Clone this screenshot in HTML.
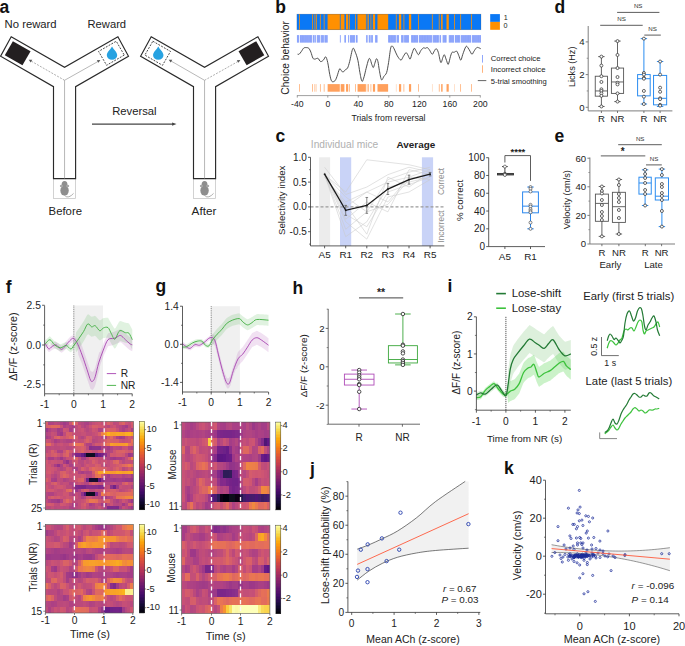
<!DOCTYPE html>
<html><head><meta charset="utf-8"><style>
html,body{margin:0;padding:0;background:#fff;width:685px;height:646px;overflow:hidden}
svg{display:block;font-family:"Liberation Sans", sans-serif}
</style></head><body>
<svg width="685" height="646" viewBox="0 0 685 646">
<defs><filter id="hblur" x="-5%" y="-5%" width="110%" height="110%"><feGaussianBlur stdDeviation="0.5"/></filter></defs>
<rect width="685" height="646" fill="#fff"/>
<text x="-0.5" y="12.8" font-size="17.5" text-anchor="start" fill="#111" font-weight="bold">a</text>
<text x="4.6" y="27.7" font-size="11.2" text-anchor="start" fill="#222" textLength="52" lengthAdjust="spacingAndGlyphs">No reward</text>
<text x="87.5" y="27.7" font-size="11.2" text-anchor="start" fill="#222" textLength="38.6" lengthAdjust="spacingAndGlyphs">Reward</text>
<rect x="53.5" y="178.6" width="22.1" height="19.8" fill="white" stroke="#c4c4c4" stroke-width="0.75" />
<path d="M11.2,36.7 L64.55,67.3 L117.9,36.7 L128.5,56.2 L75.6,86.7 L75.6,178.6 L53.5,178.6 L53.5,86.7 L0.6,56.2Z" stroke="#2a2a2a" stroke-width="1.15" fill="white" stroke-linejoin="miter"/>
<line x1="64.55" y1="80.5" x2="64.55" y2="178.6" stroke="#999" stroke-width="0.7" />
<rect x="7.48" y="45.15" width="20.4" height="16.2" fill="#231f20" transform="rotate(30 17.68 53.25)"/>
<rect x="101.22" y="45.25" width="20.4" height="16.0" fill="none" stroke="#333" stroke-width="0.8" stroke-dasharray="1.9 1.3" transform="rotate(150 111.42 53.25)"/>
<path d="M112.02,46.55 C113.52,49.55 117.22,52.05 117.22,55.25 A5.2,4.6 0 0 1 106.82,55.25 C106.82,52.05 110.52,49.55 112.02,46.55 Z" fill="#27a2e1"/>
<line x1="64.55" y1="80.3" x2="31" y2="61" stroke="#777" stroke-width="0.6" stroke-dasharray="2 1.3" />
<path d="M28.7,59.7 l3.6,0.1 l-1.6,2.6 Z" fill="#555"/>
<line x1="64.55" y1="80.3" x2="98.3" y2="61.3" stroke="#888" stroke-width="0.6" />
<path d="M100.4,60.1 l-3.6,0.1 l1.6,2.6 Z" fill="#555"/>
<ellipse cx="64.55" cy="190.6" rx="4.2" ry="5.0" fill="#8e8e8e"/>
<ellipse cx="64.55" cy="184.6" rx="2.9" ry="3.6" fill="#8e8e8e"/>
<ellipse cx="61.45" cy="186.0" rx="1.6" ry="1.2" fill="#a8a8a8"/>
<ellipse cx="67.65" cy="186.0" rx="1.6" ry="1.2" fill="#a8a8a8"/>
<path d="M64.55,195.2 q1.2,2.6 4.4,1.6 q2.6,-1.0 4.6,-3.4" stroke="#8e8e8e" stroke-width="0.7" fill="none"/>
<rect x="193.5" y="178.6" width="22.1" height="19.8" fill="white" stroke="#c4c4c4" stroke-width="0.75" />
<path d="M151.2,36.7 L204.55,67.3 L257.9,36.7 L268.5,56.2 L215.6,86.7 L215.6,178.6 L193.5,178.6 L193.5,86.7 L140.6,56.2Z" stroke="#2a2a2a" stroke-width="1.15" fill="white" stroke-linejoin="miter"/>
<line x1="204.55" y1="80.5" x2="204.55" y2="178.6" stroke="#999" stroke-width="0.7" />
<rect x="147.48" y="45.25" width="20.4" height="16.0" fill="none" stroke="#333" stroke-width="0.8" stroke-dasharray="1.9 1.3" transform="rotate(30 157.68 53.25)"/>
<path d="M158.28,46.55 C159.78,49.55 163.48,52.05 163.48,55.25 A5.2,4.6 0 0 1 153.08,55.25 C153.08,52.05 156.78,49.55 158.28,46.55 Z" fill="#27a2e1"/>
<rect x="241.22" y="45.15" width="20.4" height="16.2" fill="#231f20" transform="rotate(150 251.42 53.25)"/>
<line x1="204.55" y1="80.3" x2="171" y2="61" stroke="#888" stroke-width="0.6" />
<path d="M168.7,59.7 l3.6,0.1 l-1.6,2.6 Z" fill="#555"/>
<line x1="204.55" y1="80.3" x2="238.3" y2="61.3" stroke="#777" stroke-width="0.6" stroke-dasharray="2 1.3" />
<path d="M240.4,60.1 l-3.6,0.1 l1.6,2.6 Z" fill="#555"/>
<ellipse cx="204.55" cy="190.6" rx="4.2" ry="5.0" fill="#8e8e8e"/>
<ellipse cx="204.55" cy="184.6" rx="2.9" ry="3.6" fill="#8e8e8e"/>
<ellipse cx="201.45" cy="186.0" rx="1.6" ry="1.2" fill="#a8a8a8"/>
<ellipse cx="207.65" cy="186.0" rx="1.6" ry="1.2" fill="#a8a8a8"/>
<path d="M204.55,195.2 q1.2,2.6 4.4,1.6 q2.6,-1.0 4.6,-3.4" stroke="#8e8e8e" stroke-width="0.7" fill="none"/>
<text x="112.2" y="115.4" font-size="11.2" text-anchor="start" fill="#222" textLength="44.4" lengthAdjust="spacingAndGlyphs">Reversal</text>
<line x1="92" y1="124.1" x2="173" y2="124.1" stroke="#444" stroke-width="1.1" />
<path d="M176.5,124.1 l-4.4,-1.7 l0,3.4 Z" fill="#444"/>
<text x="48.6" y="214.6" font-size="11.2" text-anchor="start" fill="#222" textLength="33.4" lengthAdjust="spacingAndGlyphs">Before</text>
<text x="191.6" y="214.6" font-size="11.2" text-anchor="start" fill="#222" textLength="24.8" lengthAdjust="spacingAndGlyphs">After</text>
<text x="275.2" y="12.8" font-size="17.5" text-anchor="start" fill="#111" font-weight="bold">b</text>
<rect x="296.9" y="14.1" width="184.1" height="15.7" fill="#0a78f5" stroke="none" stroke-width="1" />
<g><rect x="299.2" y="14.1" width="0.77" height="15.7" fill="#ff9000"/><rect x="312.24" y="14.1" width="0.77" height="15.7" fill="#ff9000"/><rect x="314.54" y="14.1" width="0.77" height="15.7" fill="#ff9000"/><rect x="316.08" y="14.1" width="0.77" height="15.7" fill="#ff9000"/><rect x="319.91" y="14.1" width="0.77" height="15.7" fill="#ff9000"/><rect x="323.75" y="14.1" width="0.77" height="15.7" fill="#ff9000"/><rect x="327.58" y="14.1" width="12.27" height="15.7" fill="#ff9000"/><rect x="340.62" y="14.1" width="3.84" height="15.7" fill="#ff9000"/><rect x="345.99" y="14.1" width="2.3" height="15.7" fill="#ff9000"/><rect x="349.06" y="14.1" width="0.77" height="15.7" fill="#ff9000"/><rect x="355.2" y="14.1" width="0.77" height="15.7" fill="#ff9000"/><rect x="357.5" y="14.1" width="8.44" height="15.7" fill="#ff9000"/><rect x="366.7" y="14.1" width="0.77" height="15.7" fill="#ff9000"/><rect x="368.24" y="14.1" width="0.77" height="15.7" fill="#ff9000"/><rect x="370.54" y="14.1" width="0.77" height="15.7" fill="#ff9000"/><rect x="372.84" y="14.1" width="2.3" height="15.7" fill="#ff9000"/><rect x="377.44" y="14.1" width="10.74" height="15.7" fill="#ff9000"/><rect x="395.85" y="14.1" width="0.77" height="15.7" fill="#ff9000"/><rect x="398.92" y="14.1" width="2.3" height="15.7" fill="#ff9000"/><rect x="403.52" y="14.1" width="0.77" height="15.7" fill="#ff9000"/><rect x="408.89" y="14.1" width="2.3" height="15.7" fill="#ff9000"/><rect x="418.1" y="14.1" width="0.77" height="15.7" fill="#ff9000"/><rect x="431.91" y="14.1" width="0.77" height="15.7" fill="#ff9000"/><rect x="438.81" y="14.1" width="0.77" height="15.7" fill="#ff9000"/><rect x="441.11" y="14.1" width="1.53" height="15.7" fill="#ff9000"/><rect x="446.48" y="14.1" width="2.3" height="15.7" fill="#ff9000"/><rect x="454.15" y="14.1" width="0.77" height="15.7" fill="#ff9000"/><rect x="460.29" y="14.1" width="0.77" height="15.7" fill="#ff9000"/><rect x="471.03" y="14.1" width="0.77" height="15.7" fill="#ff9000"/></g>
<rect x="296.9" y="14.1" width="184.1" height="15.7" fill="none" stroke="rgba(60,60,60,0.35)" stroke-width="0.5" />
<g><rect x="299.25" y="84.1" width="0.67" height="7.6" fill="#ffa05c" fill-opacity="1.0"/><rect x="312.29" y="84.1" width="0.67" height="7.6" fill="#ffa05c" fill-opacity="1.0"/><rect x="314.59" y="84.1" width="0.67" height="7.6" fill="#ffa05c" fill-opacity="1.0"/><rect x="316.13" y="84.1" width="0.67" height="7.6" fill="#ffa05c" fill-opacity="0.45"/><rect x="319.96" y="84.1" width="0.67" height="7.6" fill="#ffa05c" fill-opacity="1.0"/><rect x="323.8" y="84.1" width="0.67" height="7.6" fill="#ffa05c" fill-opacity="1.0"/><rect x="327.63" y="84.1" width="12.17" height="7.6" fill="#ffa05c" fill-opacity="1.0"/><rect x="340.67" y="84.1" width="3.74" height="7.6" fill="#ffa05c" fill-opacity="1.0"/><rect x="346.04" y="84.1" width="2.2" height="7.6" fill="#ffa05c" fill-opacity="1.0"/><rect x="349.11" y="84.1" width="0.67" height="7.6" fill="#ffa05c" fill-opacity="1.0"/><rect x="355.25" y="84.1" width="0.67" height="7.6" fill="#ffa05c" fill-opacity="1.0"/><rect x="357.55" y="84.1" width="8.34" height="7.6" fill="#ffa05c" fill-opacity="1.0"/><rect x="366.75" y="84.1" width="0.67" height="7.6" fill="#ffa05c" fill-opacity="1.0"/><rect x="368.29" y="84.1" width="0.67" height="7.6" fill="#ffa05c" fill-opacity="1.0"/><rect x="370.59" y="84.1" width="0.67" height="7.6" fill="#ffa05c" fill-opacity="1.0"/><rect x="372.89" y="84.1" width="2.2" height="7.6" fill="#ffa05c" fill-opacity="1.0"/><rect x="377.49" y="84.1" width="10.64" height="7.6" fill="#ffa05c" fill-opacity="1.0"/><rect x="395.9" y="84.1" width="0.67" height="7.6" fill="#ffa05c" fill-opacity="0.45"/><rect x="398.97" y="84.1" width="2.2" height="7.6" fill="#ffa05c" fill-opacity="1.0"/><rect x="403.57" y="84.1" width="0.67" height="7.6" fill="#ffa05c" fill-opacity="1.0"/><rect x="408.94" y="84.1" width="2.2" height="7.6" fill="#ffa05c" fill-opacity="1.0"/><rect x="418.15" y="84.1" width="0.67" height="7.6" fill="#ffa05c" fill-opacity="1.0"/><rect x="431.96" y="84.1" width="0.67" height="7.6" fill="#ffa05c" fill-opacity="0.45"/><rect x="438.86" y="84.1" width="0.67" height="7.6" fill="#ffa05c" fill-opacity="1.0"/><rect x="441.16" y="84.1" width="1.43" height="7.6" fill="#ffa05c" fill-opacity="1.0"/><rect x="446.53" y="84.1" width="2.2" height="7.6" fill="#ffa05c" fill-opacity="1.0"/><rect x="454.2" y="84.1" width="0.67" height="7.6" fill="#ffa05c" fill-opacity="0.45"/><rect x="460.34" y="84.1" width="0.67" height="7.6" fill="#ffa05c" fill-opacity="1.0"/><rect x="471.08" y="84.1" width="0.67" height="7.6" fill="#ffa05c" fill-opacity="1.0"/><rect x="296.95" y="35.1" width="0.67" height="7.5" fill="#6283fa"/><rect x="297.72" y="35.1" width="0.67" height="7.5" fill="#6283fa"/><rect x="298.48" y="35.1" width="0.67" height="7.5" fill="#6283fa"/><rect x="300.02" y="35.1" width="0.67" height="7.5" fill="#6283fa"/><rect x="300.79" y="35.1" width="0.67" height="7.5" fill="#6283fa"/><rect x="301.55" y="35.1" width="0.67" height="7.5" fill="#6283fa"/><rect x="302.32" y="35.1" width="0.67" height="7.5" fill="#6283fa"/><rect x="303.09" y="35.1" width="0.67" height="7.5" fill="#6283fa"/><rect x="303.85" y="35.1" width="0.67" height="7.5" fill="#6283fa"/><rect x="304.62" y="35.1" width="0.67" height="7.5" fill="#6283fa"/><rect x="305.39" y="35.1" width="0.67" height="7.5" fill="#6283fa"/><rect x="306.15" y="35.1" width="0.67" height="7.5" fill="#6283fa"/><rect x="306.92" y="35.1" width="0.67" height="7.5" fill="#6283fa"/><rect x="307.69" y="35.1" width="0.67" height="7.5" fill="#6283fa"/><rect x="308.46" y="35.1" width="0.67" height="7.5" fill="#6283fa"/><rect x="309.22" y="35.1" width="0.67" height="7.5" fill="#6283fa"/><rect x="309.99" y="35.1" width="0.67" height="7.5" fill="#6283fa"/><rect x="310.76" y="35.1" width="0.67" height="7.5" fill="#6283fa"/><rect x="311.52" y="35.1" width="0.67" height="7.5" fill="#6283fa"/><rect x="313.06" y="35.1" width="0.67" height="7.5" fill="#6283fa"/><rect x="313.83" y="35.1" width="0.67" height="7.5" fill="#6283fa"/><rect x="315.36" y="35.1" width="0.67" height="7.5" fill="#6283fa"/><rect x="316.89" y="35.1" width="0.67" height="7.5" fill="#6283fa"/><rect x="317.66" y="35.1" width="0.67" height="7.5" fill="#6283fa"/><rect x="318.43" y="35.1" width="0.67" height="7.5" fill="#6283fa"/><rect x="319.2" y="35.1" width="0.67" height="7.5" fill="#6283fa"/><rect x="320.73" y="35.1" width="0.67" height="7.5" fill="#6283fa"/><rect x="321.5" y="35.1" width="0.67" height="7.5" fill="#6283fa"/><rect x="322.26" y="35.1" width="0.67" height="7.5" fill="#6283fa"/><rect x="323.03" y="35.1" width="0.67" height="7.5" fill="#6283fa"/><rect x="324.56" y="35.1" width="0.67" height="7.5" fill="#6283fa"/><rect x="325.33" y="35.1" width="0.67" height="7.5" fill="#6283fa"/><rect x="326.1" y="35.1" width="0.67" height="7.5" fill="#6283fa"/><rect x="326.87" y="35.1" width="0.67" height="7.5" fill="#6283fa"/><rect x="339.91" y="35.1" width="0.67" height="7.5" fill="#6283fa"/><rect x="344.51" y="35.1" width="0.67" height="7.5" fill="#6283fa"/><rect x="345.28" y="35.1" width="0.67" height="7.5" fill="#6283fa"/><rect x="348.34" y="35.1" width="0.67" height="7.5" fill="#6283fa"/><rect x="349.88" y="35.1" width="0.67" height="7.5" fill="#6283fa"/><rect x="350.65" y="35.1" width="0.67" height="7.5" fill="#6283fa"/><rect x="351.41" y="35.1" width="0.67" height="7.5" fill="#6283fa"/><rect x="352.18" y="35.1" width="0.67" height="7.5" fill="#6283fa"/><rect x="352.95" y="35.1" width="0.67" height="7.5" fill="#6283fa"/><rect x="353.71" y="35.1" width="0.67" height="7.5" fill="#6283fa"/><rect x="354.48" y="35.1" width="0.67" height="7.5" fill="#6283fa"/><rect x="356.02" y="35.1" width="0.67" height="7.5" fill="#6283fa"/><rect x="356.78" y="35.1" width="0.67" height="7.5" fill="#6283fa"/><rect x="365.99" y="35.1" width="0.67" height="7.5" fill="#6283fa"/><rect x="367.52" y="35.1" width="0.67" height="7.5" fill="#6283fa"/><rect x="369.06" y="35.1" width="0.67" height="7.5" fill="#6283fa"/><rect x="369.82" y="35.1" width="0.67" height="7.5" fill="#6283fa"/><rect x="371.36" y="35.1" width="0.67" height="7.5" fill="#6283fa"/><rect x="372.12" y="35.1" width="0.67" height="7.5" fill="#6283fa"/><rect x="375.19" y="35.1" width="0.67" height="7.5" fill="#6283fa"/><rect x="375.96" y="35.1" width="0.67" height="7.5" fill="#6283fa"/><rect x="376.73" y="35.1" width="0.67" height="7.5" fill="#6283fa"/><rect x="388.23" y="35.1" width="0.67" height="7.5" fill="#6283fa"/><rect x="389" y="35.1" width="0.67" height="7.5" fill="#6283fa"/><rect x="389.77" y="35.1" width="0.67" height="7.5" fill="#6283fa"/><rect x="390.53" y="35.1" width="0.67" height="7.5" fill="#6283fa"/><rect x="391.3" y="35.1" width="0.67" height="7.5" fill="#6283fa"/><rect x="392.07" y="35.1" width="0.67" height="7.5" fill="#6283fa"/><rect x="392.84" y="35.1" width="0.67" height="7.5" fill="#6283fa"/><rect x="393.6" y="35.1" width="0.67" height="7.5" fill="#6283fa"/><rect x="394.37" y="35.1" width="0.67" height="7.5" fill="#6283fa"/><rect x="395.14" y="35.1" width="0.67" height="7.5" fill="#6283fa"/><rect x="396.67" y="35.1" width="0.67" height="7.5" fill="#6283fa"/><rect x="397.44" y="35.1" width="0.67" height="7.5" fill="#6283fa"/><rect x="398.2" y="35.1" width="0.67" height="7.5" fill="#6283fa"/><rect x="401.27" y="35.1" width="0.67" height="7.5" fill="#6283fa"/><rect x="402.04" y="35.1" width="0.67" height="7.5" fill="#6283fa"/><rect x="402.81" y="35.1" width="0.67" height="7.5" fill="#6283fa"/><rect x="404.34" y="35.1" width="0.67" height="7.5" fill="#6283fa"/><rect x="405.11" y="35.1" width="0.67" height="7.5" fill="#6283fa"/><rect x="405.88" y="35.1" width="0.67" height="7.5" fill="#6283fa"/><rect x="406.64" y="35.1" width="0.67" height="7.5" fill="#6283fa"/><rect x="407.41" y="35.1" width="0.67" height="7.5" fill="#6283fa"/><rect x="408.18" y="35.1" width="0.67" height="7.5" fill="#6283fa"/><rect x="411.25" y="35.1" width="0.67" height="7.5" fill="#6283fa"/><rect x="412.01" y="35.1" width="0.67" height="7.5" fill="#6283fa"/><rect x="412.78" y="35.1" width="0.67" height="7.5" fill="#6283fa"/><rect x="413.55" y="35.1" width="0.67" height="7.5" fill="#6283fa"/><rect x="414.31" y="35.1" width="0.67" height="7.5" fill="#6283fa"/><rect x="415.08" y="35.1" width="0.67" height="7.5" fill="#6283fa"/><rect x="415.85" y="35.1" width="0.67" height="7.5" fill="#6283fa"/><rect x="416.62" y="35.1" width="0.67" height="7.5" fill="#6283fa"/><rect x="417.38" y="35.1" width="0.67" height="7.5" fill="#6283fa"/><rect x="418.92" y="35.1" width="0.67" height="7.5" fill="#6283fa"/><rect x="419.68" y="35.1" width="0.67" height="7.5" fill="#6283fa"/><rect x="420.45" y="35.1" width="0.67" height="7.5" fill="#6283fa"/><rect x="421.22" y="35.1" width="0.67" height="7.5" fill="#6283fa"/><rect x="421.98" y="35.1" width="0.67" height="7.5" fill="#6283fa"/><rect x="422.75" y="35.1" width="0.67" height="7.5" fill="#6283fa"/><rect x="423.52" y="35.1" width="0.67" height="7.5" fill="#6283fa"/><rect x="424.29" y="35.1" width="0.67" height="7.5" fill="#6283fa"/><rect x="425.05" y="35.1" width="0.67" height="7.5" fill="#6283fa"/><rect x="425.82" y="35.1" width="0.67" height="7.5" fill="#6283fa"/><rect x="426.59" y="35.1" width="0.67" height="7.5" fill="#6283fa"/><rect x="427.35" y="35.1" width="0.67" height="7.5" fill="#6283fa"/><rect x="428.12" y="35.1" width="0.67" height="7.5" fill="#6283fa"/><rect x="428.89" y="35.1" width="0.67" height="7.5" fill="#6283fa"/><rect x="429.66" y="35.1" width="0.67" height="7.5" fill="#6283fa"/><rect x="430.42" y="35.1" width="0.67" height="7.5" fill="#6283fa"/><rect x="431.19" y="35.1" width="0.67" height="7.5" fill="#6283fa"/><rect x="432.72" y="35.1" width="0.67" height="7.5" fill="#6283fa"/><rect x="433.49" y="35.1" width="0.67" height="7.5" fill="#6283fa"/><rect x="434.26" y="35.1" width="0.67" height="7.5" fill="#6283fa"/><rect x="435.03" y="35.1" width="0.67" height="7.5" fill="#6283fa"/><rect x="435.79" y="35.1" width="0.67" height="7.5" fill="#6283fa"/><rect x="436.56" y="35.1" width="0.67" height="7.5" fill="#6283fa"/><rect x="437.33" y="35.1" width="0.67" height="7.5" fill="#6283fa"/><rect x="438.09" y="35.1" width="0.67" height="7.5" fill="#6283fa"/><rect x="439.63" y="35.1" width="0.67" height="7.5" fill="#6283fa"/><rect x="440.39" y="35.1" width="0.67" height="7.5" fill="#6283fa"/><rect x="442.7" y="35.1" width="0.67" height="7.5" fill="#6283fa"/><rect x="443.46" y="35.1" width="0.67" height="7.5" fill="#6283fa"/><rect x="444.23" y="35.1" width="0.67" height="7.5" fill="#6283fa"/><rect x="445" y="35.1" width="0.67" height="7.5" fill="#6283fa"/><rect x="445.76" y="35.1" width="0.67" height="7.5" fill="#6283fa"/><rect x="448.83" y="35.1" width="0.67" height="7.5" fill="#6283fa"/><rect x="449.6" y="35.1" width="0.67" height="7.5" fill="#6283fa"/><rect x="450.37" y="35.1" width="0.67" height="7.5" fill="#6283fa"/><rect x="451.13" y="35.1" width="0.67" height="7.5" fill="#6283fa"/><rect x="451.9" y="35.1" width="0.67" height="7.5" fill="#6283fa"/><rect x="452.67" y="35.1" width="0.67" height="7.5" fill="#6283fa"/><rect x="453.44" y="35.1" width="0.67" height="7.5" fill="#6283fa"/><rect x="454.97" y="35.1" width="0.67" height="7.5" fill="#6283fa"/><rect x="455.74" y="35.1" width="0.67" height="7.5" fill="#6283fa"/><rect x="456.5" y="35.1" width="0.67" height="7.5" fill="#6283fa"/><rect x="457.27" y="35.1" width="0.67" height="7.5" fill="#6283fa"/><rect x="458.04" y="35.1" width="0.67" height="7.5" fill="#6283fa"/><rect x="458.8" y="35.1" width="0.67" height="7.5" fill="#6283fa"/><rect x="459.57" y="35.1" width="0.67" height="7.5" fill="#6283fa"/><rect x="461.11" y="35.1" width="0.67" height="7.5" fill="#6283fa"/><rect x="461.87" y="35.1" width="0.67" height="7.5" fill="#6283fa"/><rect x="462.64" y="35.1" width="0.67" height="7.5" fill="#6283fa"/><rect x="463.41" y="35.1" width="0.67" height="7.5" fill="#6283fa"/><rect x="464.17" y="35.1" width="0.67" height="7.5" fill="#6283fa"/><rect x="464.94" y="35.1" width="0.67" height="7.5" fill="#6283fa"/><rect x="465.71" y="35.1" width="0.67" height="7.5" fill="#6283fa"/><rect x="466.48" y="35.1" width="0.67" height="7.5" fill="#6283fa"/><rect x="467.24" y="35.1" width="0.67" height="7.5" fill="#6283fa"/><rect x="468.01" y="35.1" width="0.67" height="7.5" fill="#6283fa"/><rect x="468.78" y="35.1" width="0.67" height="7.5" fill="#6283fa"/><rect x="469.54" y="35.1" width="0.67" height="7.5" fill="#6283fa"/><rect x="470.31" y="35.1" width="0.67" height="7.5" fill="#6283fa"/><rect x="471.85" y="35.1" width="0.67" height="7.5" fill="#6283fa"/><rect x="472.61" y="35.1" width="0.67" height="7.5" fill="#6283fa"/><rect x="473.38" y="35.1" width="0.67" height="7.5" fill="#6283fa"/><rect x="474.15" y="35.1" width="0.67" height="7.5" fill="#6283fa"/><rect x="474.91" y="35.1" width="0.67" height="7.5" fill="#6283fa"/><rect x="475.68" y="35.1" width="0.67" height="7.5" fill="#6283fa"/><rect x="476.45" y="35.1" width="0.67" height="7.5" fill="#6283fa"/><rect x="477.21" y="35.1" width="0.67" height="7.5" fill="#6283fa"/><rect x="477.98" y="35.1" width="0.67" height="7.5" fill="#6283fa"/><rect x="478.75" y="35.1" width="0.67" height="7.5" fill="#6283fa"/><rect x="479.52" y="35.1" width="0.67" height="7.5" fill="#6283fa"/><rect x="480.28" y="35.1" width="0.67" height="7.5" fill="#6283fa"/></g>
<path d="M297.6,54.2 C297.85,54.2 298.5,54.62 299.1,54.2 C299.7,53.78 300.43,52.72 301.2,51.7 C301.97,50.68 302.85,48.78 303.7,48.1 C304.55,47.42 305.45,47.57 306.3,47.6 C307.15,47.63 308.03,47.53 308.8,48.3 C309.57,49.07 310.22,50.57 310.9,52.2 C311.58,53.83 312.23,56.95 312.9,58.1 C313.57,59.25 314.05,59.07 314.9,59.1 C315.75,59.13 317.05,57.88 318,58.3 C318.95,58.72 319.67,61.35 320.6,61.6 C321.53,61.85 322.75,60.6 323.6,59.8 C324.45,59 325.02,56.37 325.7,56.8 C326.38,57.23 327.02,59.42 327.7,62.4 C328.38,65.38 329.12,71.55 329.8,74.7 C330.48,77.85 330.95,80.28 331.8,81.3 C332.65,82.32 334.05,81.57 334.9,80.8 C335.75,80.03 336.13,78.67 336.9,76.7 C337.67,74.73 338.82,70.1 339.5,69 C340.18,67.9 340.42,69.58 341,70.1 C341.58,70.62 342.23,72.2 343,72.1 C343.77,72 344.83,70.18 345.6,69.5 C346.37,68.82 346.92,69.35 347.6,68 C348.28,66.65 348.83,64.63 349.7,61.4 C350.57,58.17 351.87,50.13 352.8,48.6 C353.73,47.07 354.45,50.23 355.3,52.2 C356.15,54.17 357.13,57 357.9,60.4 C358.67,63.8 359.22,69.12 359.9,72.6 C360.58,76.08 361.3,80.62 362,81.3 C362.7,81.98 363.42,78.83 364.1,76.7 C364.78,74.57 365.33,71.4 366.1,68.5 C366.87,65.6 368.02,60.83 368.7,59.3 C369.38,57.77 369.68,58.45 370.2,59.3 C370.72,60.15 371.28,63.03 371.8,64.4 C372.32,65.77 372.8,67.67 373.3,67.5 C373.8,67.33 374.28,64.85 374.8,63.4 C375.32,61.95 375.88,59.13 376.4,58.8 C376.92,58.47 377.4,59.43 377.9,61.4 C378.4,63.37 378.8,67.53 379.4,70.6 C380,73.67 380.73,78.87 381.5,79.8 C382.27,80.73 383.15,77.4 384,76.2 C384.85,75 385.83,74.9 386.6,72.6 C387.37,70.3 387.92,66.48 388.6,62.4 C389.28,58.32 390.05,50.8 390.7,48.1 C391.35,45.4 391.83,45.87 392.5,46.2 C393.17,46.53 393.9,48.5 394.7,50.1 C395.5,51.7 396.27,54.13 397.3,55.8 C398.33,57.47 399.88,60.02 400.9,60.1 C401.92,60.18 402.55,57.53 403.4,56.3 C404.25,55.07 405.23,52.88 406,52.7 C406.77,52.52 407.32,54.13 408,55.2 C408.68,56.27 409.42,59.43 410.1,59.1 C410.78,58.77 411.42,55 412.1,53.2 C412.78,51.4 413.52,48.63 414.2,48.3 C414.88,47.97 415.48,50.13 416.2,51.2 C416.92,52.27 417.73,54.8 418.5,54.7 C419.27,54.6 419.98,51.73 420.8,50.6 C421.62,49.47 422.63,48.28 423.4,47.9 C424.17,47.52 424.73,48.35 425.4,48.3 C426.07,48.25 426.7,47.28 427.4,47.6 C428.1,47.92 428.8,49.08 429.6,50.2 C430.4,51.32 431.43,54.13 432.2,54.3 C432.97,54.47 433.53,52.13 434.2,51.2 C434.87,50.27 435.52,48.52 436.2,48.7 C436.88,48.88 437.53,50 438.3,52.3 C439.07,54.6 440.03,61.65 440.8,62.5 C441.57,63.35 442.3,58.68 442.9,57.4 C443.5,56.12 443.8,54.3 444.4,54.8 C445,55.3 445.85,58.82 446.5,60.4 C447.15,61.98 447.63,64.98 448.3,64.3 C448.97,63.62 449.87,58.3 450.5,56.3 C451.13,54.3 451.5,52.97 452.1,52.3 C452.7,51.63 453.33,52.48 454.1,52.3 C454.87,52.12 455.93,50.7 456.7,51.2 C457.47,51.7 458.02,53.8 458.7,55.3 C459.38,56.8 460.12,60.37 460.8,60.2 C461.48,60.03 461.95,56.57 462.8,54.3 C463.65,52.03 465.05,47.7 465.9,46.6 C466.75,45.5 467.22,46.93 467.9,47.7 C468.58,48.47 469.32,50.1 470,51.2 C470.68,52.3 471.33,54.3 472,54.3 C472.67,54.3 473.23,52.3 474,51.2 C474.77,50.1 475.83,48.28 476.6,47.7 C477.37,47.12 477.92,47.53 478.6,47.7 C479.28,47.87 480.35,48.53 480.7,48.7" stroke="#444" stroke-width="0.95" fill="none" />
<line x1="296.9" y1="95.6" x2="480.6" y2="95.6" stroke="#a0a0a0" stroke-width="1.0" />
<line x1="297.3" y1="95.6" x2="297.3" y2="97.6" stroke="#777" stroke-width="0.7" />
<text x="297.3" y="106.6" font-size="8.7" text-anchor="middle" fill="#222">-40</text>
<line x1="327.8" y1="95.6" x2="327.8" y2="97.6" stroke="#777" stroke-width="0.7" />
<text x="327.8" y="106.6" font-size="8.7" text-anchor="middle" fill="#222">0</text>
<line x1="358.3" y1="95.6" x2="358.3" y2="97.6" stroke="#777" stroke-width="0.7" />
<text x="358.3" y="106.6" font-size="8.7" text-anchor="middle" fill="#222">40</text>
<line x1="388.8" y1="95.6" x2="388.8" y2="97.6" stroke="#777" stroke-width="0.7" />
<text x="388.8" y="106.6" font-size="8.7" text-anchor="middle" fill="#222">80</text>
<line x1="419.3" y1="95.6" x2="419.3" y2="97.6" stroke="#777" stroke-width="0.7" />
<text x="419.3" y="106.6" font-size="8.7" text-anchor="middle" fill="#222">120</text>
<line x1="449.8" y1="95.6" x2="449.8" y2="97.6" stroke="#777" stroke-width="0.7" />
<text x="449.8" y="106.6" font-size="8.7" text-anchor="middle" fill="#222">160</text>
<line x1="480.3" y1="95.6" x2="480.3" y2="97.6" stroke="#777" stroke-width="0.7" />
<text x="480.3" y="106.6" font-size="8.7" text-anchor="middle" fill="#222">200</text>
<text x="388.5" y="121.2" font-size="8.7" text-anchor="middle" fill="#222">Trials from reversal</text>
<text x="288.8" y="57.9" font-size="10.2" text-anchor="middle" fill="#222" transform="rotate(-90 288.8 57.9)">Choice behavior</text>
<rect x="490.2" y="14.1" width="9.7" height="7.8" fill="#0a78f5" stroke="none" stroke-width="1" />
<rect x="490.2" y="21.9" width="9.7" height="7.9" fill="#ff9000" stroke="none" stroke-width="1" />
<text x="503.8" y="20.4" font-size="7.2" text-anchor="start" fill="#222">1</text>
<text x="503.6" y="28.2" font-size="7.2" text-anchor="start" fill="#222">0</text>
<line x1="482.5" y1="55" x2="482.5" y2="62.6" stroke="#7390fb" stroke-width="0.8" />
<line x1="482.5" y1="65.3" x2="482.5" y2="72.8" stroke="#ffa05c" stroke-width="0.8" />
<line x1="477.8" y1="80.6" x2="486.3" y2="80.6" stroke="#555" stroke-width="0.9" />
<text x="490.8" y="61.4" font-size="7.3" text-anchor="start" fill="#222" textLength="49.7" lengthAdjust="spacingAndGlyphs">Correct choice</text>
<text x="490.8" y="72.1" font-size="7.3" text-anchor="start" fill="#222" textLength="54.7" lengthAdjust="spacingAndGlyphs">Incorrect choice</text>
<text x="490.8" y="83.5" font-size="7.3" text-anchor="start" fill="#222" textLength="56" lengthAdjust="spacingAndGlyphs">5-trial smoothing</text>
<text x="275.5" y="142" font-size="17.5" text-anchor="start" fill="#111" font-weight="bold">c</text>
<text x="310.8" y="147.8" font-size="10.1" text-anchor="start" fill="#b0b0b0" textLength="67.5" lengthAdjust="spacingAndGlyphs">Individual mice</text>
<text x="396.6" y="147.8" font-size="9.9" text-anchor="start" fill="#222" font-weight="bold">Average</text>
<rect x="319.1" y="157.3" width="11" height="88.6" fill="#ececec" stroke="none" stroke-width="1" />
<rect x="340" y="157.3" width="11.2" height="88.6" fill="#c9d3f7" stroke="none" stroke-width="1" />
<rect x="421.9" y="157.3" width="11.2" height="88.6" fill="#c9d3f7" stroke="none" stroke-width="1" />
<path d="M324.6,174.66 L345.7,192.02 L366.8,159.78 L387.9,162.26 L409,164.74 L430.1,169.7" stroke="#cacaca" stroke-width="0.55" fill="none" />
<path d="M324.6,167.22 L345.7,194.5 L366.8,187.06 L387.9,174.66 L409,167.22 L430.1,172.18" stroke="#cacaca" stroke-width="0.55" fill="none" />
<path d="M324.6,174.66 L345.7,196.98 L366.8,211.86 L387.9,179.62 L409,172.18 L430.1,167.22" stroke="#cacaca" stroke-width="0.55" fill="none" />
<path d="M324.6,177.14 L345.7,201.94 L366.8,192.02 L387.9,182.1 L409,177.14 L430.1,179.62" stroke="#cacaca" stroke-width="0.55" fill="none" />
<path d="M324.6,174.66 L345.7,206.9 L366.8,192.02 L387.9,201.94 L409,177.14 L430.1,169.7" stroke="#cacaca" stroke-width="0.55" fill="none" />
<path d="M324.6,174.66 L345.7,214.34 L366.8,226.74 L387.9,192.02 L409,184.58 L430.1,177.14" stroke="#cacaca" stroke-width="0.55" fill="none" />
<path d="M324.6,174.66 L345.7,221.78 L366.8,239.14 L387.9,196.98 L409,192.02 L430.1,179.62" stroke="#cacaca" stroke-width="0.55" fill="none" />
<path d="M324.6,174.66 L345.7,229.22 L366.8,211.86 L387.9,204.42 L409,179.62 L430.1,172.18" stroke="#cacaca" stroke-width="0.55" fill="none" />
<path d="M324.6,174.66 L345.7,236.66 L366.8,221.78 L387.9,187.06 L409,182.1 L430.1,177.14" stroke="#cacaca" stroke-width="0.55" fill="none" />
<path d="M324.6,172.18 L345.7,219.3 L366.8,201.94 L387.9,211.86 L409,169.7 L430.1,174.66" stroke="#cacaca" stroke-width="0.55" fill="none" />
<path d="M324.6,177.14 L345.7,204.42 L366.8,234.18 L387.9,177.14 L409,187.06 L430.1,172.18" stroke="#cacaca" stroke-width="0.55" fill="none" />
<line x1="310.5" y1="206.9" x2="444.3" y2="206.9" stroke="#9a9a9a" stroke-width="1.1" stroke-dasharray="3 2" />
<line x1="345.7" y1="205.41" x2="345.7" y2="215.33" stroke="#555" stroke-width="0.7" />
<line x1="344.4" y1="205.41" x2="347" y2="205.41" stroke="#555" stroke-width="0.7" />
<line x1="344.4" y1="215.33" x2="347" y2="215.33" stroke="#555" stroke-width="0.7" />
<line x1="366.8" y1="197.48" x2="366.8" y2="213.35" stroke="#555" stroke-width="0.7" />
<line x1="365.5" y1="197.48" x2="368.1" y2="197.48" stroke="#555" stroke-width="0.7" />
<line x1="365.5" y1="213.35" x2="368.1" y2="213.35" stroke="#555" stroke-width="0.7" />
<line x1="387.9" y1="183.59" x2="387.9" y2="194.5" stroke="#555" stroke-width="0.7" />
<line x1="386.6" y1="183.59" x2="389.2" y2="183.59" stroke="#555" stroke-width="0.7" />
<line x1="386.6" y1="194.5" x2="389.2" y2="194.5" stroke="#555" stroke-width="0.7" />
<line x1="409" y1="175.16" x2="409" y2="184.08" stroke="#555" stroke-width="0.7" />
<line x1="407.7" y1="175.16" x2="410.3" y2="175.16" stroke="#555" stroke-width="0.7" />
<line x1="407.7" y1="184.08" x2="410.3" y2="184.08" stroke="#555" stroke-width="0.7" />
<line x1="430.1" y1="172.43" x2="430.1" y2="175.9" stroke="#555" stroke-width="0.7" />
<line x1="428.8" y1="172.43" x2="431.4" y2="172.43" stroke="#555" stroke-width="0.7" />
<line x1="428.8" y1="175.9" x2="431.4" y2="175.9" stroke="#555" stroke-width="0.7" />
<path d="M324.6,174.16 L345.7,210.37 L366.8,205.41 L387.9,189.04 L409,179.62 L430.1,174.16" stroke="#1a1a1a" stroke-width="1.3" fill="none" />
<circle cx="324.6" cy="174.16" r="0.9" fill="#1a1a1a" stroke="none" stroke-width="0"/>
<circle cx="345.7" cy="210.37" r="0.9" fill="#1a1a1a" stroke="none" stroke-width="0"/>
<circle cx="366.8" cy="205.41" r="0.9" fill="#1a1a1a" stroke="none" stroke-width="0"/>
<circle cx="387.9" cy="189.04" r="0.9" fill="#1a1a1a" stroke="none" stroke-width="0"/>
<circle cx="409" cy="179.62" r="0.9" fill="#1a1a1a" stroke="none" stroke-width="0"/>
<circle cx="430.1" cy="174.16" r="0.9" fill="#1a1a1a" stroke="none" stroke-width="0"/>
<line x1="310.5" y1="157.3" x2="310.5" y2="245.9" stroke="#333" stroke-width="0.8" />
<line x1="308" y1="157.3" x2="310.5" y2="157.3" stroke="#333" stroke-width="0.8" />
<text x="306.8" y="160.8" font-size="10.0" text-anchor="end" fill="#222">1.0</text>
<line x1="308" y1="182.1" x2="310.5" y2="182.1" stroke="#333" stroke-width="0.8" />
<text x="306.8" y="185.6" font-size="10.0" text-anchor="end" fill="#222">0.5</text>
<line x1="308" y1="206.9" x2="310.5" y2="206.9" stroke="#333" stroke-width="0.8" />
<text x="306.8" y="210.4" font-size="10.0" text-anchor="end" fill="#222">0.0</text>
<line x1="308" y1="231.7" x2="310.5" y2="231.7" stroke="#333" stroke-width="0.8" />
<text x="306.8" y="235.2" font-size="10.0" text-anchor="end" fill="#222">-0.5</text>
<line x1="309" y1="169.7" x2="310.5" y2="169.7" stroke="#333" stroke-width="0.6400000000000001" />
<line x1="309" y1="194.5" x2="310.5" y2="194.5" stroke="#333" stroke-width="0.6400000000000001" />
<line x1="309" y1="219.3" x2="310.5" y2="219.3" stroke="#333" stroke-width="0.6400000000000001" />
<line x1="309" y1="244.1" x2="310.5" y2="244.1" stroke="#333" stroke-width="0.6400000000000001" />
<line x1="310.5" y1="245.9" x2="444.3" y2="245.9" stroke="#333" stroke-width="0.8" />
<line x1="324.6" y1="245.9" x2="324.6" y2="248.3" stroke="#333" stroke-width="0.8" />
<text x="324.6" y="258.2" font-size="9.9" text-anchor="middle" fill="#222">A5</text>
<line x1="345.7" y1="245.9" x2="345.7" y2="248.3" stroke="#333" stroke-width="0.8" />
<text x="345.7" y="258.2" font-size="9.9" text-anchor="middle" fill="#222">R1</text>
<line x1="366.8" y1="245.9" x2="366.8" y2="248.3" stroke="#333" stroke-width="0.8" />
<text x="366.8" y="258.2" font-size="9.9" text-anchor="middle" fill="#222">R2</text>
<line x1="387.9" y1="245.9" x2="387.9" y2="248.3" stroke="#333" stroke-width="0.8" />
<text x="387.9" y="258.2" font-size="9.9" text-anchor="middle" fill="#222">R3</text>
<line x1="409" y1="245.9" x2="409" y2="248.3" stroke="#333" stroke-width="0.8" />
<text x="409" y="258.2" font-size="9.9" text-anchor="middle" fill="#222">R4</text>
<line x1="430.1" y1="245.9" x2="430.1" y2="248.3" stroke="#333" stroke-width="0.8" />
<text x="430.1" y="258.2" font-size="9.9" text-anchor="middle" fill="#222">R5</text>
<text x="285.4" y="200.3" font-size="9.7" text-anchor="middle" fill="#222" transform="rotate(-90 285.4 200.3)">Selectivity index</text>
<text x="444.3" y="181.5" font-size="8.3" text-anchor="middle" fill="#8c8c8c" transform="rotate(-90 444.3 181.5)">Correct</text>
<text x="444.3" y="226.5" font-size="8.3" text-anchor="middle" fill="#8c8c8c" transform="rotate(-90 444.3 226.5)">Incorrect</text>
<line x1="488.7" y1="157.7" x2="488.7" y2="246.6" stroke="#333" stroke-width="0.8" />
<line x1="486.2" y1="157.7" x2="488.7" y2="157.7" stroke="#333" stroke-width="0.8" />
<text x="485" y="161.2" font-size="10.0" text-anchor="end" fill="#222">100</text>
<line x1="486.2" y1="175.48" x2="488.7" y2="175.48" stroke="#333" stroke-width="0.8" />
<text x="485" y="178.98" font-size="10.0" text-anchor="end" fill="#222">80</text>
<line x1="486.2" y1="193.26" x2="488.7" y2="193.26" stroke="#333" stroke-width="0.8" />
<text x="485" y="196.76" font-size="10.0" text-anchor="end" fill="#222">60</text>
<line x1="486.2" y1="211.04" x2="488.7" y2="211.04" stroke="#333" stroke-width="0.8" />
<text x="485" y="214.54" font-size="10.0" text-anchor="end" fill="#222">40</text>
<line x1="486.2" y1="228.82" x2="488.7" y2="228.82" stroke="#333" stroke-width="0.8" />
<text x="485" y="232.32" font-size="10.0" text-anchor="end" fill="#222">20</text>
<line x1="486.2" y1="246.6" x2="488.7" y2="246.6" stroke="#333" stroke-width="0.8" />
<text x="485" y="250.1" font-size="10.0" text-anchor="end" fill="#222">0</text>
<line x1="488.7" y1="246.6" x2="545" y2="246.6" stroke="#333" stroke-width="0.8" />
<line x1="504.9" y1="246.6" x2="504.9" y2="249" stroke="#333" stroke-width="0.8" />
<text x="504.9" y="259.8" font-size="9.9" text-anchor="middle" fill="#222">A5</text>
<line x1="530.5" y1="246.6" x2="530.5" y2="249" stroke="#333" stroke-width="0.8" />
<text x="530.5" y="259.8" font-size="9.9" text-anchor="middle" fill="#222">R1</text>
<text x="462.7" y="200.4" font-size="9.75" text-anchor="middle" fill="#222" transform="rotate(-90 462.7 200.4)">% correct</text>
<line x1="504.9" y1="166.59" x2="504.9" y2="173.7" stroke="#333" stroke-width="0.9" />
<line x1="502" y1="166.59" x2="507.8" y2="166.59" stroke="#333" stroke-width="0.9" />
<rect x="497.5" y="173.44" width="16" height="1.51" fill="#555" stroke="#333" stroke-width="0.9" />
<circle cx="504.9" cy="166.59" r="1.5" fill="white" stroke="#333" stroke-width="0.6"/>
<circle cx="504.9" cy="173.7" r="1.5" fill="white" stroke="#333" stroke-width="0.6"/>
<circle cx="504.9" cy="174.15" r="1.5" fill="white" stroke="#333" stroke-width="0.6"/>
<circle cx="504.9" cy="174.59" r="1.5" fill="white" stroke="#333" stroke-width="0.6"/>
<circle cx="504.9" cy="174.95" r="1.5" fill="white" stroke="#333" stroke-width="0.6"/>
<line x1="530.5" y1="187.04" x2="530.5" y2="191.93" stroke="#2a87ee" stroke-width="1.0" />
<line x1="530.5" y1="212.82" x2="530.5" y2="228.82" stroke="#2a87ee" stroke-width="1.0" />
<line x1="527.3" y1="187.04" x2="533.7" y2="187.04" stroke="#2a87ee" stroke-width="1.0" />
<line x1="527.3" y1="228.82" x2="533.7" y2="228.82" stroke="#2a87ee" stroke-width="1.0" />
<rect x="522.6" y="191.93" width="15.8" height="20.89" fill="none" stroke="#2a87ee" stroke-width="1.0" />
<line x1="522.6" y1="206.15" x2="538.4" y2="206.15" stroke="#2a87ee" stroke-width="1.0" />
<circle cx="530.5" cy="187.04" r="1.5" fill="white" stroke="#333" stroke-width="0.6"/>
<circle cx="530.5" cy="188.81" r="1.5" fill="white" stroke="#333" stroke-width="0.6"/>
<circle cx="530.5" cy="191.48" r="1.5" fill="white" stroke="#333" stroke-width="0.6"/>
<circle cx="530.5" cy="204.82" r="1.5" fill="white" stroke="#333" stroke-width="0.6"/>
<circle cx="530.5" cy="206.59" r="1.5" fill="white" stroke="#333" stroke-width="0.6"/>
<circle cx="530.5" cy="209.26" r="1.5" fill="white" stroke="#333" stroke-width="0.6"/>
<circle cx="530.5" cy="211.04" r="1.5" fill="white" stroke="#333" stroke-width="0.6"/>
<circle cx="530.5" cy="212.37" r="1.5" fill="white" stroke="#333" stroke-width="0.6"/>
<circle cx="530.5" cy="222.6" r="1.5" fill="white" stroke="#333" stroke-width="0.6"/>
<circle cx="530.5" cy="228.82" r="1.5" fill="white" stroke="#333" stroke-width="0.6"/>
<line x1="504.9" y1="155.6" x2="530.5" y2="155.6" stroke="#333" stroke-width="0.8" />
<line x1="504.9" y1="155.6" x2="504.9" y2="162.5" stroke="#333" stroke-width="0.8" />
<line x1="530.5" y1="155.6" x2="530.5" y2="180.9" stroke="#333" stroke-width="0.8" />
<text x="517.9" y="154.6" font-size="9.5" text-anchor="middle" fill="#222" font-weight="bold">****</text>
<text x="554.6" y="12.8" font-size="17.5" text-anchor="start" fill="#111" font-weight="bold">d</text>
<line x1="588.2" y1="26" x2="588.2" y2="110.9" stroke="#777" stroke-width="0.95" />
<line x1="585.7" y1="41.9" x2="588.2" y2="41.9" stroke="#777" stroke-width="0.95" />
<text x="584.5" y="45.26" font-size="9.6" text-anchor="end" fill="#222">4</text>
<line x1="585.7" y1="74.6" x2="588.2" y2="74.6" stroke="#777" stroke-width="0.95" />
<text x="584.5" y="77.96" font-size="9.6" text-anchor="end" fill="#222">2</text>
<line x1="585.7" y1="107.3" x2="588.2" y2="107.3" stroke="#777" stroke-width="0.95" />
<text x="584.5" y="110.66" font-size="9.6" text-anchor="end" fill="#222">0</text>
<line x1="586.7" y1="58.25" x2="588.2" y2="58.25" stroke="#777" stroke-width="0.76" />
<line x1="586.7" y1="90.95" x2="588.2" y2="90.95" stroke="#777" stroke-width="0.76" />
<line x1="588.2" y1="110.9" x2="672.4" y2="110.9" stroke="#777" stroke-width="0.95" />
<line x1="601.4" y1="110.9" x2="601.4" y2="113" stroke="#555" stroke-width="0.8" />
<text x="601.4" y="122.4" font-size="9.6" text-anchor="middle" fill="#222">R</text>
<line x1="617.5" y1="110.9" x2="617.5" y2="113" stroke="#555" stroke-width="0.8" />
<text x="617.5" y="122.4" font-size="9.6" text-anchor="middle" fill="#222">NR</text>
<line x1="643.9" y1="110.9" x2="643.9" y2="113" stroke="#555" stroke-width="0.8" />
<text x="643.9" y="122.4" font-size="9.6" text-anchor="middle" fill="#222">R</text>
<line x1="660.1" y1="110.9" x2="660.1" y2="113" stroke="#555" stroke-width="0.8" />
<text x="660.1" y="122.4" font-size="9.6" text-anchor="middle" fill="#222">NR</text>
<text x="575" y="66.8" font-size="9.15" text-anchor="middle" fill="#222" transform="rotate(-90 575 66.8)">Licks (Hz)</text>
<line x1="601.4" y1="56.61" x2="601.4" y2="76.23" stroke="#555" stroke-width="0.9" />
<line x1="601.4" y1="96.18" x2="601.4" y2="106.48" stroke="#555" stroke-width="0.9" />
<line x1="598.2" y1="56.61" x2="604.6" y2="56.61" stroke="#555" stroke-width="0.9" />
<line x1="598.2" y1="106.48" x2="604.6" y2="106.48" stroke="#555" stroke-width="0.9" />
<rect x="595.25" y="76.23" width="12.3" height="19.95" fill="none" stroke="#555" stroke-width="0.9" />
<line x1="595.25" y1="90.95" x2="607.55" y2="90.95" stroke="#555" stroke-width="0.9" />
<circle cx="601.4" cy="56.61" r="1.5" fill="white" stroke="#333" stroke-width="0.75"/>
<circle cx="601.4" cy="65.61" r="1.5" fill="white" stroke="#333" stroke-width="0.75"/>
<circle cx="601.4" cy="76.23" r="1.5" fill="white" stroke="#333" stroke-width="0.75"/>
<circle cx="601.4" cy="81.96" r="1.5" fill="white" stroke="#333" stroke-width="0.75"/>
<circle cx="601.4" cy="89.31" r="1.5" fill="white" stroke="#333" stroke-width="0.75"/>
<circle cx="601.4" cy="90.95" r="1.5" fill="white" stroke="#333" stroke-width="0.75"/>
<circle cx="601.4" cy="93.4" r="1.5" fill="white" stroke="#333" stroke-width="0.75"/>
<circle cx="601.4" cy="95.85" r="1.5" fill="white" stroke="#333" stroke-width="0.75"/>
<circle cx="601.4" cy="106.48" r="1.5" fill="white" stroke="#333" stroke-width="0.75"/>
<line x1="617.5" y1="41.08" x2="617.5" y2="68.06" stroke="#555" stroke-width="0.9" />
<line x1="617.5" y1="93.4" x2="617.5" y2="101.58" stroke="#555" stroke-width="0.9" />
<line x1="614.3" y1="41.08" x2="620.7" y2="41.08" stroke="#555" stroke-width="0.9" />
<line x1="614.3" y1="101.58" x2="620.7" y2="101.58" stroke="#555" stroke-width="0.9" />
<rect x="611.4" y="68.06" width="12.2" height="25.34" fill="none" stroke="#555" stroke-width="0.9" />
<line x1="611.4" y1="81.96" x2="623.6" y2="81.96" stroke="#555" stroke-width="0.9" />
<circle cx="617.5" cy="41.08" r="1.5" fill="white" stroke="#333" stroke-width="0.75"/>
<circle cx="617.5" cy="54.98" r="1.5" fill="white" stroke="#333" stroke-width="0.75"/>
<circle cx="617.5" cy="68.06" r="1.5" fill="white" stroke="#333" stroke-width="0.75"/>
<circle cx="617.5" cy="77.05" r="1.5" fill="white" stroke="#333" stroke-width="0.75"/>
<circle cx="617.5" cy="82.77" r="1.5" fill="white" stroke="#333" stroke-width="0.75"/>
<circle cx="617.5" cy="84.41" r="1.5" fill="white" stroke="#333" stroke-width="0.75"/>
<circle cx="617.5" cy="93.4" r="1.5" fill="white" stroke="#333" stroke-width="0.75"/>
<circle cx="617.5" cy="101.58" r="1.5" fill="white" stroke="#333" stroke-width="0.75"/>
<line x1="643.9" y1="38.63" x2="643.9" y2="74.6" stroke="#2a8cf0" stroke-width="1.0" />
<line x1="643.9" y1="95.85" x2="643.9" y2="104.03" stroke="#2a8cf0" stroke-width="1.0" />
<line x1="640.7" y1="38.63" x2="647.1" y2="38.63" stroke="#2a8cf0" stroke-width="1.0" />
<line x1="640.7" y1="104.03" x2="647.1" y2="104.03" stroke="#2a8cf0" stroke-width="1.0" />
<rect x="637.6" y="74.6" width="12.6" height="21.25" fill="none" stroke="#2a8cf0" stroke-width="1.0" />
<line x1="637.6" y1="78.69" x2="650.2" y2="78.69" stroke="#2a8cf0" stroke-width="1.0" />
<circle cx="643.9" cy="38.63" r="1.5" fill="white" stroke="#333" stroke-width="0.75"/>
<circle cx="643.9" cy="72.96" r="1.5" fill="white" stroke="#333" stroke-width="0.75"/>
<circle cx="643.9" cy="74.6" r="1.5" fill="white" stroke="#333" stroke-width="0.75"/>
<circle cx="643.9" cy="77.87" r="1.5" fill="white" stroke="#333" stroke-width="0.75"/>
<circle cx="643.9" cy="78.69" r="1.5" fill="white" stroke="#333" stroke-width="0.75"/>
<circle cx="643.9" cy="90.95" r="1.5" fill="white" stroke="#333" stroke-width="0.75"/>
<circle cx="643.9" cy="96.67" r="1.5" fill="white" stroke="#333" stroke-width="0.75"/>
<circle cx="643.9" cy="104.03" r="1.5" fill="white" stroke="#333" stroke-width="0.75"/>
<line x1="660.1" y1="61.52" x2="660.1" y2="75.42" stroke="#2a8cf0" stroke-width="1.0" />
<line x1="660.1" y1="104.85" x2="660.1" y2="106.48" stroke="#2a8cf0" stroke-width="1.0" />
<line x1="656.9" y1="61.52" x2="663.3" y2="61.52" stroke="#2a8cf0" stroke-width="1.0" />
<line x1="656.9" y1="106.48" x2="663.3" y2="106.48" stroke="#2a8cf0" stroke-width="1.0" />
<rect x="653.55" y="75.42" width="13.1" height="29.43" fill="none" stroke="#2a8cf0" stroke-width="1.0" />
<line x1="653.55" y1="98.31" x2="666.65" y2="98.31" stroke="#2a8cf0" stroke-width="1.0" />
<circle cx="660.1" cy="61.52" r="1.5" fill="white" stroke="#333" stroke-width="0.75"/>
<circle cx="660.1" cy="74.6" r="1.5" fill="white" stroke="#333" stroke-width="0.75"/>
<circle cx="660.1" cy="87.68" r="1.5" fill="white" stroke="#333" stroke-width="0.75"/>
<circle cx="660.1" cy="91.77" r="1.5" fill="white" stroke="#333" stroke-width="0.75"/>
<circle cx="660.1" cy="98.31" r="1.5" fill="white" stroke="#333" stroke-width="0.75"/>
<circle cx="660.1" cy="99.12" r="1.5" fill="white" stroke="#333" stroke-width="0.75"/>
<circle cx="660.1" cy="104.85" r="1.5" fill="white" stroke="#333" stroke-width="0.75"/>
<circle cx="660.1" cy="105.66" r="1.5" fill="white" stroke="#333" stroke-width="0.75"/>
<line x1="617.1" y1="12.4" x2="659.4" y2="12.4" stroke="#333" stroke-width="0.8" />
<text x="638.2" y="8.4" font-size="6.2" text-anchor="middle" fill="#333">NS</text>
<line x1="600.2" y1="25.3" x2="642.7" y2="25.3" stroke="#333" stroke-width="0.8" />
<text x="621.6" y="21.2" font-size="6.2" text-anchor="middle" fill="#333">NS</text>
<line x1="644.3" y1="35.1" x2="660.8" y2="35.1" stroke="#333" stroke-width="0.8" />
<text x="652.6" y="31" font-size="6.2" text-anchor="middle" fill="#333">NS</text>
<text x="554.6" y="142.4" font-size="17.5" text-anchor="start" fill="#111" font-weight="bold">e</text>
<line x1="589.9" y1="157.5" x2="589.9" y2="244" stroke="#777" stroke-width="0.95" />
<line x1="587.4" y1="158.2" x2="589.9" y2="158.2" stroke="#777" stroke-width="0.95" />
<text x="586.2" y="161.56" font-size="9.6" text-anchor="end" fill="#222">60</text>
<line x1="587.4" y1="186.8" x2="589.9" y2="186.8" stroke="#777" stroke-width="0.95" />
<text x="586.2" y="190.16" font-size="9.6" text-anchor="end" fill="#222">40</text>
<line x1="587.4" y1="215.4" x2="589.9" y2="215.4" stroke="#777" stroke-width="0.95" />
<text x="586.2" y="218.76" font-size="9.6" text-anchor="end" fill="#222">20</text>
<line x1="587.4" y1="244" x2="589.9" y2="244" stroke="#777" stroke-width="0.95" />
<text x="586.2" y="247.36" font-size="9.6" text-anchor="end" fill="#222">0</text>
<line x1="588.4" y1="172.5" x2="589.9" y2="172.5" stroke="#777" stroke-width="0.76" />
<line x1="588.4" y1="201.1" x2="589.9" y2="201.1" stroke="#777" stroke-width="0.76" />
<line x1="588.4" y1="229.7" x2="589.9" y2="229.7" stroke="#777" stroke-width="0.76" />
<line x1="589.9" y1="244" x2="675" y2="244" stroke="#777" stroke-width="0.95" />
<line x1="601.9" y1="244" x2="601.9" y2="246.2" stroke="#555" stroke-width="0.8" />
<text x="601.9" y="256" font-size="9.6" text-anchor="middle" fill="#222">R</text>
<line x1="618.9" y1="244" x2="618.9" y2="246.2" stroke="#555" stroke-width="0.8" />
<text x="618.9" y="256" font-size="9.6" text-anchor="middle" fill="#222">NR</text>
<line x1="645.3" y1="244" x2="645.3" y2="246.2" stroke="#555" stroke-width="0.8" />
<text x="645.3" y="256" font-size="9.6" text-anchor="middle" fill="#222">R</text>
<line x1="661.6" y1="244" x2="661.6" y2="246.2" stroke="#555" stroke-width="0.8" />
<text x="661.6" y="256" font-size="9.6" text-anchor="middle" fill="#222">NR</text>
<text x="610.4" y="267.7" font-size="9.6" text-anchor="middle" fill="#222">Early</text>
<text x="653.5" y="267.7" font-size="9.6" text-anchor="middle" fill="#222">Late</text>
<text x="570.4" y="199.8" font-size="9.1" text-anchor="middle" fill="#222" transform="rotate(-90 570.4 199.8)">Velocity (cm/s)</text>
<line x1="601.9" y1="186.5" x2="601.9" y2="194.1" stroke="#555" stroke-width="0.9" />
<line x1="601.9" y1="221.3" x2="601.9" y2="236.4" stroke="#555" stroke-width="0.9" />
<line x1="598.7" y1="186.5" x2="605.1" y2="186.5" stroke="#555" stroke-width="0.9" />
<line x1="598.7" y1="236.4" x2="605.1" y2="236.4" stroke="#555" stroke-width="0.9" />
<rect x="595.4" y="194.1" width="13" height="27.2" fill="none" stroke="#555" stroke-width="0.9" />
<line x1="595.4" y1="203.4" x2="608.4" y2="203.4" stroke="#555" stroke-width="0.9" />
<circle cx="601.9" cy="186.5" r="1.5" fill="white" stroke="#333" stroke-width="0.75"/>
<circle cx="601.9" cy="191" r="1.5" fill="white" stroke="#333" stroke-width="0.75"/>
<circle cx="601.9" cy="193.5" r="1.5" fill="white" stroke="#333" stroke-width="0.75"/>
<circle cx="601.9" cy="200" r="1.5" fill="white" stroke="#333" stroke-width="0.75"/>
<circle cx="601.9" cy="205" r="1.5" fill="white" stroke="#333" stroke-width="0.75"/>
<circle cx="601.9" cy="212" r="1.5" fill="white" stroke="#333" stroke-width="0.75"/>
<circle cx="601.9" cy="216" r="1.5" fill="white" stroke="#333" stroke-width="0.75"/>
<circle cx="601.9" cy="220" r="1.5" fill="white" stroke="#333" stroke-width="0.75"/>
<circle cx="601.9" cy="236.4" r="1.5" fill="white" stroke="#333" stroke-width="0.75"/>
<line x1="618.9" y1="179.5" x2="618.9" y2="192.3" stroke="#555" stroke-width="0.9" />
<line x1="618.9" y1="222.4" x2="618.9" y2="234" stroke="#555" stroke-width="0.9" />
<line x1="615.7" y1="179.5" x2="622.1" y2="179.5" stroke="#555" stroke-width="0.9" />
<line x1="615.7" y1="234" x2="622.1" y2="234" stroke="#555" stroke-width="0.9" />
<rect x="612.4" y="192.3" width="13" height="30.1" fill="none" stroke="#555" stroke-width="0.9" />
<line x1="612.4" y1="206.7" x2="625.4" y2="206.7" stroke="#555" stroke-width="0.9" />
<circle cx="618.9" cy="179.5" r="1.5" fill="white" stroke="#333" stroke-width="0.75"/>
<circle cx="618.9" cy="185" r="1.5" fill="white" stroke="#333" stroke-width="0.75"/>
<circle cx="618.9" cy="194" r="1.5" fill="white" stroke="#333" stroke-width="0.75"/>
<circle cx="618.9" cy="198" r="1.5" fill="white" stroke="#333" stroke-width="0.75"/>
<circle cx="618.9" cy="202" r="1.5" fill="white" stroke="#333" stroke-width="0.75"/>
<circle cx="618.9" cy="210" r="1.5" fill="white" stroke="#333" stroke-width="0.75"/>
<circle cx="618.9" cy="218" r="1.5" fill="white" stroke="#333" stroke-width="0.75"/>
<circle cx="618.9" cy="234" r="1.5" fill="white" stroke="#333" stroke-width="0.75"/>
<line x1="645.1" y1="169.8" x2="645.1" y2="177.2" stroke="#2a8cf0" stroke-width="1.0" />
<line x1="645.1" y1="194.1" x2="645.1" y2="205.5" stroke="#2a8cf0" stroke-width="1.0" />
<line x1="641.9" y1="169.8" x2="648.3" y2="169.8" stroke="#2a8cf0" stroke-width="1.0" />
<line x1="641.9" y1="205.5" x2="648.3" y2="205.5" stroke="#2a8cf0" stroke-width="1.0" />
<rect x="638.95" y="177.2" width="12.3" height="16.9" fill="none" stroke="#2a8cf0" stroke-width="1.0" />
<line x1="638.95" y1="183" x2="651.25" y2="183" stroke="#2a8cf0" stroke-width="1.0" />
<circle cx="645.1" cy="169.8" r="1.5" fill="white" stroke="#333" stroke-width="0.75"/>
<circle cx="645.1" cy="174" r="1.5" fill="white" stroke="#333" stroke-width="0.75"/>
<circle cx="645.1" cy="178" r="1.5" fill="white" stroke="#333" stroke-width="0.75"/>
<circle cx="645.1" cy="183" r="1.5" fill="white" stroke="#333" stroke-width="0.75"/>
<circle cx="645.1" cy="190" r="1.5" fill="white" stroke="#333" stroke-width="0.75"/>
<circle cx="645.1" cy="194" r="1.5" fill="white" stroke="#333" stroke-width="0.75"/>
<circle cx="645.1" cy="205.5" r="1.5" fill="white" stroke="#333" stroke-width="0.75"/>
<line x1="661.9" y1="169.1" x2="661.9" y2="177.9" stroke="#2a8cf0" stroke-width="1.0" />
<line x1="661.9" y1="200" x2="661.9" y2="226.6" stroke="#2a8cf0" stroke-width="1.0" />
<line x1="658.7" y1="169.1" x2="665.1" y2="169.1" stroke="#2a8cf0" stroke-width="1.0" />
<line x1="658.7" y1="226.6" x2="665.1" y2="226.6" stroke="#2a8cf0" stroke-width="1.0" />
<rect x="655.3" y="177.9" width="13.2" height="22.1" fill="none" stroke="#2a8cf0" stroke-width="1.0" />
<line x1="655.3" y1="196.2" x2="668.5" y2="196.2" stroke="#2a8cf0" stroke-width="1.0" />
<circle cx="661.9" cy="169.1" r="1.5" fill="white" stroke="#333" stroke-width="0.75"/>
<circle cx="661.9" cy="175" r="1.5" fill="white" stroke="#333" stroke-width="0.75"/>
<circle cx="661.9" cy="184" r="1.5" fill="white" stroke="#333" stroke-width="0.75"/>
<circle cx="661.9" cy="187" r="1.5" fill="white" stroke="#333" stroke-width="0.75"/>
<circle cx="661.9" cy="193" r="1.5" fill="white" stroke="#333" stroke-width="0.75"/>
<circle cx="661.9" cy="196" r="1.5" fill="white" stroke="#333" stroke-width="0.75"/>
<circle cx="661.9" cy="200" r="1.5" fill="white" stroke="#333" stroke-width="0.75"/>
<circle cx="661.9" cy="211" r="1.5" fill="white" stroke="#333" stroke-width="0.75"/>
<circle cx="661.9" cy="226.6" r="1.5" fill="white" stroke="#333" stroke-width="0.75"/>
<line x1="618.2" y1="144.7" x2="661.8" y2="144.7" stroke="#333" stroke-width="0.8" />
<line x1="600.8" y1="155.9" x2="645.3" y2="155.9" stroke="#333" stroke-width="0.8" />
<line x1="646" y1="164.9" x2="661.8" y2="164.9" stroke="#333" stroke-width="0.8" />
<text x="640.2" y="140.6" font-size="6.2" text-anchor="middle" fill="#333">NS</text>
<text x="654.1" y="161.3" font-size="6.2" text-anchor="middle" fill="#333">NS</text>
<text x="622.8" y="155" font-size="10" text-anchor="middle" fill="#222" font-weight="bold">*</text>
<text x="5.8" y="292.5" font-size="17.5" text-anchor="start" fill="#111" font-weight="bold">f</text>
<rect x="73.8" y="305.5" width="29.2" height="88.3" fill="#f0f0f0" stroke="none" stroke-width="1" />
<path d="M45.3,340.3 L46.4,341.9 L47.5,343.51 L48.6,345.11 L49.71,344.72 L50.81,343.9 L51.91,343.07 L53.01,342.54 L54.11,342.03 L55.21,341.52 L56.31,341.78 L57.41,342.65 L58.52,343.51 L59.62,344.39 L60.72,345.27 L61.82,345.66 L62.92,344.82 L64.02,343.97 L65.12,342.62 L66.22,341.27 L67.33,340.05 L68.43,338.83 L69.53,337.61 L70.63,336.39 L71.73,335.83 L72.83,335.39 L73.93,335.19 L75.03,336.79 L76.14,338.39 L77.24,339.98 L78.34,336.66 L79.44,339.43 L80.54,342.21 L81.64,344.99 L82.74,347.91 L83.84,351.17 L84.95,354.43 L86.05,357.69 L87.15,360.94 L88.25,364.25 L89.35,367.55 L90.45,370.86 L91.55,371.59 L92.65,371.93 L93.76,370.44 L94.86,368.43 L95.96,364.79 L97.06,360.42 L98.16,356.04 L99.26,352.34 L100.36,351.77 L101.46,348.71 L102.57,345.64 L103.67,342.79 L104.77,340.35 L105.87,337.91 L106.97,335.48 L108.07,333.19 L109.17,332.96 L110.27,332.73 L111.38,332.5 L112.48,332.27 L113.58,332.05 L114.68,331.59 L115.78,331.07 L116.88,330.56 L117.98,330.1 L119.08,329.65 L120.19,329.21 L121.29,329.52 L122.39,330.51 L123.49,331.49 L124.59,332.48 L125.69,333.46 L126.79,334.44 L127.89,335.42 L129,336.41 L130.1,337.34 L131.2,337.82 L132.3,338.3 L132.3,351.3 L131.2,350.82 L130.1,350.34 L129,349.41 L127.89,348.42 L126.79,347.44 L125.69,346.46 L124.59,345.48 L123.49,344.49 L122.39,343.51 L121.29,342.52 L120.19,342.21 L119.08,342.65 L117.98,343.1 L116.88,343.56 L115.78,344.07 L114.68,344.59 L113.58,345.05 L112.48,345.27 L111.38,345.5 L110.27,345.73 L109.17,345.96 L108.07,346.19 L106.97,348.48 L105.87,350.91 L104.77,353.35 L103.67,355.79 L102.57,358.64 L101.46,361.71 L100.36,364.77 L99.26,370.34 L98.16,374.04 L97.06,378.42 L95.96,382.79 L94.86,386.43 L93.76,388.44 L92.65,389.93 L91.55,389.59 L90.45,388.86 L89.35,385.55 L88.25,382.25 L87.15,378.94 L86.05,375.69 L84.95,372.43 L83.84,369.17 L82.74,365.91 L81.64,362.99 L80.54,360.21 L79.44,357.43 L78.34,354.66 L77.24,346.98 L76.14,345.39 L75.03,343.79 L73.93,342.19 L72.83,342.39 L71.73,342.83 L70.63,343.39 L69.53,344.61 L68.43,345.83 L67.33,347.05 L66.22,348.27 L65.12,349.62 L64.02,350.97 L62.92,351.82 L61.82,352.66 L60.72,352.27 L59.62,351.39 L58.52,350.51 L57.41,349.65 L56.31,348.78 L55.21,348.52 L54.11,349.03 L53.01,349.54 L51.91,350.07 L50.81,350.9 L49.71,351.72 L48.6,352.11 L47.5,350.51 L46.4,348.9 L45.3,347.3Z" fill="#a642b0" fill-opacity="0.16" stroke="none"/>
<path d="M45.3,340.3 L46.4,339.32 L47.5,338.34 L48.6,337.36 L49.71,336.37 L50.81,337.18 L51.91,338.38 L53.01,339.57 L54.11,340.77 L55.21,341.62 L56.31,342.19 L57.41,342.76 L58.52,343.33 L59.62,343.89 L60.72,344.17 L61.82,343.74 L62.92,343.3 L64.02,342.86 L65.12,342.43 L66.22,342.02 L67.33,342.86 L68.43,343.69 L69.53,344.53 L70.63,345.37 L71.73,344.41 L72.83,343.13 L73.93,341.82 L75.03,340.31 L76.14,332.29 L77.24,330.78 L78.34,329.27 L79.44,327.7 L80.54,326.06 L81.64,324.42 L82.74,322.78 L83.84,321.06 L84.95,319.07 L86.05,317.07 L87.15,315.08 L88.25,314.25 L89.35,315.09 L90.45,315.94 L91.55,316.79 L92.65,316.57 L93.76,316.2 L94.86,315.82 L95.96,316.54 L97.06,317.76 L98.16,318.98 L99.26,320.2 L100.36,320.35 L101.46,319.47 L102.57,318.59 L103.67,317.97 L104.77,317.88 L105.87,317.78 L106.97,317.69 L108.07,317.73 L109.17,319.74 L110.27,321.75 L111.38,323.76 L112.48,325.46 L113.58,327.16 L114.68,328.86 L115.78,327.63 L116.88,325.66 L117.98,323.69 L119.08,321.72 L120.19,320.99 L121.29,321.35 L122.39,321.71 L123.49,322.07 L124.59,322.44 L125.69,322.74 L126.79,322.9 L127.89,323.06 L129,323.38 L130.1,325.49 L131.2,327.59 L132.3,329.7 L132.3,349.7 L131.2,347.59 L130.1,345.49 L129,343.38 L127.89,343.06 L126.79,342.9 L125.69,342.74 L124.59,342.44 L123.49,342.07 L122.39,341.71 L121.29,341.35 L120.19,340.99 L119.08,341.72 L117.98,343.69 L116.88,345.66 L115.78,347.63 L114.68,348.86 L113.58,347.16 L112.48,345.46 L111.38,343.76 L110.27,341.75 L109.17,339.74 L108.07,337.73 L106.97,337.69 L105.87,337.78 L104.77,337.88 L103.67,337.97 L102.57,338.59 L101.46,339.47 L100.36,340.35 L99.26,340.2 L98.16,338.98 L97.06,337.76 L95.96,336.54 L94.86,335.82 L93.76,336.2 L92.65,336.57 L91.55,336.79 L90.45,335.94 L89.35,335.09 L88.25,334.25 L87.15,335.08 L86.05,337.07 L84.95,339.07 L83.84,341.06 L82.74,342.78 L81.64,344.42 L80.54,346.06 L79.44,347.7 L78.34,349.27 L77.24,350.78 L76.14,352.29 L75.03,347.31 L73.93,348.82 L72.83,350.13 L71.73,351.41 L70.63,352.37 L69.53,351.53 L68.43,350.69 L67.33,349.86 L66.22,349.02 L65.12,349.43 L64.02,349.86 L62.92,350.3 L61.82,350.74 L60.72,351.17 L59.62,350.89 L58.52,350.33 L57.41,349.76 L56.31,349.19 L55.21,348.62 L54.11,347.77 L53.01,346.57 L51.91,345.38 L50.81,344.18 L49.71,343.37 L48.6,344.36 L47.5,345.34 L46.4,346.32 L45.3,347.3Z" fill="#3fae3f" fill-opacity="0.16" stroke="none"/>
<line x1="73.8" y1="305.5" x2="73.8" y2="393.8" stroke="#666" stroke-width="0.8" stroke-dasharray="1 0.8" />
<path d="M45.3,343.8 C45.88,344.65 47.68,348.45 48.8,348.9 C49.92,349.35 50.85,347.18 52,346.5 C53.15,345.82 54.62,344.72 55.7,344.8 C56.78,344.88 57.53,346.23 58.5,347 C59.47,347.77 60.58,349.32 61.5,349.4 C62.42,349.48 63.22,348.27 64,347.5 C64.78,346.73 65.07,346.1 66.2,344.8 C67.33,343.5 69.53,340.75 70.8,339.7 C72.07,338.65 72.63,337.73 73.8,338.5 C74.97,339.27 76.37,341.4 77.8,344.3 C79.23,347.2 80.85,351.65 82.4,355.9 C83.95,360.15 85.73,365.73 87.1,369.8 C88.47,373.87 89.63,378.43 90.6,380.3 C91.57,382.17 92.13,381.58 92.9,381 C93.67,380.42 94.23,379.82 95.2,376.8 C96.17,373.78 97.35,367.35 98.7,362.9 C100.05,358.45 101.75,353.97 103.3,350.1 C104.85,346.23 106.25,341.63 108,339.7 C109.75,337.77 112.3,338.95 113.8,338.5 C115.3,338.05 115.85,337.5 117,337 C118.15,336.5 119.3,335.05 120.7,335.5 C122.1,335.95 123.85,338.32 125.4,339.7 C126.95,341.08 128.85,342.95 130,343.8 C131.15,344.65 131.92,344.63 132.3,344.8" stroke="#a642b0" stroke-width="0.9" fill="none" />
<path d="M45.3,343.8 C46.07,343.12 48.35,339.53 49.9,339.7 C51.45,339.87 52.85,343.45 54.6,344.8 C56.35,346.15 58.47,347.68 60.4,347.8 C62.33,347.92 64.47,345.3 66.2,345.5 C67.93,345.7 69.53,349 70.8,349 C72.07,349 72.45,347.25 73.8,345.5 C75.15,343.75 77.27,340.83 78.9,338.5 C80.53,336.17 82.12,333.93 83.6,331.5 C85.08,329.07 86.45,324.67 87.8,323.9 C89.15,323.13 90.47,326.6 91.7,326.9 C92.93,327.2 93.85,325.05 95.2,325.7 C96.55,326.35 98.45,330.42 99.8,330.8 C101.15,331.18 101.93,328.53 103.3,328 C104.67,327.47 106.65,326.63 108,327.6 C109.35,328.57 110.25,331.87 111.4,333.8 C112.55,335.73 113.53,339.7 114.9,339.2 C116.27,338.7 117.85,331.88 119.6,330.8 C121.35,329.72 123.85,332.3 125.4,332.7 C126.95,333.1 127.75,332.03 128.9,333.2 C130.05,334.37 131.73,338.62 132.3,339.7" stroke="#3fae3f" stroke-width="0.9" fill="none" />
<line x1="44.6" y1="305.5" x2="44.6" y2="393.8" stroke="#333" stroke-width="0.8" />
<line x1="42.1" y1="305.25" x2="44.6" y2="305.25" stroke="#333" stroke-width="0.8" />
<text x="40.9" y="308.86" font-size="10.3" text-anchor="end" fill="#222">2.5</text>
<line x1="42.1" y1="345" x2="44.6" y2="345" stroke="#333" stroke-width="0.8" />
<text x="40.9" y="348.61" font-size="10.3" text-anchor="end" fill="#222">0.0</text>
<line x1="42.1" y1="384.75" x2="44.6" y2="384.75" stroke="#333" stroke-width="0.8" />
<text x="40.9" y="388.36" font-size="10.3" text-anchor="end" fill="#222">-2.5</text>
<line x1="43.1" y1="325.12" x2="44.6" y2="325.12" stroke="#333" stroke-width="0.6400000000000001" />
<line x1="43.1" y1="364.88" x2="44.6" y2="364.88" stroke="#333" stroke-width="0.6400000000000001" />
<line x1="44.6" y1="393.8" x2="132.3" y2="393.8" stroke="#333" stroke-width="0.8" />
<line x1="44.6" y1="393.8" x2="44.6" y2="396.3" stroke="#333" stroke-width="0.8" />
<text x="44.6" y="408" font-size="10.3" text-anchor="middle" fill="#222">-1</text>
<line x1="73.8" y1="393.8" x2="73.8" y2="396.3" stroke="#333" stroke-width="0.8" />
<text x="73.8" y="408" font-size="10.3" text-anchor="middle" fill="#222">0</text>
<line x1="103" y1="393.8" x2="103" y2="396.3" stroke="#333" stroke-width="0.8" />
<text x="103" y="408" font-size="10.3" text-anchor="middle" fill="#222">1</text>
<line x1="132.2" y1="393.8" x2="132.2" y2="396.3" stroke="#333" stroke-width="0.8" />
<text x="132.2" y="408" font-size="10.3" text-anchor="middle" fill="#222">2</text>
<line x1="59.2" y1="393.8" x2="59.2" y2="395.3" stroke="#333" stroke-width="0.6400000000000001" />
<line x1="88.4" y1="393.8" x2="88.4" y2="395.3" stroke="#333" stroke-width="0.6400000000000001" />
<line x1="117.6" y1="393.8" x2="117.6" y2="395.3" stroke="#333" stroke-width="0.6400000000000001" />
<text x="17" y="346.7" font-size="10.7" text-anchor="middle" fill="#222" transform="rotate(-90 17 346.7)">ΔF/F (z-score)</text>
<line x1="106.8" y1="373.6" x2="116.1" y2="373.6" stroke="#a642b0" stroke-width="0.9" />
<line x1="106.8" y1="385.4" x2="116.1" y2="385.4" stroke="#3fae3f" stroke-width="0.9" />
<text x="120.7" y="377.3" font-size="10.2" text-anchor="start" fill="#222">R</text>
<text x="120.7" y="389.1" font-size="10.2" text-anchor="start" fill="#222">NR</text>
<clipPath id="hmc1"><rect x="45.3" y="421.4" width="88.2" height="88.4"/></clipPath>
<g clip-path="url(#hmc1)"><g filter="url(#hblur)" shape-rendering="crispEdges"><rect x="42.3" y="418.4" width="6.19" height="6.79" fill="#d86167"/><rect x="48.24" y="418.4" width="3.19" height="6.79" fill="#ae4284"/><rect x="51.18" y="418.4" width="3.19" height="6.79" fill="#b14382"/><rect x="54.12" y="418.4" width="3.19" height="6.79" fill="#b9497d"/><rect x="57.06" y="418.4" width="3.19" height="6.79" fill="#b54780"/><rect x="60" y="418.4" width="3.19" height="6.79" fill="#ac4185"/><rect x="62.94" y="418.4" width="3.19" height="6.79" fill="#a03b87"/><rect x="65.88" y="418.4" width="3.19" height="6.79" fill="#a84086"/><rect x="68.82" y="418.4" width="3.19" height="6.79" fill="#cc5374"/><rect x="71.76" y="418.4" width="3.19" height="6.79" fill="#e67157"/><rect x="74.7" y="418.4" width="3.19" height="6.79" fill="#d86068"/><rect x="77.64" y="418.4" width="3.19" height="6.79" fill="#bc4a7c"/><rect x="80.58" y="418.4" width="3.19" height="6.79" fill="#b5477f"/><rect x="83.52" y="418.4" width="3.19" height="6.79" fill="#ad4284"/><rect x="86.46" y="418.4" width="3.19" height="6.79" fill="#aa4085"/><rect x="89.4" y="418.4" width="3.19" height="6.79" fill="#b8487e"/><rect x="92.34" y="418.4" width="3.19" height="6.79" fill="#c45078"/><rect x="95.28" y="418.4" width="3.19" height="6.79" fill="#c95275"/><rect x="98.22" y="418.4" width="3.19" height="6.79" fill="#cd5573"/><rect x="101.16" y="418.4" width="3.19" height="6.79" fill="#c65077"/><rect x="104.1" y="418.4" width="3.19" height="6.79" fill="#cc5573"/><rect x="107.04" y="418.4" width="3.19" height="6.79" fill="#d96266"/><rect x="109.98" y="418.4" width="3.19" height="6.79" fill="#d1596f"/><rect x="112.92" y="418.4" width="3.19" height="6.79" fill="#bd4b7b"/><rect x="115.86" y="418.4" width="3.19" height="6.79" fill="#bf4d7a"/><rect x="118.8" y="418.4" width="3.19" height="6.79" fill="#d55d6b"/><rect x="121.74" y="418.4" width="3.19" height="6.79" fill="#dc6563"/><rect x="124.68" y="418.4" width="3.19" height="6.79" fill="#ca5374"/><rect x="127.62" y="418.4" width="3.19" height="6.79" fill="#c34f78"/><rect x="130.56" y="418.4" width="6.19" height="6.79" fill="#d45c6c"/><rect x="42.3" y="424.94" width="6.19" height="3.79" fill="#d55e6a"/><rect x="48.24" y="424.94" width="3.19" height="3.79" fill="#db6365"/><rect x="51.18" y="424.94" width="3.19" height="3.79" fill="#e16b5d"/><rect x="54.12" y="424.94" width="3.19" height="3.79" fill="#e16b5d"/><rect x="57.06" y="424.94" width="3.19" height="3.79" fill="#df695f"/><rect x="60" y="424.94" width="3.19" height="3.79" fill="#c85276"/><rect x="62.94" y="424.94" width="3.19" height="3.79" fill="#ac4185"/><rect x="65.88" y="424.94" width="3.19" height="3.79" fill="#b54780"/><rect x="68.82" y="424.94" width="3.19" height="3.79" fill="#ae4283"/><rect x="71.76" y="424.94" width="3.19" height="3.79" fill="#a33c87"/><rect x="74.7" y="424.94" width="3.19" height="3.79" fill="#be4d7a"/><rect x="77.64" y="424.94" width="3.19" height="3.79" fill="#cb5374"/><rect x="80.58" y="424.94" width="3.19" height="3.79" fill="#b8487e"/><rect x="83.52" y="424.94" width="3.19" height="3.79" fill="#ae4283"/><rect x="86.46" y="424.94" width="3.19" height="3.79" fill="#ba497d"/><rect x="89.4" y="424.94" width="3.19" height="3.79" fill="#cb5374"/><rect x="92.34" y="424.94" width="3.19" height="3.79" fill="#d86167"/><rect x="95.28" y="424.94" width="3.19" height="3.79" fill="#d65e6a"/><rect x="98.22" y="424.94" width="3.19" height="3.79" fill="#d1596f"/><rect x="101.16" y="424.94" width="3.19" height="3.79" fill="#d1596f"/><rect x="104.1" y="424.94" width="3.19" height="3.79" fill="#c04d79"/><rect x="107.04" y="424.94" width="3.19" height="3.79" fill="#b6487f"/><rect x="109.98" y="424.94" width="3.19" height="3.79" fill="#c85176"/><rect x="112.92" y="424.94" width="3.19" height="3.79" fill="#cd5573"/><rect x="115.86" y="424.94" width="3.19" height="3.79" fill="#bd4b7b"/><rect x="118.8" y="424.94" width="3.19" height="3.79" fill="#b6477f"/><rect x="121.74" y="424.94" width="3.19" height="3.79" fill="#ac4185"/><rect x="124.68" y="424.94" width="3.19" height="3.79" fill="#a23c87"/><rect x="127.62" y="424.94" width="3.19" height="3.79" fill="#bd4b7b"/><rect x="130.56" y="424.94" width="6.19" height="3.79" fill="#d1596f"/><rect x="42.3" y="428.47" width="6.19" height="3.79" fill="#9c3888"/><rect x="48.24" y="428.47" width="3.19" height="3.79" fill="#af4383"/><rect x="51.18" y="428.47" width="3.19" height="3.79" fill="#ba497d"/><rect x="54.12" y="428.47" width="3.19" height="3.79" fill="#b6487f"/><rect x="57.06" y="428.47" width="3.19" height="3.79" fill="#a13c87"/><rect x="60" y="428.47" width="3.19" height="3.79" fill="#aa4085"/><rect x="62.94" y="428.47" width="3.19" height="3.79" fill="#ce5672"/><rect x="65.88" y="428.47" width="3.19" height="3.79" fill="#c85276"/><rect x="68.82" y="428.47" width="3.19" height="3.79" fill="#a63e86"/><rect x="71.76" y="428.47" width="3.19" height="3.79" fill="#ac4185"/><rect x="74.7" y="428.47" width="3.19" height="3.79" fill="#be4d7a"/><rect x="77.64" y="428.47" width="3.19" height="3.79" fill="#c75176"/><rect x="80.58" y="428.47" width="3.19" height="3.79" fill="#cc5574"/><rect x="83.52" y="428.47" width="3.19" height="3.79" fill="#be4d7a"/><rect x="86.46" y="428.47" width="3.19" height="3.79" fill="#b6477f"/><rect x="89.4" y="428.47" width="3.19" height="3.79" fill="#bf4d7a"/><rect x="92.34" y="428.47" width="3.19" height="3.79" fill="#ce5672"/><rect x="95.28" y="428.47" width="3.19" height="3.79" fill="#c95275"/><rect x="98.22" y="428.47" width="3.19" height="3.79" fill="#af4383"/><rect x="101.16" y="428.47" width="3.19" height="3.79" fill="#b14482"/><rect x="104.1" y="428.47" width="3.19" height="3.79" fill="#d25a6e"/><rect x="107.04" y="428.47" width="3.19" height="3.79" fill="#db6365"/><rect x="109.98" y="428.47" width="3.19" height="3.79" fill="#d86068"/><rect x="112.92" y="428.47" width="3.19" height="3.79" fill="#d86068"/><rect x="115.86" y="428.47" width="3.19" height="3.79" fill="#ca5374"/><rect x="118.8" y="428.47" width="3.19" height="3.79" fill="#b54780"/><rect x="121.74" y="428.47" width="3.19" height="3.79" fill="#ab4185"/><rect x="124.68" y="428.47" width="3.19" height="3.79" fill="#ba497d"/><rect x="127.62" y="428.47" width="3.19" height="3.79" fill="#c65077"/><rect x="130.56" y="428.47" width="6.19" height="3.79" fill="#ab4185"/><rect x="42.3" y="432.01" width="6.19" height="3.79" fill="#b24481"/><rect x="48.24" y="432.01" width="3.19" height="3.79" fill="#ba497d"/><rect x="51.18" y="432.01" width="3.19" height="3.79" fill="#c75176"/><rect x="54.12" y="432.01" width="3.19" height="3.79" fill="#c24f78"/><rect x="57.06" y="432.01" width="3.19" height="3.79" fill="#a63e86"/><rect x="60" y="432.01" width="3.19" height="3.79" fill="#9d3988"/><rect x="62.94" y="432.01" width="3.19" height="3.79" fill="#be4b7b"/><rect x="65.88" y="432.01" width="3.19" height="3.79" fill="#d75f69"/><rect x="68.82" y="432.01" width="3.19" height="3.79" fill="#d55d6b"/><rect x="71.76" y="432.01" width="3.19" height="3.79" fill="#c85276"/><rect x="74.7" y="432.01" width="3.19" height="3.79" fill="#c14e79"/><rect x="77.64" y="432.01" width="3.19" height="3.79" fill="#c24e78"/><rect x="80.58" y="432.01" width="3.19" height="3.79" fill="#c65177"/><rect x="83.52" y="432.01" width="3.19" height="3.79" fill="#c65177"/><rect x="86.46" y="432.01" width="3.19" height="3.79" fill="#bd4b7b"/><rect x="89.4" y="432.01" width="3.19" height="3.79" fill="#bd4b7b"/><rect x="92.34" y="432.01" width="3.19" height="3.79" fill="#c55077"/><rect x="95.28" y="432.01" width="3.19" height="3.79" fill="#ca5374"/><rect x="98.22" y="432.01" width="3.19" height="3.79" fill="#d86167"/><rect x="101.16" y="432.01" width="3.19" height="3.79" fill="#ee8246"/><rect x="104.1" y="432.01" width="3.19" height="3.79" fill="#f7992d"/><rect x="107.04" y="432.01" width="3.19" height="3.79" fill="#fbb21e"/><rect x="109.98" y="432.01" width="3.19" height="3.79" fill="#f8a02a"/><rect x="112.92" y="432.01" width="3.19" height="3.79" fill="#f89f2a"/><rect x="115.86" y="432.01" width="3.19" height="3.79" fill="#f9a626"/><rect x="118.8" y="432.01" width="3.19" height="3.79" fill="#f9a427"/><rect x="121.74" y="432.01" width="3.19" height="3.79" fill="#f8a029"/><rect x="124.68" y="432.01" width="3.19" height="3.79" fill="#fbae21"/><rect x="127.62" y="432.01" width="3.19" height="3.79" fill="#fbb120"/><rect x="130.56" y="432.01" width="6.19" height="3.79" fill="#f8a029"/><rect x="42.3" y="435.54" width="6.19" height="3.79" fill="#a63d86"/><rect x="48.24" y="435.54" width="3.19" height="3.79" fill="#af4283"/><rect x="51.18" y="435.54" width="3.19" height="3.79" fill="#c14e79"/><rect x="54.12" y="435.54" width="3.19" height="3.79" fill="#d86068"/><rect x="57.06" y="435.54" width="3.19" height="3.79" fill="#de6860"/><rect x="60" y="435.54" width="3.19" height="3.79" fill="#d25a6e"/><rect x="62.94" y="435.54" width="3.19" height="3.79" fill="#cd5573"/><rect x="65.88" y="435.54" width="3.19" height="3.79" fill="#d55d6b"/><rect x="68.82" y="435.54" width="3.19" height="3.79" fill="#de6761"/><rect x="71.76" y="435.54" width="3.19" height="3.79" fill="#de6860"/><rect x="74.7" y="435.54" width="3.19" height="3.79" fill="#d25a6e"/><rect x="77.64" y="435.54" width="3.19" height="3.79" fill="#ba497d"/><rect x="80.58" y="435.54" width="3.19" height="3.79" fill="#b14482"/><rect x="83.52" y="435.54" width="3.19" height="3.79" fill="#bf4d7a"/><rect x="86.46" y="435.54" width="3.19" height="3.79" fill="#d55d6b"/><rect x="89.4" y="435.54" width="3.19" height="3.79" fill="#d35b6d"/><rect x="92.34" y="435.54" width="3.19" height="3.79" fill="#be4d7a"/><rect x="95.28" y="435.54" width="3.19" height="3.79" fill="#bc4a7c"/><rect x="98.22" y="435.54" width="3.19" height="3.79" fill="#c04e79"/><rect x="101.16" y="435.54" width="3.19" height="3.79" fill="#b44680"/><rect x="104.1" y="435.54" width="3.19" height="3.79" fill="#b24481"/><rect x="107.04" y="435.54" width="3.19" height="3.79" fill="#d25b6d"/><rect x="109.98" y="435.54" width="3.19" height="3.79" fill="#e26b5d"/><rect x="112.92" y="435.54" width="3.19" height="3.79" fill="#cc5573"/><rect x="115.86" y="435.54" width="3.19" height="3.79" fill="#af4383"/><rect x="118.8" y="435.54" width="3.19" height="3.79" fill="#a13c87"/><rect x="121.74" y="435.54" width="3.19" height="3.79" fill="#a84086"/><rect x="124.68" y="435.54" width="3.19" height="3.79" fill="#c65077"/><rect x="127.62" y="435.54" width="3.19" height="3.79" fill="#d1596f"/><rect x="130.56" y="435.54" width="6.19" height="3.79" fill="#c85276"/><rect x="42.3" y="439.08" width="6.19" height="3.79" fill="#ca5375"/><rect x="48.24" y="439.08" width="3.19" height="3.79" fill="#c75176"/><rect x="51.18" y="439.08" width="3.19" height="3.79" fill="#ba497d"/><rect x="54.12" y="439.08" width="3.19" height="3.79" fill="#a83e86"/><rect x="57.06" y="439.08" width="3.19" height="3.79" fill="#b14382"/><rect x="60" y="439.08" width="3.19" height="3.79" fill="#ba497d"/><rect x="62.94" y="439.08" width="3.19" height="3.79" fill="#b34681"/><rect x="65.88" y="439.08" width="3.19" height="3.79" fill="#ae4283"/><rect x="68.82" y="439.08" width="3.19" height="3.79" fill="#af4383"/><rect x="71.76" y="439.08" width="3.19" height="3.79" fill="#bd4b7b"/><rect x="74.7" y="439.08" width="3.19" height="3.79" fill="#c95275"/><rect x="77.64" y="439.08" width="3.19" height="3.79" fill="#c14e79"/><rect x="80.58" y="439.08" width="3.19" height="3.79" fill="#c24f78"/><rect x="83.52" y="439.08" width="3.19" height="3.79" fill="#d1596f"/><rect x="86.46" y="439.08" width="3.19" height="3.79" fill="#da6266"/><rect x="89.4" y="439.08" width="3.19" height="3.79" fill="#cf5870"/><rect x="92.34" y="439.08" width="3.19" height="3.79" fill="#b5477f"/><rect x="95.28" y="439.08" width="3.19" height="3.79" fill="#bb4a7c"/><rect x="98.22" y="439.08" width="3.19" height="3.79" fill="#c24e78"/><rect x="101.16" y="439.08" width="3.19" height="3.79" fill="#c65177"/><rect x="104.1" y="439.08" width="3.19" height="3.79" fill="#d55d6b"/><rect x="107.04" y="439.08" width="3.19" height="3.79" fill="#db6563"/><rect x="109.98" y="439.08" width="3.19" height="3.79" fill="#d86068"/><rect x="112.92" y="439.08" width="3.19" height="3.79" fill="#d55e6a"/><rect x="115.86" y="439.08" width="3.19" height="3.79" fill="#d65e6a"/><rect x="118.8" y="439.08" width="3.19" height="3.79" fill="#c85276"/><rect x="121.74" y="439.08" width="3.19" height="3.79" fill="#c34f78"/><rect x="124.68" y="439.08" width="3.19" height="3.79" fill="#c85276"/><rect x="127.62" y="439.08" width="3.19" height="3.79" fill="#cf5771"/><rect x="130.56" y="439.08" width="6.19" height="3.79" fill="#e67058"/><rect x="42.3" y="442.62" width="6.19" height="3.79" fill="#e26c5c"/><rect x="48.24" y="442.62" width="3.19" height="3.79" fill="#e36d5b"/><rect x="51.18" y="442.62" width="3.19" height="3.79" fill="#ce5672"/><rect x="54.12" y="442.62" width="3.19" height="3.79" fill="#bd4b7b"/><rect x="57.06" y="442.62" width="3.19" height="3.79" fill="#c65176"/><rect x="60" y="442.62" width="3.19" height="3.79" fill="#ca5275"/><rect x="62.94" y="442.62" width="3.19" height="3.79" fill="#c24e79"/><rect x="65.88" y="442.62" width="3.19" height="3.79" fill="#c34f78"/><rect x="68.82" y="442.62" width="3.19" height="3.79" fill="#d45c6c"/><rect x="71.76" y="442.62" width="3.19" height="3.79" fill="#de6860"/><rect x="74.7" y="442.62" width="3.19" height="3.79" fill="#e87652"/><rect x="77.64" y="442.62" width="3.19" height="3.79" fill="#e87455"/><rect x="80.58" y="442.62" width="3.19" height="3.79" fill="#e56e5a"/><rect x="83.52" y="442.62" width="3.19" height="3.79" fill="#c45078"/><rect x="86.46" y="442.62" width="3.19" height="3.79" fill="#b04382"/><rect x="89.4" y="442.62" width="3.19" height="3.79" fill="#ac4185"/><rect x="92.34" y="442.62" width="3.19" height="3.79" fill="#c24f78"/><rect x="95.28" y="442.62" width="3.19" height="3.79" fill="#d15a6e"/><rect x="98.22" y="442.62" width="3.19" height="3.79" fill="#d05870"/><rect x="101.16" y="442.62" width="3.19" height="3.79" fill="#d55e6a"/><rect x="104.1" y="442.62" width="3.19" height="3.79" fill="#e46e5a"/><rect x="107.04" y="442.62" width="3.19" height="3.79" fill="#ea784f"/><rect x="109.98" y="442.62" width="3.19" height="3.79" fill="#f8a129"/><rect x="112.92" y="442.62" width="3.19" height="3.79" fill="#f7992d"/><rect x="115.86" y="442.62" width="3.19" height="3.79" fill="#f7972f"/><rect x="118.8" y="442.62" width="3.19" height="3.79" fill="#f7992d"/><rect x="121.74" y="442.62" width="3.19" height="3.79" fill="#f7992d"/><rect x="124.68" y="442.62" width="3.19" height="3.79" fill="#f89f2a"/><rect x="127.62" y="442.62" width="3.19" height="3.79" fill="#e87552"/><rect x="130.56" y="442.62" width="6.19" height="3.79" fill="#e0695f"/><rect x="42.3" y="446.15" width="6.19" height="3.79" fill="#ba497d"/><rect x="48.24" y="446.15" width="3.19" height="3.79" fill="#b8487e"/><rect x="51.18" y="446.15" width="3.19" height="3.79" fill="#bd4b7b"/><rect x="54.12" y="446.15" width="3.19" height="3.79" fill="#ba4a7c"/><rect x="57.06" y="446.15" width="3.19" height="3.79" fill="#bb4a7c"/><rect x="60" y="446.15" width="3.19" height="3.79" fill="#c04d79"/><rect x="62.94" y="446.15" width="3.19" height="3.79" fill="#be4d7a"/><rect x="65.88" y="446.15" width="3.19" height="3.79" fill="#b8487e"/><rect x="68.82" y="446.15" width="3.19" height="3.79" fill="#b9497e"/><rect x="71.76" y="446.15" width="3.19" height="3.79" fill="#be4b7b"/><rect x="74.7" y="446.15" width="3.19" height="3.79" fill="#d15a6e"/><rect x="77.64" y="446.15" width="3.19" height="3.79" fill="#d45c6c"/><rect x="80.58" y="446.15" width="3.19" height="3.79" fill="#d96167"/><rect x="83.52" y="446.15" width="3.19" height="3.79" fill="#d15a6e"/><rect x="86.46" y="446.15" width="3.19" height="3.79" fill="#b9497d"/><rect x="89.4" y="446.15" width="3.19" height="3.79" fill="#892f8b"/><rect x="92.34" y="446.15" width="3.19" height="3.79" fill="#8c308a"/><rect x="95.28" y="446.15" width="3.19" height="3.79" fill="#8e318a"/><rect x="98.22" y="446.15" width="3.19" height="3.79" fill="#8c308a"/><rect x="101.16" y="446.15" width="3.19" height="3.79" fill="#ab4085"/><rect x="104.1" y="446.15" width="3.19" height="3.79" fill="#ac4185"/><rect x="107.04" y="446.15" width="3.19" height="3.79" fill="#a13b87"/><rect x="109.98" y="446.15" width="3.19" height="3.79" fill="#af4383"/><rect x="112.92" y="446.15" width="3.19" height="3.79" fill="#be4b7a"/><rect x="115.86" y="446.15" width="3.19" height="3.79" fill="#b9497d"/><rect x="118.8" y="446.15" width="3.19" height="3.79" fill="#b54780"/><rect x="121.74" y="446.15" width="3.19" height="3.79" fill="#c75176"/><rect x="124.68" y="446.15" width="3.19" height="3.79" fill="#c95275"/><rect x="127.62" y="446.15" width="3.19" height="3.79" fill="#b14482"/><rect x="130.56" y="446.15" width="6.19" height="3.79" fill="#aa4085"/><rect x="42.3" y="449.69" width="6.19" height="3.79" fill="#bc4a7c"/><rect x="48.24" y="449.69" width="3.19" height="3.79" fill="#c65077"/><rect x="51.18" y="449.69" width="3.19" height="3.79" fill="#d65f69"/><rect x="54.12" y="449.69" width="3.19" height="3.79" fill="#ca5375"/><rect x="57.06" y="449.69" width="3.19" height="3.79" fill="#ae4284"/><rect x="60" y="449.69" width="3.19" height="3.79" fill="#ae4284"/><rect x="62.94" y="449.69" width="3.19" height="3.79" fill="#cc5573"/><rect x="65.88" y="449.69" width="3.19" height="3.79" fill="#dd6761"/><rect x="68.82" y="449.69" width="3.19" height="3.79" fill="#d05870"/><rect x="71.76" y="449.69" width="3.19" height="3.79" fill="#c65177"/><rect x="74.7" y="449.69" width="3.19" height="3.79" fill="#ca5375"/><rect x="77.64" y="449.69" width="3.19" height="3.79" fill="#d45c6c"/><rect x="80.58" y="449.69" width="3.19" height="3.79" fill="#db6563"/><rect x="83.52" y="449.69" width="3.19" height="3.79" fill="#cf5870"/><rect x="86.46" y="449.69" width="3.19" height="3.79" fill="#ca5375"/><rect x="89.4" y="449.69" width="3.19" height="3.79" fill="#ce5672"/><rect x="92.34" y="449.69" width="3.19" height="3.79" fill="#c34f78"/><rect x="95.28" y="449.69" width="3.19" height="3.79" fill="#c24e78"/><rect x="98.22" y="449.69" width="3.19" height="3.79" fill="#d1596f"/><rect x="101.16" y="449.69" width="3.19" height="3.79" fill="#cd5573"/><rect x="104.1" y="449.69" width="3.19" height="3.79" fill="#ba497d"/><rect x="107.04" y="449.69" width="3.19" height="3.79" fill="#ae4283"/><rect x="109.98" y="449.69" width="3.19" height="3.79" fill="#b44680"/><rect x="112.92" y="449.69" width="3.19" height="3.79" fill="#cc5573"/><rect x="115.86" y="449.69" width="3.19" height="3.79" fill="#d76068"/><rect x="118.8" y="449.69" width="3.19" height="3.79" fill="#d96266"/><rect x="121.74" y="449.69" width="3.19" height="3.79" fill="#db6365"/><rect x="124.68" y="449.69" width="3.19" height="3.79" fill="#d45c6c"/><rect x="127.62" y="449.69" width="3.19" height="3.79" fill="#ce5672"/><rect x="130.56" y="449.69" width="6.19" height="3.79" fill="#d35b6d"/><rect x="42.3" y="453.22" width="6.19" height="3.79" fill="#ce5672"/><rect x="48.24" y="453.22" width="3.19" height="3.79" fill="#ca5375"/><rect x="51.18" y="453.22" width="3.19" height="3.79" fill="#d35c6c"/><rect x="54.12" y="453.22" width="3.19" height="3.79" fill="#d86167"/><rect x="57.06" y="453.22" width="3.19" height="3.79" fill="#cc5573"/><rect x="60" y="453.22" width="3.19" height="3.79" fill="#c34f78"/><rect x="62.94" y="453.22" width="3.19" height="3.79" fill="#d55e6a"/><rect x="65.88" y="453.22" width="3.19" height="3.79" fill="#dd6662"/><rect x="68.82" y="453.22" width="3.19" height="3.79" fill="#c14e79"/><rect x="71.76" y="453.22" width="3.19" height="3.79" fill="#a03b87"/><rect x="74.7" y="453.22" width="3.19" height="3.79" fill="#7d2789"/><rect x="77.64" y="453.22" width="3.19" height="3.79" fill="#7b2789"/><rect x="80.58" y="453.22" width="3.19" height="3.79" fill="#651b87"/><rect x="83.52" y="453.22" width="3.19" height="3.79" fill="#491971"/><rect x="86.46" y="453.22" width="3.19" height="3.79" fill="#0f0821"/><rect x="89.4" y="453.22" width="3.19" height="3.79" fill="#0d0820"/><rect x="92.34" y="453.22" width="3.19" height="3.79" fill="#0f0a24"/><rect x="95.28" y="453.22" width="3.19" height="3.79" fill="#501977"/><rect x="98.22" y="453.22" width="3.19" height="3.79" fill="#6b1e87"/><rect x="101.16" y="453.22" width="3.19" height="3.79" fill="#752388"/><rect x="104.1" y="453.22" width="3.19" height="3.79" fill="#8f318a"/><rect x="107.04" y="453.22" width="3.19" height="3.79" fill="#b24481"/><rect x="109.98" y="453.22" width="3.19" height="3.79" fill="#d1596f"/><rect x="112.92" y="453.22" width="3.19" height="3.79" fill="#cf5771"/><rect x="115.86" y="453.22" width="3.19" height="3.79" fill="#d45c6c"/><rect x="118.8" y="453.22" width="3.19" height="3.79" fill="#d45c6c"/><rect x="121.74" y="453.22" width="3.19" height="3.79" fill="#cf5870"/><rect x="124.68" y="453.22" width="3.19" height="3.79" fill="#b9497d"/><rect x="127.62" y="453.22" width="3.19" height="3.79" fill="#9b3888"/><rect x="130.56" y="453.22" width="6.19" height="3.79" fill="#a33d87"/><rect x="42.3" y="456.76" width="6.19" height="3.79" fill="#be4b7b"/><rect x="48.24" y="456.76" width="3.19" height="3.79" fill="#a73e86"/><rect x="51.18" y="456.76" width="3.19" height="3.79" fill="#a73e86"/><rect x="54.12" y="456.76" width="3.19" height="3.79" fill="#b8487e"/><rect x="57.06" y="456.76" width="3.19" height="3.79" fill="#ae4284"/><rect x="60" y="456.76" width="3.19" height="3.79" fill="#9d3988"/><rect x="62.94" y="456.76" width="3.19" height="3.79" fill="#b14482"/><rect x="65.88" y="456.76" width="3.19" height="3.79" fill="#c65077"/><rect x="68.82" y="456.76" width="3.19" height="3.79" fill="#c85176"/><rect x="71.76" y="456.76" width="3.19" height="3.79" fill="#d55d6b"/><rect x="74.7" y="456.76" width="3.19" height="3.79" fill="#db6563"/><rect x="77.64" y="456.76" width="3.19" height="3.79" fill="#c55077"/><rect x="80.58" y="456.76" width="3.19" height="3.79" fill="#a63e86"/><rect x="83.52" y="456.76" width="3.19" height="3.79" fill="#a53d86"/><rect x="86.46" y="456.76" width="3.19" height="3.79" fill="#be4b7a"/><rect x="89.4" y="456.76" width="3.19" height="3.79" fill="#d05870"/><rect x="92.34" y="456.76" width="3.19" height="3.79" fill="#cf5870"/><rect x="95.28" y="456.76" width="3.19" height="3.79" fill="#c95275"/><rect x="98.22" y="456.76" width="3.19" height="3.79" fill="#c24e79"/><rect x="101.16" y="456.76" width="3.19" height="3.79" fill="#bf4d7a"/><rect x="104.1" y="456.76" width="3.19" height="3.79" fill="#ba4a7d"/><rect x="107.04" y="456.76" width="3.19" height="3.79" fill="#b04383"/><rect x="109.98" y="456.76" width="3.19" height="3.79" fill="#a03b87"/><rect x="112.92" y="456.76" width="3.19" height="3.79" fill="#9c3888"/><rect x="115.86" y="456.76" width="3.19" height="3.79" fill="#a63e86"/><rect x="118.8" y="456.76" width="3.19" height="3.79" fill="#a63e86"/><rect x="121.74" y="456.76" width="3.19" height="3.79" fill="#b04383"/><rect x="124.68" y="456.76" width="3.19" height="3.79" fill="#c44f78"/><rect x="127.62" y="456.76" width="3.19" height="3.79" fill="#d86068"/><rect x="130.56" y="456.76" width="6.19" height="3.79" fill="#f08741"/><rect x="42.3" y="460.3" width="6.19" height="3.79" fill="#d1596f"/><rect x="48.24" y="460.3" width="3.19" height="3.79" fill="#c55078"/><rect x="51.18" y="460.3" width="3.19" height="3.79" fill="#cb5374"/><rect x="54.12" y="460.3" width="3.19" height="3.79" fill="#c85176"/><rect x="57.06" y="460.3" width="3.19" height="3.79" fill="#c24f78"/><rect x="60" y="460.3" width="3.19" height="3.79" fill="#c75176"/><rect x="62.94" y="460.3" width="3.19" height="3.79" fill="#a73e86"/><rect x="65.88" y="460.3" width="3.19" height="3.79" fill="#923389"/><rect x="68.82" y="460.3" width="3.19" height="3.79" fill="#b24481"/><rect x="71.76" y="460.3" width="3.19" height="3.79" fill="#ca5275"/><rect x="74.7" y="460.3" width="3.19" height="3.79" fill="#ce5672"/><rect x="77.64" y="460.3" width="3.19" height="3.79" fill="#ba497d"/><rect x="80.58" y="460.3" width="3.19" height="3.79" fill="#b7487f"/><rect x="83.52" y="460.3" width="3.19" height="3.79" fill="#c85176"/><rect x="86.46" y="460.3" width="3.19" height="3.79" fill="#be4d7a"/><rect x="89.4" y="460.3" width="3.19" height="3.79" fill="#c75176"/><rect x="92.34" y="460.3" width="3.19" height="3.79" fill="#d75f69"/><rect x="95.28" y="460.3" width="3.19" height="3.79" fill="#ce5672"/><rect x="98.22" y="460.3" width="3.19" height="3.79" fill="#c24e78"/><rect x="101.16" y="460.3" width="3.19" height="3.79" fill="#c95275"/><rect x="104.1" y="460.3" width="3.19" height="3.79" fill="#c95275"/><rect x="107.04" y="460.3" width="3.19" height="3.79" fill="#c14e79"/><rect x="109.98" y="460.3" width="3.19" height="3.79" fill="#c95275"/><rect x="112.92" y="460.3" width="3.19" height="3.79" fill="#db6563"/><rect x="115.86" y="460.3" width="3.19" height="3.79" fill="#e06a5e"/><rect x="118.8" y="460.3" width="3.19" height="3.79" fill="#c75176"/><rect x="121.74" y="460.3" width="3.19" height="3.79" fill="#b7487f"/><rect x="124.68" y="460.3" width="3.19" height="3.79" fill="#c34f78"/><rect x="127.62" y="460.3" width="3.19" height="3.79" fill="#c34f78"/><rect x="130.56" y="460.3" width="6.19" height="3.79" fill="#c55077"/><rect x="42.3" y="463.83" width="6.19" height="3.79" fill="#cd5573"/><rect x="48.24" y="463.83" width="3.19" height="3.79" fill="#ce5771"/><rect x="51.18" y="463.83" width="3.19" height="3.79" fill="#c04d79"/><rect x="54.12" y="463.83" width="3.19" height="3.79" fill="#a83e86"/><rect x="57.06" y="463.83" width="3.19" height="3.79" fill="#923389"/><rect x="60" y="463.83" width="3.19" height="3.79" fill="#ac4284"/><rect x="62.94" y="463.83" width="3.19" height="3.79" fill="#cd5573"/><rect x="65.88" y="463.83" width="3.19" height="3.79" fill="#be4b7b"/><rect x="68.82" y="463.83" width="3.19" height="3.79" fill="#a94086"/><rect x="71.76" y="463.83" width="3.19" height="3.79" fill="#ae4283"/><rect x="74.7" y="463.83" width="3.19" height="3.79" fill="#c24f78"/><rect x="77.64" y="463.83" width="3.19" height="3.79" fill="#c04d7a"/><rect x="80.58" y="463.83" width="3.19" height="3.79" fill="#b6477f"/><rect x="83.52" y="463.83" width="3.19" height="3.79" fill="#c55078"/><rect x="86.46" y="463.83" width="3.19" height="3.79" fill="#cf5870"/><rect x="89.4" y="463.83" width="3.19" height="3.79" fill="#ca5375"/><rect x="92.34" y="463.83" width="3.19" height="3.79" fill="#ca5374"/><rect x="95.28" y="463.83" width="3.19" height="3.79" fill="#d75f69"/><rect x="98.22" y="463.83" width="3.19" height="3.79" fill="#d25b6d"/><rect x="101.16" y="463.83" width="3.19" height="3.79" fill="#bf4d7a"/><rect x="104.1" y="463.83" width="3.19" height="3.79" fill="#b7487e"/><rect x="107.04" y="463.83" width="3.19" height="3.79" fill="#c14e79"/><rect x="109.98" y="463.83" width="3.19" height="3.79" fill="#ca5374"/><rect x="112.92" y="463.83" width="3.19" height="3.79" fill="#cc5573"/><rect x="115.86" y="463.83" width="3.19" height="3.79" fill="#d25b6d"/><rect x="118.8" y="463.83" width="3.19" height="3.79" fill="#d96167"/><rect x="121.74" y="463.83" width="3.19" height="3.79" fill="#e06a5e"/><rect x="124.68" y="463.83" width="3.19" height="3.79" fill="#e56f59"/><rect x="127.62" y="463.83" width="3.19" height="3.79" fill="#ec7d4b"/><rect x="130.56" y="463.83" width="6.19" height="3.79" fill="#e56e5a"/><rect x="42.3" y="467.37" width="6.19" height="3.79" fill="#ce5672"/><rect x="48.24" y="467.37" width="3.19" height="3.79" fill="#d05870"/><rect x="51.18" y="467.37" width="3.19" height="3.79" fill="#ce5672"/><rect x="54.12" y="467.37" width="3.19" height="3.79" fill="#c85176"/><rect x="57.06" y="467.37" width="3.19" height="3.79" fill="#bc4a7c"/><rect x="60" y="467.37" width="3.19" height="3.79" fill="#b14482"/><rect x="62.94" y="467.37" width="3.19" height="3.79" fill="#bb4a7c"/><rect x="65.88" y="467.37" width="3.19" height="3.79" fill="#cf5870"/><rect x="68.82" y="467.37" width="3.19" height="3.79" fill="#ca5374"/><rect x="71.76" y="467.37" width="3.19" height="3.79" fill="#b14482"/><rect x="74.7" y="467.37" width="3.19" height="3.79" fill="#a84086"/><rect x="77.64" y="467.37" width="3.19" height="3.79" fill="#c04d79"/><rect x="80.58" y="467.37" width="3.19" height="3.79" fill="#d75f69"/><rect x="83.52" y="467.37" width="3.19" height="3.79" fill="#ce5672"/><rect x="86.46" y="467.37" width="3.19" height="3.79" fill="#c55078"/><rect x="89.4" y="467.37" width="3.19" height="3.79" fill="#d86167"/><rect x="92.34" y="467.37" width="3.19" height="3.79" fill="#e26c5c"/><rect x="95.28" y="467.37" width="3.19" height="3.79" fill="#dc6662"/><rect x="98.22" y="467.37" width="3.19" height="3.79" fill="#d96266"/><rect x="101.16" y="467.37" width="3.19" height="3.79" fill="#d96266"/><rect x="104.1" y="467.37" width="3.19" height="3.79" fill="#d55e6a"/><rect x="107.04" y="467.37" width="3.19" height="3.79" fill="#cb5374"/><rect x="109.98" y="467.37" width="3.19" height="3.79" fill="#c75176"/><rect x="112.92" y="467.37" width="3.19" height="3.79" fill="#d25b6d"/><rect x="115.86" y="467.37" width="3.19" height="3.79" fill="#db6563"/><rect x="118.8" y="467.37" width="3.19" height="3.79" fill="#d1596f"/><rect x="121.74" y="467.37" width="3.19" height="3.79" fill="#b8487e"/><rect x="124.68" y="467.37" width="3.19" height="3.79" fill="#c45078"/><rect x="127.62" y="467.37" width="3.19" height="3.79" fill="#d15a6e"/><rect x="130.56" y="467.37" width="6.19" height="3.79" fill="#c24e79"/><rect x="42.3" y="470.9" width="6.19" height="3.79" fill="#d1596f"/><rect x="48.24" y="470.9" width="3.19" height="3.79" fill="#d35b6d"/><rect x="51.18" y="470.9" width="3.19" height="3.79" fill="#cc5374"/><rect x="54.12" y="470.9" width="3.19" height="3.79" fill="#bd4b7b"/><rect x="57.06" y="470.9" width="3.19" height="3.79" fill="#c34f78"/><rect x="60" y="470.9" width="3.19" height="3.79" fill="#d65f69"/><rect x="62.94" y="470.9" width="3.19" height="3.79" fill="#d96266"/><rect x="65.88" y="470.9" width="3.19" height="3.79" fill="#cd5573"/><rect x="68.82" y="470.9" width="3.19" height="3.79" fill="#c55077"/><rect x="71.76" y="470.9" width="3.19" height="3.79" fill="#cd5573"/><rect x="74.7" y="470.9" width="3.19" height="3.79" fill="#ca5374"/><rect x="77.64" y="470.9" width="3.19" height="3.79" fill="#b04383"/><rect x="80.58" y="470.9" width="3.19" height="3.79" fill="#a63e86"/><rect x="83.52" y="470.9" width="3.19" height="3.79" fill="#b14482"/><rect x="86.46" y="470.9" width="3.19" height="3.79" fill="#ad4284"/><rect x="89.4" y="470.9" width="3.19" height="3.79" fill="#b14482"/><rect x="92.34" y="470.9" width="3.19" height="3.79" fill="#d55d6b"/><rect x="95.28" y="470.9" width="3.19" height="3.79" fill="#eb7b4d"/><rect x="98.22" y="470.9" width="3.19" height="3.79" fill="#f8a129"/><rect x="101.16" y="470.9" width="3.19" height="3.79" fill="#f8a129"/><rect x="104.1" y="470.9" width="3.19" height="3.79" fill="#f8a02a"/><rect x="107.04" y="470.9" width="3.19" height="3.79" fill="#f89f2a"/><rect x="109.98" y="470.9" width="3.19" height="3.79" fill="#f7992d"/><rect x="112.92" y="470.9" width="3.19" height="3.79" fill="#f79a2d"/><rect x="115.86" y="470.9" width="3.19" height="3.79" fill="#f9a626"/><rect x="118.8" y="470.9" width="3.19" height="3.79" fill="#f8a327"/><rect x="121.74" y="470.9" width="3.19" height="3.79" fill="#f89e2a"/><rect x="124.68" y="470.9" width="3.19" height="3.79" fill="#f8a229"/><rect x="127.62" y="470.9" width="3.19" height="3.79" fill="#faa824"/><rect x="130.56" y="470.9" width="6.19" height="3.79" fill="#faa824"/><rect x="42.3" y="474.44" width="6.19" height="3.79" fill="#c95275"/><rect x="48.24" y="474.44" width="3.19" height="3.79" fill="#cc5374"/><rect x="51.18" y="474.44" width="3.19" height="3.79" fill="#bb4a7c"/><rect x="54.12" y="474.44" width="3.19" height="3.79" fill="#b14482"/><rect x="57.06" y="474.44" width="3.19" height="3.79" fill="#bf4d7a"/><rect x="60" y="474.44" width="3.19" height="3.79" fill="#d55d6b"/><rect x="62.94" y="474.44" width="3.19" height="3.79" fill="#de6761"/><rect x="65.88" y="474.44" width="3.19" height="3.79" fill="#d86167"/><rect x="68.82" y="474.44" width="3.19" height="3.79" fill="#ca5275"/><rect x="71.76" y="474.44" width="3.19" height="3.79" fill="#c65077"/><rect x="74.7" y="474.44" width="3.19" height="3.79" fill="#ca5374"/><rect x="77.64" y="474.44" width="3.19" height="3.79" fill="#c85276"/><rect x="80.58" y="474.44" width="3.19" height="3.79" fill="#d05870"/><rect x="83.52" y="474.44" width="3.19" height="3.79" fill="#ce5573"/><rect x="86.46" y="474.44" width="3.19" height="3.79" fill="#bc4a7c"/><rect x="89.4" y="474.44" width="3.19" height="3.79" fill="#ba497d"/><rect x="92.34" y="474.44" width="3.19" height="3.79" fill="#cc5573"/><rect x="95.28" y="474.44" width="3.19" height="3.79" fill="#e67058"/><rect x="98.22" y="474.44" width="3.19" height="3.79" fill="#e97850"/><rect x="101.16" y="474.44" width="3.19" height="3.79" fill="#d25a6e"/><rect x="104.1" y="474.44" width="3.19" height="3.79" fill="#b04383"/><rect x="107.04" y="474.44" width="3.19" height="3.79" fill="#a03b87"/><rect x="109.98" y="474.44" width="3.19" height="3.79" fill="#b44680"/><rect x="112.92" y="474.44" width="3.19" height="3.79" fill="#bb4a7c"/><rect x="115.86" y="474.44" width="3.19" height="3.79" fill="#b7487e"/><rect x="118.8" y="474.44" width="3.19" height="3.79" fill="#ba497d"/><rect x="121.74" y="474.44" width="3.19" height="3.79" fill="#ae4283"/><rect x="124.68" y="474.44" width="3.19" height="3.79" fill="#b44680"/><rect x="127.62" y="474.44" width="3.19" height="3.79" fill="#b9497e"/><rect x="130.56" y="474.44" width="6.19" height="3.79" fill="#a63e86"/><rect x="42.3" y="477.98" width="6.19" height="3.79" fill="#d96167"/><rect x="48.24" y="477.98" width="3.19" height="3.79" fill="#ce5573"/><rect x="51.18" y="477.98" width="3.19" height="3.79" fill="#aa4085"/><rect x="54.12" y="477.98" width="3.19" height="3.79" fill="#a63e86"/><rect x="57.06" y="477.98" width="3.19" height="3.79" fill="#c04d79"/><rect x="60" y="477.98" width="3.19" height="3.79" fill="#bd4b7b"/><rect x="62.94" y="477.98" width="3.19" height="3.79" fill="#ad4284"/><rect x="65.88" y="477.98" width="3.19" height="3.79" fill="#b34681"/><rect x="68.82" y="477.98" width="3.19" height="3.79" fill="#bd4b7b"/><rect x="71.76" y="477.98" width="3.19" height="3.79" fill="#c55078"/><rect x="74.7" y="477.98" width="3.19" height="3.79" fill="#cf5771"/><rect x="77.64" y="477.98" width="3.19" height="3.79" fill="#d86068"/><rect x="80.58" y="477.98" width="3.19" height="3.79" fill="#db6563"/><rect x="83.52" y="477.98" width="3.19" height="3.79" fill="#b8487e"/><rect x="86.46" y="477.98" width="3.19" height="3.79" fill="#6d2088"/><rect x="89.4" y="477.98" width="3.19" height="3.79" fill="#170f31"/><rect x="92.34" y="477.98" width="3.19" height="3.79" fill="#170f33"/><rect x="95.28" y="477.98" width="3.19" height="3.79" fill="#130d2a"/><rect x="98.22" y="477.98" width="3.19" height="3.79" fill="#5f1985"/><rect x="101.16" y="477.98" width="3.19" height="3.79" fill="#892f8b"/><rect x="104.1" y="477.98" width="3.19" height="3.79" fill="#a23c87"/><rect x="107.04" y="477.98" width="3.19" height="3.79" fill="#a53d86"/><rect x="109.98" y="477.98" width="3.19" height="3.79" fill="#a13c87"/><rect x="112.92" y="477.98" width="3.19" height="3.79" fill="#9f3988"/><rect x="115.86" y="477.98" width="3.19" height="3.79" fill="#a33c87"/><rect x="118.8" y="477.98" width="3.19" height="3.79" fill="#a63e86"/><rect x="121.74" y="477.98" width="3.19" height="3.79" fill="#a03b87"/><rect x="124.68" y="477.98" width="3.19" height="3.79" fill="#993788"/><rect x="127.62" y="477.98" width="3.19" height="3.79" fill="#993788"/><rect x="130.56" y="477.98" width="6.19" height="3.79" fill="#963588"/><rect x="42.3" y="481.51" width="6.19" height="3.79" fill="#c65077"/><rect x="48.24" y="481.51" width="3.19" height="3.79" fill="#c55078"/><rect x="51.18" y="481.51" width="3.19" height="3.79" fill="#d25b6d"/><rect x="54.12" y="481.51" width="3.19" height="3.79" fill="#d96266"/><rect x="57.06" y="481.51" width="3.19" height="3.79" fill="#ca5375"/><rect x="60" y="481.51" width="3.19" height="3.79" fill="#be4b7b"/><rect x="62.94" y="481.51" width="3.19" height="3.79" fill="#c44f78"/><rect x="65.88" y="481.51" width="3.19" height="3.79" fill="#c24e79"/><rect x="68.82" y="481.51" width="3.19" height="3.79" fill="#b04383"/><rect x="71.76" y="481.51" width="3.19" height="3.79" fill="#ae4284"/><rect x="74.7" y="481.51" width="3.19" height="3.79" fill="#c04d79"/><rect x="77.64" y="481.51" width="3.19" height="3.79" fill="#c95275"/><rect x="80.58" y="481.51" width="3.19" height="3.79" fill="#c24e79"/><rect x="83.52" y="481.51" width="3.19" height="3.79" fill="#b34681"/><rect x="86.46" y="481.51" width="3.19" height="3.79" fill="#b54780"/><rect x="89.4" y="481.51" width="3.19" height="3.79" fill="#ce5672"/><rect x="92.34" y="481.51" width="3.19" height="3.79" fill="#da6266"/><rect x="95.28" y="481.51" width="3.19" height="3.79" fill="#d15a6e"/><rect x="98.22" y="481.51" width="3.19" height="3.79" fill="#ca5375"/><rect x="101.16" y="481.51" width="3.19" height="3.79" fill="#c24f78"/><rect x="104.1" y="481.51" width="3.19" height="3.79" fill="#b54780"/><rect x="107.04" y="481.51" width="3.19" height="3.79" fill="#b44680"/><rect x="109.98" y="481.51" width="3.19" height="3.79" fill="#be4b7b"/><rect x="112.92" y="481.51" width="3.19" height="3.79" fill="#c44f78"/><rect x="115.86" y="481.51" width="3.19" height="3.79" fill="#ba497d"/><rect x="118.8" y="481.51" width="3.19" height="3.79" fill="#b8487e"/><rect x="121.74" y="481.51" width="3.19" height="3.79" fill="#d45c6c"/><rect x="124.68" y="481.51" width="3.19" height="3.79" fill="#dc6662"/><rect x="127.62" y="481.51" width="3.19" height="3.79" fill="#cd5573"/><rect x="130.56" y="481.51" width="6.19" height="3.79" fill="#c95275"/><rect x="42.3" y="485.05" width="6.19" height="3.79" fill="#ce5573"/><rect x="48.24" y="485.05" width="3.19" height="3.79" fill="#c45078"/><rect x="51.18" y="485.05" width="3.19" height="3.79" fill="#be4b7b"/><rect x="54.12" y="485.05" width="3.19" height="3.79" fill="#cb5374"/><rect x="57.06" y="485.05" width="3.19" height="3.79" fill="#cf5870"/><rect x="60" y="485.05" width="3.19" height="3.79" fill="#d1596f"/><rect x="62.94" y="485.05" width="3.19" height="3.79" fill="#ca5275"/><rect x="65.88" y="485.05" width="3.19" height="3.79" fill="#bb4a7c"/><rect x="68.82" y="485.05" width="3.19" height="3.79" fill="#ba497d"/><rect x="71.76" y="485.05" width="3.19" height="3.79" fill="#ab4185"/><rect x="74.7" y="485.05" width="3.19" height="3.79" fill="#7e2989"/><rect x="77.64" y="485.05" width="3.19" height="3.79" fill="#7b2789"/><rect x="80.58" y="485.05" width="3.19" height="3.79" fill="#782688"/><rect x="83.52" y="485.05" width="3.19" height="3.79" fill="#792689"/><rect x="86.46" y="485.05" width="3.19" height="3.79" fill="#882d8b"/><rect x="89.4" y="485.05" width="3.19" height="3.79" fill="#8a2f8a"/><rect x="92.34" y="485.05" width="3.19" height="3.79" fill="#882d8b"/><rect x="95.28" y="485.05" width="3.19" height="3.79" fill="#872d8b"/><rect x="98.22" y="485.05" width="3.19" height="3.79" fill="#7f298a"/><rect x="101.16" y="485.05" width="3.19" height="3.79" fill="#842c8a"/><rect x="104.1" y="485.05" width="3.19" height="3.79" fill="#be4d7a"/><rect x="107.04" y="485.05" width="3.19" height="3.79" fill="#c24f78"/><rect x="109.98" y="485.05" width="3.19" height="3.79" fill="#8c308a"/><rect x="112.92" y="485.05" width="3.19" height="3.79" fill="#722188"/><rect x="115.86" y="485.05" width="3.19" height="3.79" fill="#a03b87"/><rect x="118.8" y="485.05" width="3.19" height="3.79" fill="#c65177"/><rect x="121.74" y="485.05" width="3.19" height="3.79" fill="#c14e79"/><rect x="124.68" y="485.05" width="3.19" height="3.79" fill="#bf4d7a"/><rect x="127.62" y="485.05" width="3.19" height="3.79" fill="#c24f78"/><rect x="130.56" y="485.05" width="6.19" height="3.79" fill="#b24481"/><rect x="42.3" y="488.58" width="6.19" height="3.79" fill="#cc5573"/><rect x="48.24" y="488.58" width="3.19" height="3.79" fill="#d1596f"/><rect x="51.18" y="488.58" width="3.19" height="3.79" fill="#d1596f"/><rect x="54.12" y="488.58" width="3.19" height="3.79" fill="#c65177"/><rect x="57.06" y="488.58" width="3.19" height="3.79" fill="#bf4d7a"/><rect x="60" y="488.58" width="3.19" height="3.79" fill="#c24e78"/><rect x="62.94" y="488.58" width="3.19" height="3.79" fill="#c95275"/><rect x="65.88" y="488.58" width="3.19" height="3.79" fill="#df695f"/><rect x="68.82" y="488.58" width="3.19" height="3.79" fill="#e56f59"/><rect x="71.76" y="488.58" width="3.19" height="3.79" fill="#ba497d"/><rect x="74.7" y="488.58" width="3.19" height="3.79" fill="#973588"/><rect x="77.64" y="488.58" width="3.19" height="3.79" fill="#ae4284"/><rect x="80.58" y="488.58" width="3.19" height="3.79" fill="#cc5574"/><rect x="83.52" y="488.58" width="3.19" height="3.79" fill="#d86167"/><rect x="86.46" y="488.58" width="3.19" height="3.79" fill="#d25a6e"/><rect x="89.4" y="488.58" width="3.19" height="3.79" fill="#b8487e"/><rect x="92.34" y="488.58" width="3.19" height="3.79" fill="#ba497d"/><rect x="95.28" y="488.58" width="3.19" height="3.79" fill="#c65177"/><rect x="98.22" y="488.58" width="3.19" height="3.79" fill="#c34f78"/><rect x="101.16" y="488.58" width="3.19" height="3.79" fill="#c85276"/><rect x="104.1" y="488.58" width="3.19" height="3.79" fill="#cc5573"/><rect x="107.04" y="488.58" width="3.19" height="3.79" fill="#d05870"/><rect x="109.98" y="488.58" width="3.19" height="3.79" fill="#d55e6a"/><rect x="112.92" y="488.58" width="3.19" height="3.79" fill="#d65e6a"/><rect x="115.86" y="488.58" width="3.19" height="3.79" fill="#cc5573"/><rect x="118.8" y="488.58" width="3.19" height="3.79" fill="#bb4a7c"/><rect x="121.74" y="488.58" width="3.19" height="3.79" fill="#bf4d7a"/><rect x="124.68" y="488.58" width="3.19" height="3.79" fill="#c65177"/><rect x="127.62" y="488.58" width="3.19" height="3.79" fill="#cf5771"/><rect x="130.56" y="488.58" width="6.19" height="3.79" fill="#db6563"/><rect x="42.3" y="492.12" width="6.19" height="3.79" fill="#b6477f"/><rect x="48.24" y="492.12" width="3.19" height="3.79" fill="#b04383"/><rect x="51.18" y="492.12" width="3.19" height="3.79" fill="#af4383"/><rect x="54.12" y="492.12" width="3.19" height="3.79" fill="#be4b7b"/><rect x="57.06" y="492.12" width="3.19" height="3.79" fill="#c55078"/><rect x="60" y="492.12" width="3.19" height="3.79" fill="#c44f78"/><rect x="62.94" y="492.12" width="3.19" height="3.79" fill="#ce5771"/><rect x="65.88" y="492.12" width="3.19" height="3.79" fill="#cd5573"/><rect x="68.82" y="492.12" width="3.19" height="3.79" fill="#b6487f"/><rect x="71.76" y="492.12" width="3.19" height="3.79" fill="#ae4284"/><rect x="74.7" y="492.12" width="3.19" height="3.79" fill="#c14e79"/><rect x="77.64" y="492.12" width="3.19" height="3.79" fill="#b9497e"/><rect x="80.58" y="492.12" width="3.19" height="3.79" fill="#8e318a"/><rect x="83.52" y="492.12" width="3.19" height="3.79" fill="#5b1980"/><rect x="86.46" y="492.12" width="3.19" height="3.79" fill="#110a27"/><rect x="89.4" y="492.12" width="3.19" height="3.79" fill="#0d0821"/><rect x="92.34" y="492.12" width="3.19" height="3.79" fill="#0f0a23"/><rect x="95.28" y="492.12" width="3.19" height="3.79" fill="#7c2789"/><rect x="98.22" y="492.12" width="3.19" height="3.79" fill="#b6477f"/><rect x="101.16" y="492.12" width="3.19" height="3.79" fill="#ec7d4a"/><rect x="104.1" y="492.12" width="3.19" height="3.79" fill="#dc6662"/><rect x="107.04" y="492.12" width="3.19" height="3.79" fill="#e46d5b"/><rect x="109.98" y="492.12" width="3.19" height="3.79" fill="#db6563"/><rect x="112.92" y="492.12" width="3.19" height="3.79" fill="#d86167"/><rect x="115.86" y="492.12" width="3.19" height="3.79" fill="#de6860"/><rect x="118.8" y="492.12" width="3.19" height="3.79" fill="#e16b5d"/><rect x="121.74" y="492.12" width="3.19" height="3.79" fill="#e16a5e"/><rect x="124.68" y="492.12" width="3.19" height="3.79" fill="#e36d5b"/><rect x="127.62" y="492.12" width="3.19" height="3.79" fill="#e56e5a"/><rect x="130.56" y="492.12" width="6.19" height="3.79" fill="#e26b5d"/><rect x="42.3" y="495.66" width="6.19" height="3.79" fill="#b44680"/><rect x="48.24" y="495.66" width="3.19" height="3.79" fill="#ce5672"/><rect x="51.18" y="495.66" width="3.19" height="3.79" fill="#d55e6a"/><rect x="54.12" y="495.66" width="3.19" height="3.79" fill="#d1596f"/><rect x="57.06" y="495.66" width="3.19" height="3.79" fill="#d45c6c"/><rect x="60" y="495.66" width="3.19" height="3.79" fill="#cc5374"/><rect x="62.94" y="495.66" width="3.19" height="3.79" fill="#c75176"/><rect x="65.88" y="495.66" width="3.19" height="3.79" fill="#ce5672"/><rect x="68.82" y="495.66" width="3.19" height="3.79" fill="#c85276"/><rect x="71.76" y="495.66" width="3.19" height="3.79" fill="#c75176"/><rect x="74.7" y="495.66" width="3.19" height="3.79" fill="#c55077"/><rect x="77.64" y="495.66" width="3.19" height="3.79" fill="#bb4a7c"/><rect x="80.58" y="495.66" width="3.19" height="3.79" fill="#ac4185"/><rect x="83.52" y="495.66" width="3.19" height="3.79" fill="#b44680"/><rect x="86.46" y="495.66" width="3.19" height="3.79" fill="#cd5573"/><rect x="89.4" y="495.66" width="3.19" height="3.79" fill="#cd5573"/><rect x="92.34" y="495.66" width="3.19" height="3.79" fill="#c04e79"/><rect x="95.28" y="495.66" width="3.19" height="3.79" fill="#be4d7a"/><rect x="98.22" y="495.66" width="3.19" height="3.79" fill="#ba4a7c"/><rect x="101.16" y="495.66" width="3.19" height="3.79" fill="#a73e86"/><rect x="104.1" y="495.66" width="3.19" height="3.79" fill="#a53d86"/><rect x="107.04" y="495.66" width="3.19" height="3.79" fill="#b14482"/><rect x="109.98" y="495.66" width="3.19" height="3.79" fill="#b9487e"/><rect x="112.92" y="495.66" width="3.19" height="3.79" fill="#cd5573"/><rect x="115.86" y="495.66" width="3.19" height="3.79" fill="#e87652"/><rect x="118.8" y="495.66" width="3.19" height="3.79" fill="#e97851"/><rect x="121.74" y="495.66" width="3.19" height="3.79" fill="#ec7c4b"/><rect x="124.68" y="495.66" width="3.19" height="3.79" fill="#f08741"/><rect x="127.62" y="495.66" width="3.19" height="3.79" fill="#f1893d"/><rect x="130.56" y="495.66" width="6.19" height="3.79" fill="#f1883e"/><rect x="42.3" y="499.19" width="6.19" height="3.79" fill="#be4b7b"/><rect x="48.24" y="499.19" width="3.19" height="3.79" fill="#af4383"/><rect x="51.18" y="499.19" width="3.19" height="3.79" fill="#a53d86"/><rect x="54.12" y="499.19" width="3.19" height="3.79" fill="#a13c87"/><rect x="57.06" y="499.19" width="3.19" height="3.79" fill="#9a3888"/><rect x="60" y="499.19" width="3.19" height="3.79" fill="#af4383"/><rect x="62.94" y="499.19" width="3.19" height="3.79" fill="#d35b6d"/><rect x="65.88" y="499.19" width="3.19" height="3.79" fill="#e16a5e"/><rect x="68.82" y="499.19" width="3.19" height="3.79" fill="#d45c6c"/><rect x="71.76" y="499.19" width="3.19" height="3.79" fill="#c04d7a"/><rect x="74.7" y="499.19" width="3.19" height="3.79" fill="#bd4b7b"/><rect x="77.64" y="499.19" width="3.19" height="3.79" fill="#c04d7a"/><rect x="80.58" y="499.19" width="3.19" height="3.79" fill="#c75176"/><rect x="83.52" y="499.19" width="3.19" height="3.79" fill="#cd5573"/><rect x="86.46" y="499.19" width="3.19" height="3.79" fill="#dc6662"/><rect x="89.4" y="499.19" width="3.19" height="3.79" fill="#ea7850"/><rect x="92.34" y="499.19" width="3.19" height="3.79" fill="#e97751"/><rect x="95.28" y="499.19" width="3.19" height="3.79" fill="#e56f59"/><rect x="98.22" y="499.19" width="3.19" height="3.79" fill="#d15a6e"/><rect x="101.16" y="499.19" width="3.19" height="3.79" fill="#c85276"/><rect x="104.1" y="499.19" width="3.19" height="3.79" fill="#db6563"/><rect x="107.04" y="499.19" width="3.19" height="3.79" fill="#dc6662"/><rect x="109.98" y="499.19" width="3.19" height="3.79" fill="#c65176"/><rect x="112.92" y="499.19" width="3.19" height="3.79" fill="#b44680"/><rect x="115.86" y="499.19" width="3.19" height="3.79" fill="#ab4185"/><rect x="118.8" y="499.19" width="3.19" height="3.79" fill="#ba4a7c"/><rect x="121.74" y="499.19" width="3.19" height="3.79" fill="#cd5573"/><rect x="124.68" y="499.19" width="3.19" height="3.79" fill="#c24f78"/><rect x="127.62" y="499.19" width="3.19" height="3.79" fill="#ae4284"/><rect x="130.56" y="499.19" width="6.19" height="3.79" fill="#9d3988"/><rect x="42.3" y="502.73" width="6.19" height="3.79" fill="#cf5771"/><rect x="48.24" y="502.73" width="3.19" height="3.79" fill="#d35b6d"/><rect x="51.18" y="502.73" width="3.19" height="3.79" fill="#d1596f"/><rect x="54.12" y="502.73" width="3.19" height="3.79" fill="#c14e79"/><rect x="57.06" y="502.73" width="3.19" height="3.79" fill="#be4b7b"/><rect x="60" y="502.73" width="3.19" height="3.79" fill="#d1596f"/><rect x="62.94" y="502.73" width="3.19" height="3.79" fill="#cd5573"/><rect x="65.88" y="502.73" width="3.19" height="3.79" fill="#c55078"/><rect x="68.82" y="502.73" width="3.19" height="3.79" fill="#bb4a7c"/><rect x="71.76" y="502.73" width="3.19" height="3.79" fill="#a63e86"/><rect x="74.7" y="502.73" width="3.19" height="3.79" fill="#b04383"/><rect x="77.64" y="502.73" width="3.19" height="3.79" fill="#c24e78"/><rect x="80.58" y="502.73" width="3.19" height="3.79" fill="#cf5870"/><rect x="83.52" y="502.73" width="3.19" height="3.79" fill="#d86167"/><rect x="86.46" y="502.73" width="3.19" height="3.79" fill="#c55077"/><rect x="89.4" y="502.73" width="3.19" height="3.79" fill="#a63e86"/><rect x="92.34" y="502.73" width="3.19" height="3.79" fill="#b14382"/><rect x="95.28" y="502.73" width="3.19" height="3.79" fill="#c34f78"/><rect x="98.22" y="502.73" width="3.19" height="3.79" fill="#bc4a7c"/><rect x="101.16" y="502.73" width="3.19" height="3.79" fill="#a23c87"/><rect x="104.1" y="502.73" width="3.19" height="3.79" fill="#a33c87"/><rect x="107.04" y="502.73" width="3.19" height="3.79" fill="#c04d79"/><rect x="109.98" y="502.73" width="3.19" height="3.79" fill="#ca5374"/><rect x="112.92" y="502.73" width="3.19" height="3.79" fill="#b7487f"/><rect x="115.86" y="502.73" width="3.19" height="3.79" fill="#b54780"/><rect x="118.8" y="502.73" width="3.19" height="3.79" fill="#ba497d"/><rect x="121.74" y="502.73" width="3.19" height="3.79" fill="#a03b87"/><rect x="124.68" y="502.73" width="3.19" height="3.79" fill="#b6477f"/><rect x="127.62" y="502.73" width="3.19" height="3.79" fill="#d96266"/><rect x="130.56" y="502.73" width="6.19" height="3.79" fill="#ce5672"/><rect x="42.3" y="506.26" width="6.19" height="6.79" fill="#be4b7b"/><rect x="48.24" y="506.26" width="3.19" height="6.79" fill="#bc4a7c"/><rect x="51.18" y="506.26" width="3.19" height="6.79" fill="#c34f78"/><rect x="54.12" y="506.26" width="3.19" height="6.79" fill="#ba4a7d"/><rect x="57.06" y="506.26" width="3.19" height="6.79" fill="#bd4b7b"/><rect x="60" y="506.26" width="3.19" height="6.79" fill="#be4b7b"/><rect x="62.94" y="506.26" width="3.19" height="6.79" fill="#ba497d"/><rect x="65.88" y="506.26" width="3.19" height="6.79" fill="#bd4b7b"/><rect x="68.82" y="506.26" width="3.19" height="6.79" fill="#ae4284"/><rect x="71.76" y="506.26" width="3.19" height="6.79" fill="#ac4185"/><rect x="74.7" y="506.26" width="3.19" height="6.79" fill="#b9497d"/><rect x="77.64" y="506.26" width="3.19" height="6.79" fill="#bf4d7a"/><rect x="80.58" y="506.26" width="3.19" height="6.79" fill="#cc5573"/><rect x="83.52" y="506.26" width="3.19" height="6.79" fill="#d05870"/><rect x="86.46" y="506.26" width="3.19" height="6.79" fill="#c04d79"/><rect x="89.4" y="506.26" width="3.19" height="6.79" fill="#b44681"/><rect x="92.34" y="506.26" width="3.19" height="6.79" fill="#b34681"/><rect x="95.28" y="506.26" width="3.19" height="6.79" fill="#be4d7a"/><rect x="98.22" y="506.26" width="3.19" height="6.79" fill="#ca5275"/><rect x="101.16" y="506.26" width="3.19" height="6.79" fill="#be4b7b"/><rect x="104.1" y="506.26" width="3.19" height="6.79" fill="#a94085"/><rect x="107.04" y="506.26" width="3.19" height="6.79" fill="#80298a"/><rect x="109.98" y="506.26" width="3.19" height="6.79" fill="#7f298a"/><rect x="112.92" y="506.26" width="3.19" height="6.79" fill="#822a8a"/><rect x="115.86" y="506.26" width="3.19" height="6.79" fill="#7e2989"/><rect x="118.8" y="506.26" width="3.19" height="6.79" fill="#a94086"/><rect x="121.74" y="506.26" width="3.19" height="6.79" fill="#c65077"/><rect x="124.68" y="506.26" width="3.19" height="6.79" fill="#bc4a7c"/><rect x="127.62" y="506.26" width="3.19" height="6.79" fill="#ac4284"/><rect x="130.56" y="506.26" width="6.19" height="6.79" fill="#9d3988"/></g></g>
<rect x="45.3" y="421.4" width="88.2" height="88.4" fill="none" stroke="#555" stroke-width="0.6" />
<clipPath id="hmc2"><rect x="45.3" y="524.4" width="88" height="88.6"/></clipPath>
<g clip-path="url(#hmc2)"><g filter="url(#hblur)" shape-rendering="crispEdges"><rect x="42.3" y="521.4" width="6.18" height="9.16" fill="#ca5275"/><rect x="48.23" y="521.4" width="3.18" height="9.16" fill="#ca5275"/><rect x="51.17" y="521.4" width="3.18" height="9.16" fill="#be4d7a"/><rect x="54.1" y="521.4" width="3.18" height="9.16" fill="#b54680"/><rect x="57.03" y="521.4" width="3.18" height="9.16" fill="#b24481"/><rect x="59.97" y="521.4" width="3.18" height="9.16" fill="#b5477f"/><rect x="62.9" y="521.4" width="3.18" height="9.16" fill="#ca5374"/><rect x="65.83" y="521.4" width="3.18" height="9.16" fill="#d55e6a"/><rect x="68.77" y="521.4" width="3.18" height="9.16" fill="#c65077"/><rect x="71.7" y="521.4" width="3.18" height="9.16" fill="#be4b7b"/><rect x="74.63" y="521.4" width="3.18" height="9.16" fill="#cd5573"/><rect x="77.57" y="521.4" width="3.18" height="9.16" fill="#d05870"/><rect x="80.5" y="521.4" width="3.18" height="9.16" fill="#c55078"/><rect x="83.43" y="521.4" width="3.18" height="9.16" fill="#ba497d"/><rect x="86.37" y="521.4" width="3.18" height="9.16" fill="#c55077"/><rect x="89.3" y="521.4" width="3.18" height="9.16" fill="#c75176"/><rect x="92.23" y="521.4" width="3.18" height="9.16" fill="#b54780"/><rect x="95.17" y="521.4" width="3.18" height="9.16" fill="#a83e86"/><rect x="98.1" y="521.4" width="3.18" height="9.16" fill="#9d3988"/><rect x="101.03" y="521.4" width="3.18" height="9.16" fill="#973588"/><rect x="103.97" y="521.4" width="3.18" height="9.16" fill="#a03b87"/><rect x="106.9" y="521.4" width="3.18" height="9.16" fill="#ac4185"/><rect x="109.83" y="521.4" width="3.18" height="9.16" fill="#b54780"/><rect x="112.77" y="521.4" width="3.18" height="9.16" fill="#c34f78"/><rect x="115.7" y="521.4" width="3.18" height="9.16" fill="#d1596f"/><rect x="118.63" y="521.4" width="3.18" height="9.16" fill="#d1596f"/><rect x="121.57" y="521.4" width="3.18" height="9.16" fill="#e67058"/><rect x="124.5" y="521.4" width="3.18" height="9.16" fill="#e97851"/><rect x="127.43" y="521.4" width="3.18" height="9.16" fill="#ee8246"/><rect x="130.37" y="521.4" width="6.18" height="9.16" fill="#ef8543"/><rect x="42.3" y="530.31" width="6.18" height="6.16" fill="#a03b87"/><rect x="48.23" y="530.31" width="3.18" height="6.16" fill="#ad4284"/><rect x="51.17" y="530.31" width="3.18" height="6.16" fill="#af4383"/><rect x="54.1" y="530.31" width="3.18" height="6.16" fill="#bc4a7c"/><rect x="57.03" y="530.31" width="3.18" height="6.16" fill="#cb5374"/><rect x="59.97" y="530.31" width="3.18" height="6.16" fill="#c34f78"/><rect x="62.9" y="530.31" width="3.18" height="6.16" fill="#c75176"/><rect x="65.83" y="530.31" width="3.18" height="6.16" fill="#cf5771"/><rect x="68.77" y="530.31" width="3.18" height="6.16" fill="#c45078"/><rect x="71.7" y="530.31" width="3.18" height="6.16" fill="#c24e78"/><rect x="74.63" y="530.31" width="3.18" height="6.16" fill="#c95275"/><rect x="77.57" y="530.31" width="3.18" height="6.16" fill="#c04d79"/><rect x="80.5" y="530.31" width="3.18" height="6.16" fill="#b6477f"/><rect x="83.43" y="530.31" width="3.18" height="6.16" fill="#ca5275"/><rect x="86.37" y="530.31" width="3.18" height="6.16" fill="#d05870"/><rect x="89.3" y="530.31" width="3.18" height="6.16" fill="#c14e79"/><rect x="92.23" y="530.31" width="3.18" height="6.16" fill="#ca5275"/><rect x="95.17" y="530.31" width="3.18" height="6.16" fill="#ca5374"/><rect x="98.1" y="530.31" width="3.18" height="6.16" fill="#ce5672"/><rect x="101.03" y="530.31" width="3.18" height="6.16" fill="#e06a5e"/><rect x="103.97" y="530.31" width="3.18" height="6.16" fill="#d65e6a"/><rect x="106.9" y="530.31" width="3.18" height="6.16" fill="#bc4a7c"/><rect x="109.83" y="530.31" width="3.18" height="6.16" fill="#c44f78"/><rect x="112.77" y="530.31" width="3.18" height="6.16" fill="#ce5771"/><rect x="115.7" y="530.31" width="3.18" height="6.16" fill="#ce5672"/><rect x="118.63" y="530.31" width="3.18" height="6.16" fill="#cf5771"/><rect x="121.57" y="530.31" width="3.18" height="6.16" fill="#cf5870"/><rect x="124.5" y="530.31" width="3.18" height="6.16" fill="#d86068"/><rect x="127.43" y="530.31" width="3.18" height="6.16" fill="#d96167"/><rect x="130.37" y="530.31" width="6.18" height="6.16" fill="#c34f78"/><rect x="42.3" y="536.21" width="6.18" height="6.16" fill="#c85276"/><rect x="48.23" y="536.21" width="3.18" height="6.16" fill="#c34f78"/><rect x="51.17" y="536.21" width="3.18" height="6.16" fill="#bd4b7b"/><rect x="54.1" y="536.21" width="3.18" height="6.16" fill="#b24481"/><rect x="57.03" y="536.21" width="3.18" height="6.16" fill="#b54680"/><rect x="59.97" y="536.21" width="3.18" height="6.16" fill="#c65177"/><rect x="62.9" y="536.21" width="3.18" height="6.16" fill="#d86167"/><rect x="65.83" y="536.21" width="3.18" height="6.16" fill="#d35c6c"/><rect x="68.77" y="536.21" width="3.18" height="6.16" fill="#b6477f"/><rect x="71.7" y="536.21" width="3.18" height="6.16" fill="#b6477f"/><rect x="74.63" y="536.21" width="3.18" height="6.16" fill="#bc4a7c"/><rect x="77.57" y="536.21" width="3.18" height="6.16" fill="#ab4185"/><rect x="80.5" y="536.21" width="3.18" height="6.16" fill="#ba497d"/><rect x="83.43" y="536.21" width="3.18" height="6.16" fill="#db6563"/><rect x="86.37" y="536.21" width="3.18" height="6.16" fill="#ee8344"/><rect x="89.3" y="536.21" width="3.18" height="6.16" fill="#ed8048"/><rect x="92.23" y="536.21" width="3.18" height="6.16" fill="#eb7b4d"/><rect x="95.17" y="536.21" width="3.18" height="6.16" fill="#ee8246"/><rect x="98.1" y="536.21" width="3.18" height="6.16" fill="#f69530"/><rect x="101.03" y="536.21" width="3.18" height="6.16" fill="#f7982f"/><rect x="103.97" y="536.21" width="3.18" height="6.16" fill="#f69530"/><rect x="106.9" y="536.21" width="3.18" height="6.16" fill="#f69331"/><rect x="109.83" y="536.21" width="3.18" height="6.16" fill="#f69430"/><rect x="112.77" y="536.21" width="3.18" height="6.16" fill="#f69430"/><rect x="115.7" y="536.21" width="3.18" height="6.16" fill="#ed8147"/><rect x="118.63" y="536.21" width="3.18" height="6.16" fill="#e87652"/><rect x="121.57" y="536.21" width="3.18" height="6.16" fill="#e87355"/><rect x="124.5" y="536.21" width="3.18" height="6.16" fill="#eb794f"/><rect x="127.43" y="536.21" width="3.18" height="6.16" fill="#e36d5b"/><rect x="130.37" y="536.21" width="6.18" height="6.16" fill="#de6860"/><rect x="42.3" y="542.12" width="6.18" height="6.16" fill="#cc5374"/><rect x="48.23" y="542.12" width="3.18" height="6.16" fill="#ce5672"/><rect x="51.17" y="542.12" width="3.18" height="6.16" fill="#ce5771"/><rect x="54.1" y="542.12" width="3.18" height="6.16" fill="#d35b6d"/><rect x="57.03" y="542.12" width="3.18" height="6.16" fill="#d25a6e"/><rect x="59.97" y="542.12" width="3.18" height="6.16" fill="#c65177"/><rect x="62.9" y="542.12" width="3.18" height="6.16" fill="#bb4a7c"/><rect x="65.83" y="542.12" width="3.18" height="6.16" fill="#b6477f"/><rect x="68.77" y="542.12" width="3.18" height="6.16" fill="#a03b87"/><rect x="71.7" y="542.12" width="3.18" height="6.16" fill="#a94086"/><rect x="74.63" y="542.12" width="3.18" height="6.16" fill="#d35b6d"/><rect x="77.57" y="542.12" width="3.18" height="6.16" fill="#f48f37"/><rect x="80.5" y="542.12" width="3.18" height="6.16" fill="#f89b2c"/><rect x="83.43" y="542.12" width="3.18" height="6.16" fill="#f8a327"/><rect x="86.37" y="542.12" width="3.18" height="6.16" fill="#f69530"/><rect x="89.3" y="542.12" width="3.18" height="6.16" fill="#f49035"/><rect x="92.23" y="542.12" width="3.18" height="6.16" fill="#f7972f"/><rect x="95.17" y="542.12" width="3.18" height="6.16" fill="#f7992d"/><rect x="98.1" y="542.12" width="3.18" height="6.16" fill="#f69530"/><rect x="101.03" y="542.12" width="3.18" height="6.16" fill="#f6962f"/><rect x="103.97" y="542.12" width="3.18" height="6.16" fill="#e87455"/><rect x="106.9" y="542.12" width="3.18" height="6.16" fill="#d55d6b"/><rect x="109.83" y="542.12" width="3.18" height="6.16" fill="#bb4a7c"/><rect x="112.77" y="542.12" width="3.18" height="6.16" fill="#be4d7a"/><rect x="115.7" y="542.12" width="3.18" height="6.16" fill="#bf4d7a"/><rect x="118.63" y="542.12" width="3.18" height="6.16" fill="#ba497d"/><rect x="121.57" y="542.12" width="3.18" height="6.16" fill="#bd4b7b"/><rect x="124.5" y="542.12" width="3.18" height="6.16" fill="#c44f78"/><rect x="127.43" y="542.12" width="3.18" height="6.16" fill="#d05870"/><rect x="130.37" y="542.12" width="6.18" height="6.16" fill="#d15a6e"/><rect x="42.3" y="548.03" width="6.18" height="6.16" fill="#b14482"/><rect x="48.23" y="548.03" width="3.18" height="6.16" fill="#af4283"/><rect x="51.17" y="548.03" width="3.18" height="6.16" fill="#aa4085"/><rect x="54.1" y="548.03" width="3.18" height="6.16" fill="#a23c87"/><rect x="57.03" y="548.03" width="3.18" height="6.16" fill="#a63e86"/><rect x="59.97" y="548.03" width="3.18" height="6.16" fill="#ab4085"/><rect x="62.9" y="548.03" width="3.18" height="6.16" fill="#a94086"/><rect x="65.83" y="548.03" width="3.18" height="6.16" fill="#ac4185"/><rect x="68.77" y="548.03" width="3.18" height="6.16" fill="#ac4185"/><rect x="71.7" y="548.03" width="3.18" height="6.16" fill="#af4383"/><rect x="74.63" y="548.03" width="3.18" height="6.16" fill="#b14482"/><rect x="77.57" y="548.03" width="3.18" height="6.16" fill="#b54780"/><rect x="80.5" y="548.03" width="3.18" height="6.16" fill="#b14482"/><rect x="83.43" y="548.03" width="3.18" height="6.16" fill="#ad4284"/><rect x="86.37" y="548.03" width="3.18" height="6.16" fill="#ba497d"/><rect x="89.3" y="548.03" width="3.18" height="6.16" fill="#be4d7a"/><rect x="92.23" y="548.03" width="3.18" height="6.16" fill="#b54780"/><rect x="95.17" y="548.03" width="3.18" height="6.16" fill="#b04383"/><rect x="98.1" y="548.03" width="3.18" height="6.16" fill="#ad4284"/><rect x="101.03" y="548.03" width="3.18" height="6.16" fill="#af4383"/><rect x="103.97" y="548.03" width="3.18" height="6.16" fill="#b54680"/><rect x="106.9" y="548.03" width="3.18" height="6.16" fill="#b24481"/><rect x="109.83" y="548.03" width="3.18" height="6.16" fill="#ae4284"/><rect x="112.77" y="548.03" width="3.18" height="6.16" fill="#ac4185"/><rect x="115.7" y="548.03" width="3.18" height="6.16" fill="#a83e86"/><rect x="118.63" y="548.03" width="3.18" height="6.16" fill="#ac4185"/><rect x="121.57" y="548.03" width="3.18" height="6.16" fill="#b5477f"/><rect x="124.5" y="548.03" width="3.18" height="6.16" fill="#b8487e"/><rect x="127.43" y="548.03" width="3.18" height="6.16" fill="#b8487e"/><rect x="130.37" y="548.03" width="6.18" height="6.16" fill="#b54780"/><rect x="42.3" y="553.93" width="6.18" height="6.16" fill="#9c3888"/><rect x="48.23" y="553.93" width="3.18" height="6.16" fill="#9e3988"/><rect x="51.17" y="553.93" width="3.18" height="6.16" fill="#9f3b88"/><rect x="54.1" y="553.93" width="3.18" height="6.16" fill="#a03b87"/><rect x="57.03" y="553.93" width="3.18" height="6.16" fill="#a03b87"/><rect x="59.97" y="553.93" width="3.18" height="6.16" fill="#9c3888"/><rect x="62.9" y="553.93" width="3.18" height="6.16" fill="#973588"/><rect x="65.83" y="553.93" width="3.18" height="6.16" fill="#a03b87"/><rect x="68.77" y="553.93" width="3.18" height="6.16" fill="#a94085"/><rect x="71.7" y="553.93" width="3.18" height="6.16" fill="#a13c87"/><rect x="74.63" y="553.93" width="3.18" height="6.16" fill="#9c3888"/><rect x="77.57" y="553.93" width="3.18" height="6.16" fill="#a63e86"/><rect x="80.5" y="553.93" width="3.18" height="6.16" fill="#a94086"/><rect x="83.43" y="553.93" width="3.18" height="6.16" fill="#9e3988"/><rect x="86.37" y="553.93" width="3.18" height="6.16" fill="#9b3888"/><rect x="89.3" y="553.93" width="3.18" height="6.16" fill="#993788"/><rect x="92.23" y="553.93" width="3.18" height="6.16" fill="#a43d86"/><rect x="95.17" y="553.93" width="3.18" height="6.16" fill="#c04d79"/><rect x="98.1" y="553.93" width="3.18" height="6.16" fill="#d1596f"/><rect x="101.03" y="553.93" width="3.18" height="6.16" fill="#d25a6e"/><rect x="103.97" y="553.93" width="3.18" height="6.16" fill="#e16b5d"/><rect x="106.9" y="553.93" width="3.18" height="6.16" fill="#e26c5c"/><rect x="109.83" y="553.93" width="3.18" height="6.16" fill="#e26b5d"/><rect x="112.77" y="553.93" width="3.18" height="6.16" fill="#df695f"/><rect x="115.7" y="553.93" width="3.18" height="6.16" fill="#db6563"/><rect x="118.63" y="553.93" width="3.18" height="6.16" fill="#de6860"/><rect x="121.57" y="553.93" width="3.18" height="6.16" fill="#e56f59"/><rect x="124.5" y="553.93" width="3.18" height="6.16" fill="#e56f59"/><rect x="127.43" y="553.93" width="3.18" height="6.16" fill="#e36d5b"/><rect x="130.37" y="553.93" width="6.18" height="6.16" fill="#e46e5a"/><rect x="42.3" y="559.84" width="6.18" height="6.16" fill="#ba497d"/><rect x="48.23" y="559.84" width="3.18" height="6.16" fill="#c14e79"/><rect x="51.17" y="559.84" width="3.18" height="6.16" fill="#ca5374"/><rect x="54.1" y="559.84" width="3.18" height="6.16" fill="#c65177"/><rect x="57.03" y="559.84" width="3.18" height="6.16" fill="#c34f78"/><rect x="59.97" y="559.84" width="3.18" height="6.16" fill="#ce5771"/><rect x="62.9" y="559.84" width="3.18" height="6.16" fill="#da6365"/><rect x="65.83" y="559.84" width="3.18" height="6.16" fill="#d96266"/><rect x="68.77" y="559.84" width="3.18" height="6.16" fill="#ce5672"/><rect x="71.7" y="559.84" width="3.18" height="6.16" fill="#b7487e"/><rect x="74.63" y="559.84" width="3.18" height="6.16" fill="#b5477f"/><rect x="77.57" y="559.84" width="3.18" height="6.16" fill="#d86167"/><rect x="80.5" y="559.84" width="3.18" height="6.16" fill="#eb7a4e"/><rect x="83.43" y="559.84" width="3.18" height="6.16" fill="#f79a2d"/><rect x="86.37" y="559.84" width="3.18" height="6.16" fill="#f89c2c"/><rect x="89.3" y="559.84" width="3.18" height="6.16" fill="#f8a02a"/><rect x="92.23" y="559.84" width="3.18" height="6.16" fill="#f8a129"/><rect x="95.17" y="559.84" width="3.18" height="6.16" fill="#f89e2a"/><rect x="98.1" y="559.84" width="3.18" height="6.16" fill="#f89b2c"/><rect x="101.03" y="559.84" width="3.18" height="6.16" fill="#f79a2d"/><rect x="103.97" y="559.84" width="3.18" height="6.16" fill="#f69530"/><rect x="106.9" y="559.84" width="3.18" height="6.16" fill="#f7992d"/><rect x="109.83" y="559.84" width="3.18" height="6.16" fill="#f8a02a"/><rect x="112.77" y="559.84" width="3.18" height="6.16" fill="#f9a427"/><rect x="115.7" y="559.84" width="3.18" height="6.16" fill="#faab23"/><rect x="118.63" y="559.84" width="3.18" height="6.16" fill="#f8a327"/><rect x="121.57" y="559.84" width="3.18" height="6.16" fill="#f38e38"/><rect x="124.5" y="559.84" width="3.18" height="6.16" fill="#f1893d"/><rect x="127.43" y="559.84" width="3.18" height="6.16" fill="#f69233"/><rect x="130.37" y="559.84" width="6.18" height="6.16" fill="#f38e38"/><rect x="42.3" y="565.75" width="6.18" height="6.16" fill="#cd5573"/><rect x="48.23" y="565.75" width="3.18" height="6.16" fill="#c75176"/><rect x="51.17" y="565.75" width="3.18" height="6.16" fill="#a53d86"/><rect x="54.1" y="565.75" width="3.18" height="6.16" fill="#9c3888"/><rect x="57.03" y="565.75" width="3.18" height="6.16" fill="#bc4a7c"/><rect x="59.97" y="565.75" width="3.18" height="6.16" fill="#c85276"/><rect x="62.9" y="565.75" width="3.18" height="6.16" fill="#c45078"/><rect x="65.83" y="565.75" width="3.18" height="6.16" fill="#c04d7a"/><rect x="68.77" y="565.75" width="3.18" height="6.16" fill="#af4383"/><rect x="71.7" y="565.75" width="3.18" height="6.16" fill="#b44680"/><rect x="74.63" y="565.75" width="3.18" height="6.16" fill="#d05870"/><rect x="77.57" y="565.75" width="3.18" height="6.16" fill="#e97751"/><rect x="80.5" y="565.75" width="3.18" height="6.16" fill="#e97751"/><rect x="83.43" y="565.75" width="3.18" height="6.16" fill="#ed8147"/><rect x="86.37" y="565.75" width="3.18" height="6.16" fill="#f08641"/><rect x="89.3" y="565.75" width="3.18" height="6.16" fill="#ee8344"/><rect x="92.23" y="565.75" width="3.18" height="6.16" fill="#eb7c4b"/><rect x="95.17" y="565.75" width="3.18" height="6.16" fill="#ce5672"/><rect x="98.1" y="565.75" width="3.18" height="6.16" fill="#b8487e"/><rect x="101.03" y="565.75" width="3.18" height="6.16" fill="#b44680"/><rect x="103.97" y="565.75" width="3.18" height="6.16" fill="#be4b7b"/><rect x="106.9" y="565.75" width="3.18" height="6.16" fill="#c04d7a"/><rect x="109.83" y="565.75" width="3.18" height="6.16" fill="#ca5275"/><rect x="112.77" y="565.75" width="3.18" height="6.16" fill="#da6365"/><rect x="115.7" y="565.75" width="3.18" height="6.16" fill="#da6266"/><rect x="118.63" y="565.75" width="3.18" height="6.16" fill="#c85276"/><rect x="121.57" y="565.75" width="3.18" height="6.16" fill="#ca5275"/><rect x="124.5" y="565.75" width="3.18" height="6.16" fill="#cc5573"/><rect x="127.43" y="565.75" width="3.18" height="6.16" fill="#bc4a7c"/><rect x="130.37" y="565.75" width="6.18" height="6.16" fill="#a63e86"/><rect x="42.3" y="571.65" width="6.18" height="6.16" fill="#c24f78"/><rect x="48.23" y="571.65" width="3.18" height="6.16" fill="#ce5672"/><rect x="51.17" y="571.65" width="3.18" height="6.16" fill="#cc5573"/><rect x="54.1" y="571.65" width="3.18" height="6.16" fill="#c65077"/><rect x="57.03" y="571.65" width="3.18" height="6.16" fill="#cc5573"/><rect x="59.97" y="571.65" width="3.18" height="6.16" fill="#d45c6c"/><rect x="62.9" y="571.65" width="3.18" height="6.16" fill="#bf4d7a"/><rect x="65.83" y="571.65" width="3.18" height="6.16" fill="#a03b87"/><rect x="68.77" y="571.65" width="3.18" height="6.16" fill="#9c3888"/><rect x="71.7" y="571.65" width="3.18" height="6.16" fill="#8d308a"/><rect x="74.63" y="571.65" width="3.18" height="6.16" fill="#8e318a"/><rect x="77.57" y="571.65" width="3.18" height="6.16" fill="#a13c87"/><rect x="80.5" y="571.65" width="3.18" height="6.16" fill="#b14482"/><rect x="83.43" y="571.65" width="3.18" height="6.16" fill="#ac4185"/><rect x="86.37" y="571.65" width="3.18" height="6.16" fill="#a03b87"/><rect x="89.3" y="571.65" width="3.18" height="6.16" fill="#a53d86"/><rect x="92.23" y="571.65" width="3.18" height="6.16" fill="#b04383"/><rect x="95.17" y="571.65" width="3.18" height="6.16" fill="#b04383"/><rect x="98.1" y="571.65" width="3.18" height="6.16" fill="#ac4185"/><rect x="101.03" y="571.65" width="3.18" height="6.16" fill="#ab4185"/><rect x="103.97" y="571.65" width="3.18" height="6.16" fill="#ad4284"/><rect x="106.9" y="571.65" width="3.18" height="6.16" fill="#b14482"/><rect x="109.83" y="571.65" width="3.18" height="6.16" fill="#b14482"/><rect x="112.77" y="571.65" width="3.18" height="6.16" fill="#ab4185"/><rect x="115.7" y="571.65" width="3.18" height="6.16" fill="#a63e86"/><rect x="118.63" y="571.65" width="3.18" height="6.16" fill="#a94086"/><rect x="121.57" y="571.65" width="3.18" height="6.16" fill="#ac4185"/><rect x="124.5" y="571.65" width="3.18" height="6.16" fill="#ac4185"/><rect x="127.43" y="571.65" width="3.18" height="6.16" fill="#a63e86"/><rect x="130.37" y="571.65" width="6.18" height="6.16" fill="#a63d86"/><rect x="42.3" y="577.56" width="6.18" height="6.16" fill="#be4b7b"/><rect x="48.23" y="577.56" width="3.18" height="6.16" fill="#c04e79"/><rect x="51.17" y="577.56" width="3.18" height="6.16" fill="#dd6761"/><rect x="54.1" y="577.56" width="3.18" height="6.16" fill="#e16a5e"/><rect x="57.03" y="577.56" width="3.18" height="6.16" fill="#d05870"/><rect x="59.97" y="577.56" width="3.18" height="6.16" fill="#d1596f"/><rect x="62.9" y="577.56" width="3.18" height="6.16" fill="#bf4d7a"/><rect x="65.83" y="577.56" width="3.18" height="6.16" fill="#a43d86"/><rect x="68.77" y="577.56" width="3.18" height="6.16" fill="#b7487f"/><rect x="71.7" y="577.56" width="3.18" height="6.16" fill="#c95275"/><rect x="74.63" y="577.56" width="3.18" height="6.16" fill="#c04d79"/><rect x="77.57" y="577.56" width="3.18" height="6.16" fill="#b5477f"/><rect x="80.5" y="577.56" width="3.18" height="6.16" fill="#ba497d"/><rect x="83.43" y="577.56" width="3.18" height="6.16" fill="#cb5374"/><rect x="86.37" y="577.56" width="3.18" height="6.16" fill="#d75f69"/><rect x="89.3" y="577.56" width="3.18" height="6.16" fill="#d35b6d"/><rect x="92.23" y="577.56" width="3.18" height="6.16" fill="#d35b6d"/><rect x="95.17" y="577.56" width="3.18" height="6.16" fill="#d75f69"/><rect x="98.1" y="577.56" width="3.18" height="6.16" fill="#c75176"/><rect x="101.03" y="577.56" width="3.18" height="6.16" fill="#b04383"/><rect x="103.97" y="577.56" width="3.18" height="6.16" fill="#b54780"/><rect x="106.9" y="577.56" width="3.18" height="6.16" fill="#db6365"/><rect x="109.83" y="577.56" width="3.18" height="6.16" fill="#eb7c4b"/><rect x="112.77" y="577.56" width="3.18" height="6.16" fill="#f38f37"/><rect x="115.7" y="577.56" width="3.18" height="6.16" fill="#f28b3c"/><rect x="118.63" y="577.56" width="3.18" height="6.16" fill="#f08740"/><rect x="121.57" y="577.56" width="3.18" height="6.16" fill="#dd6761"/><rect x="124.5" y="577.56" width="3.18" height="6.16" fill="#cc5573"/><rect x="127.43" y="577.56" width="3.18" height="6.16" fill="#c24f78"/><rect x="130.37" y="577.56" width="6.18" height="6.16" fill="#c75176"/><rect x="42.3" y="583.47" width="6.18" height="6.16" fill="#e56f59"/><rect x="48.23" y="583.47" width="3.18" height="6.16" fill="#d86068"/><rect x="51.17" y="583.47" width="3.18" height="6.16" fill="#c65177"/><rect x="54.1" y="583.47" width="3.18" height="6.16" fill="#ba497d"/><rect x="57.03" y="583.47" width="3.18" height="6.16" fill="#c65077"/><rect x="59.97" y="583.47" width="3.18" height="6.16" fill="#da6365"/><rect x="62.9" y="583.47" width="3.18" height="6.16" fill="#d86068"/><rect x="65.83" y="583.47" width="3.18" height="6.16" fill="#ca5275"/><rect x="68.77" y="583.47" width="3.18" height="6.16" fill="#ba497d"/><rect x="71.7" y="583.47" width="3.18" height="6.16" fill="#b44681"/><rect x="74.63" y="583.47" width="3.18" height="6.16" fill="#c55078"/><rect x="77.57" y="583.47" width="3.18" height="6.16" fill="#d05870"/><rect x="80.5" y="583.47" width="3.18" height="6.16" fill="#c65177"/><rect x="83.43" y="583.47" width="3.18" height="6.16" fill="#bf4d7a"/><rect x="86.37" y="583.47" width="3.18" height="6.16" fill="#c34f78"/><rect x="89.3" y="583.47" width="3.18" height="6.16" fill="#c65077"/><rect x="92.23" y="583.47" width="3.18" height="6.16" fill="#d1596f"/><rect x="95.17" y="583.47" width="3.18" height="6.16" fill="#ed8146"/><rect x="98.1" y="583.47" width="3.18" height="6.16" fill="#f08840"/><rect x="101.03" y="583.47" width="3.18" height="6.16" fill="#f38b3b"/><rect x="103.97" y="583.47" width="3.18" height="6.16" fill="#ea784f"/><rect x="106.9" y="583.47" width="3.18" height="6.16" fill="#c44f78"/><rect x="109.83" y="583.47" width="3.18" height="6.16" fill="#8b2f8a"/><rect x="112.77" y="583.47" width="3.18" height="6.16" fill="#7e2989"/><rect x="115.7" y="583.47" width="3.18" height="6.16" fill="#a03b87"/><rect x="118.63" y="583.47" width="3.18" height="6.16" fill="#bb4a7c"/><rect x="121.57" y="583.47" width="3.18" height="6.16" fill="#c24e79"/><rect x="124.5" y="583.47" width="3.18" height="6.16" fill="#bc4a7c"/><rect x="127.43" y="583.47" width="3.18" height="6.16" fill="#d45c6c"/><rect x="130.37" y="583.47" width="6.18" height="6.16" fill="#eb7b4d"/><rect x="42.3" y="589.37" width="6.18" height="6.16" fill="#c04d79"/><rect x="48.23" y="589.37" width="3.18" height="6.16" fill="#ba4a7d"/><rect x="51.17" y="589.37" width="3.18" height="6.16" fill="#b9497e"/><rect x="54.1" y="589.37" width="3.18" height="6.16" fill="#bb4a7c"/><rect x="57.03" y="589.37" width="3.18" height="6.16" fill="#af4383"/><rect x="59.97" y="589.37" width="3.18" height="6.16" fill="#b7487f"/><rect x="62.9" y="589.37" width="3.18" height="6.16" fill="#cb5374"/><rect x="65.83" y="589.37" width="3.18" height="6.16" fill="#cb5374"/><rect x="68.77" y="589.37" width="3.18" height="6.16" fill="#d86167"/><rect x="71.7" y="589.37" width="3.18" height="6.16" fill="#e26b5d"/><rect x="74.63" y="589.37" width="3.18" height="6.16" fill="#d86068"/><rect x="77.57" y="589.37" width="3.18" height="6.16" fill="#db6563"/><rect x="80.5" y="589.37" width="3.18" height="6.16" fill="#e16b5d"/><rect x="83.43" y="589.37" width="3.18" height="6.16" fill="#ce5672"/><rect x="86.37" y="589.37" width="3.18" height="6.16" fill="#b34681"/><rect x="89.3" y="589.37" width="3.18" height="6.16" fill="#af4383"/><rect x="92.23" y="589.37" width="3.18" height="6.16" fill="#c95275"/><rect x="95.17" y="589.37" width="3.18" height="6.16" fill="#df695f"/><rect x="98.1" y="589.37" width="3.18" height="6.16" fill="#df695f"/><rect x="101.03" y="589.37" width="3.18" height="6.16" fill="#de6860"/><rect x="103.97" y="589.37" width="3.18" height="6.16" fill="#f7982f"/><rect x="106.9" y="589.37" width="3.18" height="6.16" fill="#f89d2c"/><rect x="109.83" y="589.37" width="3.18" height="6.16" fill="#f8a229"/><rect x="112.77" y="589.37" width="3.18" height="6.16" fill="#f8a327"/><rect x="115.7" y="589.37" width="3.18" height="6.16" fill="#f9a527"/><rect x="118.63" y="589.37" width="3.18" height="6.16" fill="#faab23"/><rect x="121.57" y="589.37" width="3.18" height="6.16" fill="#fbb41e"/><rect x="124.5" y="589.37" width="3.18" height="6.16" fill="#fbef8d"/><rect x="127.43" y="589.37" width="3.18" height="6.16" fill="#fbef8e"/><rect x="130.37" y="589.37" width="6.18" height="6.16" fill="#fbef8d"/><rect x="42.3" y="595.28" width="6.18" height="6.16" fill="#dc6563"/><rect x="48.23" y="595.28" width="3.18" height="6.16" fill="#e46e5a"/><rect x="51.17" y="595.28" width="3.18" height="6.16" fill="#db6365"/><rect x="54.1" y="595.28" width="3.18" height="6.16" fill="#c04d79"/><rect x="57.03" y="595.28" width="3.18" height="6.16" fill="#b14482"/><rect x="59.97" y="595.28" width="3.18" height="6.16" fill="#b24481"/><rect x="62.9" y="595.28" width="3.18" height="6.16" fill="#a23c87"/><rect x="65.83" y="595.28" width="3.18" height="6.16" fill="#aa4085"/><rect x="68.77" y="595.28" width="3.18" height="6.16" fill="#ce5771"/><rect x="71.7" y="595.28" width="3.18" height="6.16" fill="#d55d6b"/><rect x="74.63" y="595.28" width="3.18" height="6.16" fill="#be4b7b"/><rect x="77.57" y="595.28" width="3.18" height="6.16" fill="#b54780"/><rect x="80.5" y="595.28" width="3.18" height="6.16" fill="#d05870"/><rect x="83.43" y="595.28" width="3.18" height="6.16" fill="#ee8344"/><rect x="86.37" y="595.28" width="3.18" height="6.16" fill="#f49035"/><rect x="89.3" y="595.28" width="3.18" height="6.16" fill="#f7982f"/><rect x="92.23" y="595.28" width="3.18" height="6.16" fill="#f38d39"/><rect x="95.17" y="595.28" width="3.18" height="6.16" fill="#ec7e49"/><rect x="98.1" y="595.28" width="3.18" height="6.16" fill="#eb7c4b"/><rect x="101.03" y="595.28" width="3.18" height="6.16" fill="#ee8246"/><rect x="103.97" y="595.28" width="3.18" height="6.16" fill="#d65f69"/><rect x="106.9" y="595.28" width="3.18" height="6.16" fill="#c04d79"/><rect x="109.83" y="595.28" width="3.18" height="6.16" fill="#b8487e"/><rect x="112.77" y="595.28" width="3.18" height="6.16" fill="#bf4d7a"/><rect x="115.7" y="595.28" width="3.18" height="6.16" fill="#d55d6b"/><rect x="118.63" y="595.28" width="3.18" height="6.16" fill="#e26b5d"/><rect x="121.57" y="595.28" width="3.18" height="6.16" fill="#d86167"/><rect x="124.5" y="595.28" width="3.18" height="6.16" fill="#cc5573"/><rect x="127.43" y="595.28" width="3.18" height="6.16" fill="#ca5374"/><rect x="130.37" y="595.28" width="6.18" height="6.16" fill="#c85276"/><rect x="42.3" y="601.19" width="6.18" height="6.16" fill="#b54780"/><rect x="48.23" y="601.19" width="3.18" height="6.16" fill="#b24481"/><rect x="51.17" y="601.19" width="3.18" height="6.16" fill="#ac4185"/><rect x="54.1" y="601.19" width="3.18" height="6.16" fill="#af4383"/><rect x="57.03" y="601.19" width="3.18" height="6.16" fill="#ba497d"/><rect x="59.97" y="601.19" width="3.18" height="6.16" fill="#bb4a7c"/><rect x="62.9" y="601.19" width="3.18" height="6.16" fill="#bd4b7b"/><rect x="65.83" y="601.19" width="3.18" height="6.16" fill="#ba4a7c"/><rect x="68.77" y="601.19" width="3.18" height="6.16" fill="#b04383"/><rect x="71.7" y="601.19" width="3.18" height="6.16" fill="#b04383"/><rect x="74.63" y="601.19" width="3.18" height="6.16" fill="#ba497d"/><rect x="77.57" y="601.19" width="3.18" height="6.16" fill="#bb4a7c"/><rect x="80.5" y="601.19" width="3.18" height="6.16" fill="#bb4a7c"/><rect x="83.43" y="601.19" width="3.18" height="6.16" fill="#bf4d7a"/><rect x="86.37" y="601.19" width="3.18" height="6.16" fill="#ba497d"/><rect x="89.3" y="601.19" width="3.18" height="6.16" fill="#b04383"/><rect x="92.23" y="601.19" width="3.18" height="6.16" fill="#b24481"/><rect x="95.17" y="601.19" width="3.18" height="6.16" fill="#bd4b7b"/><rect x="98.1" y="601.19" width="3.18" height="6.16" fill="#b9497e"/><rect x="101.03" y="601.19" width="3.18" height="6.16" fill="#b34681"/><rect x="103.97" y="601.19" width="3.18" height="6.16" fill="#be4b7b"/><rect x="106.9" y="601.19" width="3.18" height="6.16" fill="#c55078"/><rect x="109.83" y="601.19" width="3.18" height="6.16" fill="#c24e78"/><rect x="112.77" y="601.19" width="3.18" height="6.16" fill="#ba497d"/><rect x="115.7" y="601.19" width="3.18" height="6.16" fill="#b34681"/><rect x="118.63" y="601.19" width="3.18" height="6.16" fill="#ba497d"/><rect x="121.57" y="601.19" width="3.18" height="6.16" fill="#c55078"/><rect x="124.5" y="601.19" width="3.18" height="6.16" fill="#c55078"/><rect x="127.43" y="601.19" width="3.18" height="6.16" fill="#c04e79"/><rect x="130.37" y="601.19" width="6.18" height="6.16" fill="#b8487e"/><rect x="42.3" y="607.09" width="6.18" height="9.16" fill="#be4d7a"/><rect x="48.23" y="607.09" width="3.18" height="9.16" fill="#ac4184"/><rect x="51.17" y="607.09" width="3.18" height="9.16" fill="#bd4b7b"/><rect x="54.1" y="607.09" width="3.18" height="9.16" fill="#ca5275"/><rect x="57.03" y="607.09" width="3.18" height="9.16" fill="#c44f78"/><rect x="59.97" y="607.09" width="3.18" height="9.16" fill="#d05870"/><rect x="62.9" y="607.09" width="3.18" height="9.16" fill="#cd5573"/><rect x="65.83" y="607.09" width="3.18" height="9.16" fill="#b6477f"/><rect x="68.77" y="607.09" width="3.18" height="9.16" fill="#bd4b7b"/><rect x="71.7" y="607.09" width="3.18" height="9.16" fill="#d1596f"/><rect x="74.63" y="607.09" width="3.18" height="9.16" fill="#e67058"/><rect x="77.57" y="607.09" width="3.18" height="9.16" fill="#e56e5a"/><rect x="80.5" y="607.09" width="3.18" height="9.16" fill="#e36d5b"/><rect x="83.43" y="607.09" width="3.18" height="9.16" fill="#e36d5b"/><rect x="86.37" y="607.09" width="3.18" height="9.16" fill="#e06a5e"/><rect x="89.3" y="607.09" width="3.18" height="9.16" fill="#c65177"/><rect x="92.23" y="607.09" width="3.18" height="9.16" fill="#ca5375"/><rect x="95.17" y="607.09" width="3.18" height="9.16" fill="#c95275"/><rect x="98.1" y="607.09" width="3.18" height="9.16" fill="#ac4185"/><rect x="101.03" y="607.09" width="3.18" height="9.16" fill="#933489"/><rect x="103.97" y="607.09" width="3.18" height="9.16" fill="#631b86"/><rect x="106.9" y="607.09" width="3.18" height="9.16" fill="#661c87"/><rect x="109.83" y="607.09" width="3.18" height="9.16" fill="#6d2088"/><rect x="112.77" y="607.09" width="3.18" height="9.16" fill="#712188"/><rect x="115.7" y="607.09" width="3.18" height="9.16" fill="#732388"/><rect x="118.63" y="607.09" width="3.18" height="9.16" fill="#6e2088"/><rect x="121.57" y="607.09" width="3.18" height="9.16" fill="#a03b87"/><rect x="124.5" y="607.09" width="3.18" height="9.16" fill="#b54780"/><rect x="127.43" y="607.09" width="3.18" height="9.16" fill="#be4d7a"/><rect x="130.37" y="607.09" width="6.18" height="9.16" fill="#ce5771"/></g></g>
<rect x="45.3" y="524.4" width="88" height="88.6" fill="none" stroke="#555" stroke-width="0.6" />
<line x1="74.4" y1="421.4" x2="74.4" y2="509.8" stroke="#faf6f6" stroke-width="1.3" stroke-dasharray="4.2 2.6" />
<line x1="104.2" y1="421.4" x2="104.2" y2="509.8" stroke="#faf6f6" stroke-width="1.3" stroke-dasharray="4.2 2.6" />
<line x1="74.4" y1="524.4" x2="74.4" y2="613" stroke="#faf6f6" stroke-width="1.3" stroke-dasharray="4.2 2.6" />
<line x1="104.2" y1="524.4" x2="104.2" y2="613" stroke="#faf6f6" stroke-width="1.3" stroke-dasharray="4.2 2.6" />
<g shape-rendering="crispEdges"><rect x="139.3" y="421.4" width="5.3" height="1.77" fill="#fcfc9c"/><rect x="139.3" y="422.87" width="5.3" height="1.77" fill="#faf58c"/><rect x="139.3" y="424.35" width="5.3" height="1.77" fill="#faee7d"/><rect x="139.3" y="425.82" width="5.3" height="1.77" fill="#f8e86d"/><rect x="139.3" y="427.29" width="5.3" height="1.77" fill="#f8e15e"/><rect x="139.3" y="428.77" width="5.3" height="1.77" fill="#f6da4e"/><rect x="139.3" y="430.24" width="5.3" height="1.77" fill="#f6d341"/><rect x="139.3" y="431.71" width="5.3" height="1.77" fill="#f8ca37"/><rect x="139.3" y="433.19" width="5.3" height="1.77" fill="#f8c22d"/><rect x="139.3" y="434.66" width="5.3" height="1.77" fill="#faba23"/><rect x="139.3" y="436.13" width="5.3" height="1.77" fill="#fab119"/><rect x="139.3" y="437.61" width="5.3" height="1.77" fill="#fca90f"/><rect x="139.3" y="439.08" width="5.3" height="1.77" fill="#fba10b"/><rect x="139.3" y="440.55" width="5.3" height="1.77" fill="#fa9a0e"/><rect x="139.3" y="442.03" width="5.3" height="1.77" fill="#f89210"/><rect x="139.3" y="443.5" width="5.3" height="1.77" fill="#f78b13"/><rect x="139.3" y="444.97" width="5.3" height="1.77" fill="#f58315"/><rect x="139.3" y="446.45" width="5.3" height="1.77" fill="#f47c18"/><rect x="139.3" y="447.92" width="5.3" height="1.77" fill="#f1751c"/><rect x="139.3" y="449.39" width="5.3" height="1.77" fill="#ee6e21"/><rect x="139.3" y="450.87" width="5.3" height="1.77" fill="#ea6827"/><rect x="139.3" y="452.34" width="5.3" height="1.77" fill="#e6612c"/><rect x="139.3" y="453.81" width="5.3" height="1.77" fill="#e25b32"/><rect x="139.3" y="455.29" width="5.3" height="1.77" fill="#df5437"/><rect x="139.3" y="456.76" width="5.3" height="1.77" fill="#da4f3c"/><rect x="139.3" y="458.23" width="5.3" height="1.77" fill="#d54a40"/><rect x="139.3" y="459.71" width="5.3" height="1.77" fill="#cf4645"/><rect x="139.3" y="461.18" width="5.3" height="1.77" fill="#ca4249"/><rect x="139.3" y="462.65" width="5.3" height="1.77" fill="#c43e4e"/><rect x="139.3" y="464.13" width="5.3" height="1.77" fill="#bf3952"/><rect x="139.3" y="465.6" width="5.3" height="1.77" fill="#b93656"/><rect x="139.3" y="467.07" width="5.3" height="1.77" fill="#b23359"/><rect x="139.3" y="468.55" width="5.3" height="1.77" fill="#ab305c"/><rect x="139.3" y="470.02" width="5.3" height="1.77" fill="#a42d5f"/><rect x="139.3" y="471.49" width="5.3" height="1.77" fill="#9d2a62"/><rect x="139.3" y="472.97" width="5.3" height="1.77" fill="#962765"/><rect x="139.3" y="474.44" width="5.3" height="1.77" fill="#902568"/><rect x="139.3" y="475.91" width="5.3" height="1.77" fill="#892269"/><rect x="139.3" y="477.39" width="5.3" height="1.77" fill="#82206a"/><rect x="139.3" y="478.86" width="5.3" height="1.77" fill="#7b1d6b"/><rect x="139.3" y="480.33" width="5.3" height="1.77" fill="#741b6c"/><rect x="139.3" y="481.81" width="5.3" height="1.77" fill="#6d186d"/><rect x="139.3" y="483.28" width="5.3" height="1.77" fill="#67166e"/><rect x="139.3" y="484.75" width="5.3" height="1.77" fill="#60146c"/><rect x="139.3" y="486.23" width="5.3" height="1.77" fill="#59126c"/><rect x="139.3" y="487.7" width="5.3" height="1.77" fill="#530f6a"/><rect x="139.3" y="489.17" width="5.3" height="1.77" fill="#4c0d6a"/><rect x="139.3" y="490.65" width="5.3" height="1.77" fill="#450b68"/><rect x="139.3" y="492.12" width="5.3" height="1.77" fill="#3e0a64"/><rect x="139.3" y="493.59" width="5.3" height="1.77" fill="#370a5c"/><rect x="139.3" y="495.07" width="5.3" height="1.77" fill="#300a54"/><rect x="139.3" y="496.54" width="5.3" height="1.77" fill="#280b4d"/><rect x="139.3" y="498.01" width="5.3" height="1.77" fill="#210b45"/><rect x="139.3" y="499.49" width="5.3" height="1.77" fill="#1a0b3d"/><rect x="139.3" y="500.96" width="5.3" height="1.77" fill="#140a35"/><rect x="139.3" y="502.43" width="5.3" height="1.77" fill="#10082c"/><rect x="139.3" y="503.91" width="5.3" height="1.77" fill="#0d0623"/><rect x="139.3" y="505.38" width="5.3" height="1.77" fill="#09051a"/><rect x="139.3" y="506.85" width="5.3" height="1.77" fill="#060311"/><rect x="139.3" y="508.33" width="5.3" height="1.77" fill="#020108"/></g>
<rect x="139.3" y="421.4" width="5.3" height="88.4" fill="none" stroke="#444" stroke-width="0.5" />
<line x1="144.6" y1="429.64" x2="146.1" y2="429.64" stroke="#333" stroke-width="0.6" />
<text x="146.4" y="432.39" font-size="9.3" text-anchor="start" fill="#222">10</text>
<line x1="144.6" y1="448.37" x2="146.1" y2="448.37" stroke="#333" stroke-width="0.6" />
<text x="146.4" y="451.12" font-size="9.3" text-anchor="start" fill="#222">5</text>
<line x1="144.6" y1="467.1" x2="146.1" y2="467.1" stroke="#333" stroke-width="0.6" />
<text x="146.4" y="469.85" font-size="9.3" text-anchor="start" fill="#222">0</text>
<line x1="144.6" y1="485.83" x2="146.1" y2="485.83" stroke="#333" stroke-width="0.6" />
<text x="146.4" y="488.58" font-size="9.3" text-anchor="start" fill="#222">-5</text>
<line x1="144.6" y1="504.56" x2="146.1" y2="504.56" stroke="#333" stroke-width="0.6" />
<text x="146.4" y="507.3" font-size="9.3" text-anchor="start" fill="#222">-10</text>
<g shape-rendering="crispEdges"><rect x="139.3" y="524.4" width="5.3" height="1.78" fill="#fcfc9c"/><rect x="139.3" y="525.88" width="5.3" height="1.78" fill="#faf58c"/><rect x="139.3" y="527.35" width="5.3" height="1.78" fill="#faee7d"/><rect x="139.3" y="528.83" width="5.3" height="1.78" fill="#f8e86d"/><rect x="139.3" y="530.31" width="5.3" height="1.78" fill="#f8e15e"/><rect x="139.3" y="531.78" width="5.3" height="1.78" fill="#f6da4e"/><rect x="139.3" y="533.26" width="5.3" height="1.78" fill="#f6d341"/><rect x="139.3" y="534.74" width="5.3" height="1.78" fill="#f8ca37"/><rect x="139.3" y="536.21" width="5.3" height="1.78" fill="#f8c22d"/><rect x="139.3" y="537.69" width="5.3" height="1.78" fill="#faba23"/><rect x="139.3" y="539.17" width="5.3" height="1.78" fill="#fab119"/><rect x="139.3" y="540.64" width="5.3" height="1.78" fill="#fca90f"/><rect x="139.3" y="542.12" width="5.3" height="1.78" fill="#fba10b"/><rect x="139.3" y="543.6" width="5.3" height="1.78" fill="#fa9a0e"/><rect x="139.3" y="545.07" width="5.3" height="1.78" fill="#f89210"/><rect x="139.3" y="546.55" width="5.3" height="1.78" fill="#f78b13"/><rect x="139.3" y="548.03" width="5.3" height="1.78" fill="#f58315"/><rect x="139.3" y="549.5" width="5.3" height="1.78" fill="#f47c18"/><rect x="139.3" y="550.98" width="5.3" height="1.78" fill="#f1751c"/><rect x="139.3" y="552.46" width="5.3" height="1.78" fill="#ee6e21"/><rect x="139.3" y="553.93" width="5.3" height="1.78" fill="#ea6827"/><rect x="139.3" y="555.41" width="5.3" height="1.78" fill="#e6612c"/><rect x="139.3" y="556.89" width="5.3" height="1.78" fill="#e25b32"/><rect x="139.3" y="558.36" width="5.3" height="1.78" fill="#df5437"/><rect x="139.3" y="559.84" width="5.3" height="1.78" fill="#da4f3c"/><rect x="139.3" y="561.32" width="5.3" height="1.78" fill="#d54a40"/><rect x="139.3" y="562.79" width="5.3" height="1.78" fill="#cf4645"/><rect x="139.3" y="564.27" width="5.3" height="1.78" fill="#ca4249"/><rect x="139.3" y="565.75" width="5.3" height="1.78" fill="#c43e4e"/><rect x="139.3" y="567.22" width="5.3" height="1.78" fill="#bf3952"/><rect x="139.3" y="568.7" width="5.3" height="1.78" fill="#b93656"/><rect x="139.3" y="570.18" width="5.3" height="1.78" fill="#b23359"/><rect x="139.3" y="571.65" width="5.3" height="1.78" fill="#ab305c"/><rect x="139.3" y="573.13" width="5.3" height="1.78" fill="#a42d5f"/><rect x="139.3" y="574.61" width="5.3" height="1.78" fill="#9d2a62"/><rect x="139.3" y="576.08" width="5.3" height="1.78" fill="#962765"/><rect x="139.3" y="577.56" width="5.3" height="1.78" fill="#902568"/><rect x="139.3" y="579.04" width="5.3" height="1.78" fill="#892269"/><rect x="139.3" y="580.51" width="5.3" height="1.78" fill="#82206a"/><rect x="139.3" y="581.99" width="5.3" height="1.78" fill="#7b1d6b"/><rect x="139.3" y="583.47" width="5.3" height="1.78" fill="#741b6c"/><rect x="139.3" y="584.94" width="5.3" height="1.78" fill="#6d186d"/><rect x="139.3" y="586.42" width="5.3" height="1.78" fill="#67166e"/><rect x="139.3" y="587.9" width="5.3" height="1.78" fill="#60146c"/><rect x="139.3" y="589.37" width="5.3" height="1.78" fill="#59126c"/><rect x="139.3" y="590.85" width="5.3" height="1.78" fill="#530f6a"/><rect x="139.3" y="592.33" width="5.3" height="1.78" fill="#4c0d6a"/><rect x="139.3" y="593.8" width="5.3" height="1.78" fill="#450b68"/><rect x="139.3" y="595.28" width="5.3" height="1.78" fill="#3e0a64"/><rect x="139.3" y="596.76" width="5.3" height="1.78" fill="#370a5c"/><rect x="139.3" y="598.23" width="5.3" height="1.78" fill="#300a54"/><rect x="139.3" y="599.71" width="5.3" height="1.78" fill="#280b4d"/><rect x="139.3" y="601.19" width="5.3" height="1.78" fill="#210b45"/><rect x="139.3" y="602.66" width="5.3" height="1.78" fill="#1a0b3d"/><rect x="139.3" y="604.14" width="5.3" height="1.78" fill="#140a35"/><rect x="139.3" y="605.62" width="5.3" height="1.78" fill="#10082c"/><rect x="139.3" y="607.09" width="5.3" height="1.78" fill="#0d0623"/><rect x="139.3" y="608.57" width="5.3" height="1.78" fill="#09051a"/><rect x="139.3" y="610.05" width="5.3" height="1.78" fill="#060311"/><rect x="139.3" y="611.52" width="5.3" height="1.78" fill="#020108"/></g>
<rect x="139.3" y="524.4" width="5.3" height="88.6" fill="none" stroke="#444" stroke-width="0.5" />
<line x1="144.6" y1="532.66" x2="146.1" y2="532.66" stroke="#333" stroke-width="0.6" />
<text x="146.4" y="535.41" font-size="9.3" text-anchor="start" fill="#222">10</text>
<line x1="144.6" y1="551.43" x2="146.1" y2="551.43" stroke="#333" stroke-width="0.6" />
<text x="146.4" y="554.18" font-size="9.3" text-anchor="start" fill="#222">5</text>
<line x1="144.6" y1="570.2" x2="146.1" y2="570.2" stroke="#333" stroke-width="0.6" />
<text x="146.4" y="572.95" font-size="9.3" text-anchor="start" fill="#222">0</text>
<line x1="144.6" y1="588.97" x2="146.1" y2="588.97" stroke="#333" stroke-width="0.6" />
<text x="146.4" y="591.72" font-size="9.3" text-anchor="start" fill="#222">-5</text>
<line x1="144.6" y1="607.74" x2="146.1" y2="607.74" stroke="#333" stroke-width="0.6" />
<text x="146.4" y="610.49" font-size="9.3" text-anchor="start" fill="#222">-10</text>
<line x1="43.3" y1="423.2" x2="45.3" y2="423.2" stroke="#333" stroke-width="0.6" />
<line x1="43.3" y1="508" x2="45.3" y2="508" stroke="#333" stroke-width="0.6" />
<text x="42.3" y="426.8" font-size="10.2" text-anchor="end" fill="#222">1</text>
<text x="42.3" y="511.6" font-size="10.2" text-anchor="end" fill="#222">25</text>
<text x="36.6" y="464.1" font-size="10.25" text-anchor="middle" fill="#222" transform="rotate(-90 36.6 464.1)">Trials (R)</text>
<line x1="43.3" y1="526.2" x2="45.3" y2="526.2" stroke="#333" stroke-width="0.6" />
<line x1="43.3" y1="611.2" x2="45.3" y2="611.2" stroke="#333" stroke-width="0.6" />
<text x="42.3" y="529.8" font-size="10.2" text-anchor="end" fill="#222">1</text>
<text x="42.3" y="614.8" font-size="10.2" text-anchor="end" fill="#222">15</text>
<text x="36.6" y="567.2" font-size="10.25" text-anchor="middle" fill="#222" transform="rotate(-90 36.6 567.2)">Trials (NR)</text>
<line x1="45.3" y1="613" x2="133.3" y2="613" stroke="#333" stroke-width="0.0001" />
<line x1="45.3" y1="613" x2="45.3" y2="613" stroke="#333" stroke-width="0.0001" />
<text x="45.3" y="624.4" font-size="10.3" text-anchor="middle" fill="#222">-1</text>
<line x1="74.5" y1="613" x2="74.5" y2="613" stroke="#333" stroke-width="0.0001" />
<text x="74.5" y="624.4" font-size="10.3" text-anchor="middle" fill="#222">0</text>
<line x1="103.9" y1="613" x2="103.9" y2="613" stroke="#333" stroke-width="0.0001" />
<text x="103.9" y="624.4" font-size="10.3" text-anchor="middle" fill="#222">1</text>
<line x1="132.8" y1="613" x2="132.8" y2="613" stroke="#333" stroke-width="0.0001" />
<text x="132.8" y="624.4" font-size="10.3" text-anchor="middle" fill="#222">2</text>
<line x1="45.3" y1="613" x2="45.3" y2="615" stroke="#333" stroke-width="0.6" />
<line x1="74.5" y1="613" x2="74.5" y2="615" stroke="#333" stroke-width="0.6" />
<line x1="103.9" y1="613" x2="103.9" y2="615" stroke="#333" stroke-width="0.6" />
<line x1="132.8" y1="613" x2="132.8" y2="615" stroke="#333" stroke-width="0.6" />
<text x="90" y="638" font-size="11.0" text-anchor="middle" fill="#222">Time (s)</text>
<text x="155.6" y="292" font-size="17.5" text-anchor="start" fill="#111" font-weight="bold">g</text>
<rect x="211.2" y="306.2" width="28.7" height="85.8" fill="#f0f0f0" stroke="none" stroke-width="1" />
<path d="M182.5,341.4 L183.59,342.31 L184.68,343.21 L185.77,344.12 L186.85,344.95 L187.94,345.33 L189.03,345.7 L190.12,346.07 L191.21,345.33 L192.3,344.49 L193.39,343.66 L194.47,342.83 L195.56,342.57 L196.65,342.69 L197.74,342.8 L198.83,342.92 L199.92,342.81 L201.01,342.14 L202.09,341.48 L203.18,340.82 L204.27,340.14 L205.36,339.28 L206.45,338.41 L207.54,337.54 L208.63,336.67 L209.72,335.81 L210.8,335.87 L211.89,333.64 L212.98,334.2 L214.07,334.77 L215.16,336.88 L216.25,341.12 L217.34,345.35 L218.42,349.6 L219.51,353.95 L220.6,358.31 L221.69,362.66 L222.78,366.37 L223.87,370.01 L224.96,373.65 L226.04,376.16 L227.13,378.15 L228.22,378.49 L229.31,377.59 L230.4,375.43 L231.49,371.79 L232.58,368.15 L233.66,364.75 L234.75,362.06 L235.84,359.37 L236.93,354.69 L238.02,352 L239.11,350.79 L240.2,349.7 L241.28,348.62 L242.37,347.53 L243.46,346.11 L244.55,344.49 L245.64,342.87 L246.73,341.25 L247.82,339.62 L248.91,337.96 L249.99,336.31 L251.08,334.65 L252.17,333.06 L253.26,332.51 L254.35,331.95 L255.44,331.4 L256.53,330.84 L257.61,331.12 L258.7,331.67 L259.79,332.23 L260.88,332.78 L261.97,333.44 L263.06,334.23 L264.15,335.03 L265.23,335.82 L266.32,336.61 L267.41,337.41 L268.5,338.2 L268.5,352.2 L267.41,351.41 L266.32,350.61 L265.23,349.82 L264.15,349.03 L263.06,348.23 L261.97,347.44 L260.88,346.78 L259.79,346.23 L258.7,345.67 L257.61,345.12 L256.53,344.84 L255.44,345.4 L254.35,345.95 L253.26,346.51 L252.17,347.06 L251.08,348.65 L249.99,350.31 L248.91,351.96 L247.82,353.62 L246.73,355.25 L245.64,356.87 L244.55,358.49 L243.46,360.11 L242.37,361.53 L241.28,362.62 L240.2,363.7 L239.11,364.79 L238.02,366 L236.93,368.69 L235.84,369.37 L234.75,372.06 L233.66,374.75 L232.58,378.15 L231.49,381.79 L230.4,385.43 L229.31,387.59 L228.22,388.49 L227.13,388.15 L226.04,386.16 L224.96,383.65 L223.87,380.01 L222.78,376.37 L221.69,372.66 L220.6,368.31 L219.51,363.95 L218.42,359.6 L217.34,355.35 L216.25,351.12 L215.16,346.88 L214.07,344.77 L212.98,344.2 L211.89,343.64 L210.8,340.27 L209.72,340.21 L208.63,341.07 L207.54,341.94 L206.45,342.81 L205.36,343.68 L204.27,344.54 L203.18,345.22 L202.09,345.88 L201.01,346.54 L199.92,347.21 L198.83,347.32 L197.74,347.2 L196.65,347.09 L195.56,346.97 L194.47,347.23 L193.39,348.06 L192.3,348.89 L191.21,349.73 L190.12,350.47 L189.03,350.1 L187.94,349.73 L186.85,349.35 L185.77,348.52 L184.68,347.61 L183.59,346.71 L182.5,345.8Z" fill="#a642b0" fill-opacity="0.16" stroke="none"/>
<path d="M182.5,344.9 L183.59,344.77 L184.68,344.64 L185.77,344.51 L186.85,344.3 L187.94,343.62 L189.03,342.94 L190.12,342.26 L191.21,341.57 L192.3,340.89 L193.39,340.41 L194.47,340.01 L195.56,339.6 L196.65,339.2 L197.74,339 L198.83,339 L199.92,339 L201.01,339 L202.09,339.22 L203.18,340.47 L204.27,341.71 L205.36,342.96 L206.45,343.21 L207.54,343.43 L208.63,343.65 L209.72,342.35 L210.8,340.55 L211.89,335.44 L212.98,333.87 L214.07,332.5 L215.16,331.14 L216.25,329.77 L217.34,328.47 L218.42,327.4 L219.51,326.34 L220.6,325.27 L221.69,324.21 L222.78,322.84 L223.87,321.45 L224.96,320.05 L226.04,318.66 L227.13,317.77 L228.22,317.12 L229.31,316.47 L230.4,315.83 L231.49,315.18 L232.58,314.64 L233.66,314.39 L234.75,314.14 L235.84,313.89 L236.93,313.64 L238.02,313.39 L239.11,313.14 L240.2,313.94 L241.28,314.97 L242.37,316 L243.46,316.82 L244.55,317.52 L245.64,318.21 L246.73,318.91 L247.82,319.24 L248.91,318.7 L249.99,318.15 L251.08,317.61 L252.17,317.05 L253.26,316.34 L254.35,315.62 L255.44,314.9 L256.53,314.18 L257.61,314.05 L258.7,314.11 L259.79,314.18 L260.88,314.24 L261.97,314.31 L263.06,314.37 L264.15,314.44 L265.23,314.5 L266.32,314.57 L267.41,314.63 L268.5,314.7 L268.5,325.7 L267.41,325.63 L266.32,325.57 L265.23,325.5 L264.15,325.44 L263.06,325.37 L261.97,325.31 L260.88,325.24 L259.79,325.18 L258.7,325.11 L257.61,325.05 L256.53,325.18 L255.44,325.9 L254.35,326.62 L253.26,327.34 L252.17,328.05 L251.08,328.61 L249.99,329.15 L248.91,329.7 L247.82,330.24 L246.73,329.91 L245.64,329.21 L244.55,328.52 L243.46,327.82 L242.37,327 L241.28,325.97 L240.2,324.94 L239.11,324.14 L238.02,324.39 L236.93,324.64 L235.84,324.89 L234.75,325.14 L233.66,325.39 L232.58,325.64 L231.49,326.18 L230.4,326.83 L229.31,327.47 L228.22,328.12 L227.13,328.77 L226.04,329.66 L224.96,331.05 L223.87,332.45 L222.78,333.84 L221.69,335.21 L220.6,336.27 L219.51,337.34 L218.42,338.4 L217.34,339.47 L216.25,340.77 L215.16,342.14 L214.07,343.5 L212.98,344.87 L211.89,346.44 L210.8,344.95 L209.72,346.75 L208.63,348.05 L207.54,347.83 L206.45,347.61 L205.36,347.36 L204.27,346.11 L203.18,344.87 L202.09,343.62 L201.01,343.4 L199.92,343.4 L198.83,343.4 L197.74,343.4 L196.65,343.6 L195.56,344 L194.47,344.41 L193.39,344.81 L192.3,345.29 L191.21,345.97 L190.12,346.66 L189.03,347.34 L187.94,348.02 L186.85,348.7 L185.77,348.91 L184.68,349.04 L183.59,349.17 L182.5,349.3Z" fill="#3fae3f" fill-opacity="0.16" stroke="none"/>
<line x1="211.2" y1="306.2" x2="211.2" y2="392" stroke="#666" stroke-width="0.8" stroke-dasharray="1 0.8" />
<path d="M182.5,343.6 C183.2,344.18 185.42,346.32 186.7,347.1 C187.98,347.88 188.83,348.7 190.2,348.3 C191.57,347.9 193.33,345.22 194.9,344.7 C196.47,344.18 198.05,345.58 199.6,345.2 C201.15,344.82 202.45,343.65 204.2,342.4 C205.95,341.15 208.35,338.08 210.1,337.7 C211.85,337.32 213.33,337.37 214.7,340.1 C216.07,342.83 217.12,349.43 218.3,354.1 C219.48,358.77 220.63,363.82 221.8,368.1 C222.97,372.38 224.33,377.15 225.3,379.8 C226.27,382.45 226.83,383.62 227.6,384 C228.37,384.38 228.93,384.37 229.9,382.1 C230.87,379.83 232.03,374.28 233.4,370.4 C234.77,366.52 236.53,361.52 238.1,358.8 C239.67,356.08 241.23,356.05 242.8,354.1 C244.37,352.15 245.95,349.43 247.5,347.1 C249.05,344.77 250.55,341.67 252.1,340.1 C253.65,338.53 255.23,337.7 256.8,337.7 C258.37,337.7 259.55,338.85 261.5,340.1 C263.45,341.35 267.33,344.35 268.5,345.2" stroke="#a642b0" stroke-width="0.9" fill="none" />
<path d="M182.5,347.1 C183.2,347.02 185.02,347.3 186.7,346.6 C188.38,345.9 190.85,343.8 192.6,342.9 C194.35,342 195.65,341.48 197.2,341.2 C198.75,340.92 200.53,340.53 201.9,341.2 C203.27,341.87 204.23,344.42 205.4,345.2 C206.57,345.98 207.73,346.75 208.9,345.9 C210.07,345.05 211.03,342.05 212.4,340.1 C213.77,338.15 215.53,335.95 217.1,334.2 C218.67,332.45 220.25,331.35 221.8,329.6 C223.35,327.85 224.65,325.27 226.4,323.7 C228.15,322.13 230.15,321.05 232.3,320.2 C234.45,319.35 237.55,318.32 239.3,318.6 C241.05,318.88 241.43,320.85 242.8,321.9 C244.17,322.95 245.95,324.78 247.5,324.9 C249.05,325.02 250.55,323.5 252.1,322.6 C253.65,321.7 254.07,319.9 256.8,319.5 C259.53,319.1 266.55,320.08 268.5,320.2" stroke="#3fae3f" stroke-width="0.9" fill="none" />
<line x1="182.5" y1="306.2" x2="182.5" y2="392" stroke="#333" stroke-width="0.8" />
<line x1="180" y1="306.22" x2="182.5" y2="306.22" stroke="#333" stroke-width="0.8" />
<text x="178.8" y="309.83" font-size="10.3" text-anchor="end" fill="#222">1.4</text>
<line x1="180" y1="344.3" x2="182.5" y2="344.3" stroke="#333" stroke-width="0.8" />
<text x="178.8" y="347.91" font-size="10.3" text-anchor="end" fill="#222">0.0</text>
<line x1="180" y1="382.38" x2="182.5" y2="382.38" stroke="#333" stroke-width="0.8" />
<text x="178.8" y="385.99" font-size="10.3" text-anchor="end" fill="#222">-1.4</text>
<line x1="181" y1="325.26" x2="182.5" y2="325.26" stroke="#333" stroke-width="0.6400000000000001" />
<line x1="181" y1="363.34" x2="182.5" y2="363.34" stroke="#333" stroke-width="0.6400000000000001" />
<line x1="182.5" y1="392" x2="268.5" y2="392" stroke="#333" stroke-width="0.8" />
<line x1="182.5" y1="392" x2="182.5" y2="394.5" stroke="#333" stroke-width="0.8" />
<text x="182.5" y="406.3" font-size="10.3" text-anchor="middle" fill="#222">-1</text>
<line x1="211.2" y1="392" x2="211.2" y2="394.5" stroke="#333" stroke-width="0.8" />
<text x="211.2" y="406.3" font-size="10.3" text-anchor="middle" fill="#222">0</text>
<line x1="239.9" y1="392" x2="239.9" y2="394.5" stroke="#333" stroke-width="0.8" />
<text x="239.9" y="406.3" font-size="10.3" text-anchor="middle" fill="#222">1</text>
<line x1="268.6" y1="392" x2="268.6" y2="394.5" stroke="#333" stroke-width="0.8" />
<text x="268.6" y="406.3" font-size="10.3" text-anchor="middle" fill="#222">2</text>
<line x1="196.85" y1="392" x2="196.85" y2="393.5" stroke="#333" stroke-width="0.6400000000000001" />
<line x1="225.55" y1="392" x2="225.55" y2="393.5" stroke="#333" stroke-width="0.6400000000000001" />
<line x1="254.25" y1="392" x2="254.25" y2="393.5" stroke="#333" stroke-width="0.6400000000000001" />
<clipPath id="hmc3"><rect x="181.6" y="422.1" width="88.3" height="87.8"/></clipPath>
<g clip-path="url(#hmc3)"><g filter="url(#hblur)" shape-rendering="crispEdges"><rect x="178.6" y="419.1" width="6.19" height="11.23" fill="#bd4b7b"/><rect x="184.54" y="419.1" width="3.19" height="11.23" fill="#b14482"/><rect x="187.49" y="419.1" width="3.19" height="11.23" fill="#af4383"/><rect x="190.43" y="419.1" width="3.19" height="11.23" fill="#a53d86"/><rect x="193.37" y="419.1" width="3.19" height="11.23" fill="#ac4184"/><rect x="196.32" y="419.1" width="3.19" height="11.23" fill="#b9497e"/><rect x="199.26" y="419.1" width="3.19" height="11.23" fill="#c65077"/><rect x="202.2" y="419.1" width="3.19" height="11.23" fill="#ca5374"/><rect x="205.15" y="419.1" width="3.19" height="11.23" fill="#bf4d7a"/><rect x="208.09" y="419.1" width="3.19" height="11.23" fill="#b8487e"/><rect x="211.03" y="419.1" width="3.19" height="11.23" fill="#ca5374"/><rect x="213.98" y="419.1" width="3.19" height="11.23" fill="#d05870"/><rect x="216.92" y="419.1" width="3.19" height="11.23" fill="#b04383"/><rect x="219.86" y="419.1" width="3.19" height="11.23" fill="#a73e86"/><rect x="222.81" y="419.1" width="3.19" height="11.23" fill="#a43d86"/><rect x="225.75" y="419.1" width="3.19" height="11.23" fill="#b14482"/><rect x="228.69" y="419.1" width="3.19" height="11.23" fill="#b5477f"/><rect x="231.64" y="419.1" width="3.19" height="11.23" fill="#aa4085"/><rect x="234.58" y="419.1" width="3.19" height="11.23" fill="#a94086"/><rect x="237.52" y="419.1" width="3.19" height="11.23" fill="#aa4085"/><rect x="240.47" y="419.1" width="3.19" height="11.23" fill="#b04383"/><rect x="243.41" y="419.1" width="3.19" height="11.23" fill="#a94086"/><rect x="246.35" y="419.1" width="3.19" height="11.23" fill="#b8487e"/><rect x="249.3" y="419.1" width="3.19" height="11.23" fill="#ad4284"/><rect x="252.24" y="419.1" width="3.19" height="11.23" fill="#9a3888"/><rect x="255.18" y="419.1" width="3.19" height="11.23" fill="#a53d86"/><rect x="258.13" y="419.1" width="3.19" height="11.23" fill="#ac4284"/><rect x="261.07" y="419.1" width="3.19" height="11.23" fill="#a23c87"/><rect x="264.01" y="419.1" width="3.19" height="11.23" fill="#a43d87"/><rect x="266.96" y="419.1" width="6.19" height="11.23" fill="#b8487e"/><rect x="178.6" y="430.08" width="6.19" height="8.23" fill="#b14482"/><rect x="184.54" y="430.08" width="3.19" height="8.23" fill="#a94086"/><rect x="187.49" y="430.08" width="3.19" height="8.23" fill="#a63d86"/><rect x="190.43" y="430.08" width="3.19" height="8.23" fill="#ac4185"/><rect x="193.37" y="430.08" width="3.19" height="8.23" fill="#ae4284"/><rect x="196.32" y="430.08" width="3.19" height="8.23" fill="#ac4185"/><rect x="199.26" y="430.08" width="3.19" height="8.23" fill="#af4383"/><rect x="202.2" y="430.08" width="3.19" height="8.23" fill="#b14482"/><rect x="205.15" y="430.08" width="3.19" height="8.23" fill="#a94085"/><rect x="208.09" y="430.08" width="3.19" height="8.23" fill="#a63d86"/><rect x="211.03" y="430.08" width="3.19" height="8.23" fill="#a53d86"/><rect x="213.98" y="430.08" width="3.19" height="8.23" fill="#9d3988"/><rect x="216.92" y="430.08" width="3.19" height="8.23" fill="#7f298a"/><rect x="219.86" y="430.08" width="3.19" height="8.23" fill="#7b2789"/><rect x="222.81" y="430.08" width="3.19" height="8.23" fill="#792689"/><rect x="225.75" y="430.08" width="3.19" height="8.23" fill="#782689"/><rect x="228.69" y="430.08" width="3.19" height="8.23" fill="#782689"/><rect x="231.64" y="430.08" width="3.19" height="8.23" fill="#7c2789"/><rect x="234.58" y="430.08" width="3.19" height="8.23" fill="#7e298a"/><rect x="237.52" y="430.08" width="3.19" height="8.23" fill="#7e298a"/><rect x="240.47" y="430.08" width="3.19" height="8.23" fill="#9f3b88"/><rect x="243.41" y="430.08" width="3.19" height="8.23" fill="#ae4284"/><rect x="246.35" y="430.08" width="3.19" height="8.23" fill="#b14482"/><rect x="249.3" y="430.08" width="3.19" height="8.23" fill="#b14482"/><rect x="252.24" y="430.08" width="3.19" height="8.23" fill="#ac4284"/><rect x="255.18" y="430.08" width="3.19" height="8.23" fill="#a63e86"/><rect x="258.13" y="430.08" width="3.19" height="8.23" fill="#ac4185"/><rect x="261.07" y="430.08" width="3.19" height="8.23" fill="#aa4085"/><rect x="264.01" y="430.08" width="3.19" height="8.23" fill="#a23c87"/><rect x="266.96" y="430.08" width="6.19" height="8.23" fill="#a73e86"/><rect x="178.6" y="438.06" width="6.19" height="8.23" fill="#c24f78"/><rect x="184.54" y="438.06" width="3.19" height="8.23" fill="#c85276"/><rect x="187.49" y="438.06" width="3.19" height="8.23" fill="#c14e79"/><rect x="190.43" y="438.06" width="3.19" height="8.23" fill="#c14e79"/><rect x="193.37" y="438.06" width="3.19" height="8.23" fill="#c14e79"/><rect x="196.32" y="438.06" width="3.19" height="8.23" fill="#bc4a7c"/><rect x="199.26" y="438.06" width="3.19" height="8.23" fill="#c34f78"/><rect x="202.2" y="438.06" width="3.19" height="8.23" fill="#ce5672"/><rect x="205.15" y="438.06" width="3.19" height="8.23" fill="#d35b6d"/><rect x="208.09" y="438.06" width="3.19" height="8.23" fill="#fbcd41"/><rect x="211.03" y="438.06" width="3.19" height="8.23" fill="#dd6662"/><rect x="213.98" y="438.06" width="3.19" height="8.23" fill="#d45c6c"/><rect x="216.92" y="438.06" width="3.19" height="8.23" fill="#ae4284"/><rect x="219.86" y="438.06" width="3.19" height="8.23" fill="#b9497e"/><rect x="222.81" y="438.06" width="3.19" height="8.23" fill="#cb5374"/><rect x="225.75" y="438.06" width="3.19" height="8.23" fill="#bf4d7a"/><rect x="228.69" y="438.06" width="3.19" height="8.23" fill="#a43d87"/><rect x="231.64" y="438.06" width="3.19" height="8.23" fill="#ac4185"/><rect x="234.58" y="438.06" width="3.19" height="8.23" fill="#b44680"/><rect x="237.52" y="438.06" width="3.19" height="8.23" fill="#a23c87"/><rect x="240.47" y="438.06" width="3.19" height="8.23" fill="#bc4a7c"/><rect x="243.41" y="438.06" width="3.19" height="8.23" fill="#c44f78"/><rect x="246.35" y="438.06" width="3.19" height="8.23" fill="#bd4b7b"/><rect x="249.3" y="438.06" width="3.19" height="8.23" fill="#ca5374"/><rect x="252.24" y="438.06" width="3.19" height="8.23" fill="#cd5573"/><rect x="255.18" y="438.06" width="3.19" height="8.23" fill="#b24481"/><rect x="258.13" y="438.06" width="3.19" height="8.23" fill="#9a3888"/><rect x="261.07" y="438.06" width="3.19" height="8.23" fill="#822a8a"/><rect x="264.01" y="438.06" width="3.19" height="8.23" fill="#4f1976"/><rect x="266.96" y="438.06" width="6.19" height="8.23" fill="#601986"/><rect x="178.6" y="446.05" width="6.19" height="8.23" fill="#dc6662"/><rect x="184.54" y="446.05" width="3.19" height="8.23" fill="#b34681"/><rect x="187.49" y="446.05" width="3.19" height="8.23" fill="#b24481"/><rect x="190.43" y="446.05" width="3.19" height="8.23" fill="#d15a6e"/><rect x="193.37" y="446.05" width="3.19" height="8.23" fill="#dc6563"/><rect x="196.32" y="446.05" width="3.19" height="8.23" fill="#ce5672"/><rect x="199.26" y="446.05" width="3.19" height="8.23" fill="#bd4b7b"/><rect x="202.2" y="446.05" width="3.19" height="8.23" fill="#c14e79"/><rect x="205.15" y="446.05" width="3.19" height="8.23" fill="#c24f78"/><rect x="208.09" y="446.05" width="3.19" height="8.23" fill="#ba497d"/><rect x="211.03" y="446.05" width="3.19" height="8.23" fill="#b04382"/><rect x="213.98" y="446.05" width="3.19" height="8.23" fill="#a73e86"/><rect x="216.92" y="446.05" width="3.19" height="8.23" fill="#762488"/><rect x="219.86" y="446.05" width="3.19" height="8.23" fill="#732388"/><rect x="222.81" y="446.05" width="3.19" height="8.23" fill="#6d2088"/><rect x="225.75" y="446.05" width="3.19" height="8.23" fill="#681c87"/><rect x="228.69" y="446.05" width="3.19" height="8.23" fill="#8a2f8b"/><rect x="231.64" y="446.05" width="3.19" height="8.23" fill="#ac4185"/><rect x="234.58" y="446.05" width="3.19" height="8.23" fill="#a33c87"/><rect x="237.52" y="446.05" width="3.19" height="8.23" fill="#9a3888"/><rect x="240.47" y="446.05" width="3.19" height="8.23" fill="#ce5672"/><rect x="243.41" y="446.05" width="3.19" height="8.23" fill="#dd6761"/><rect x="246.35" y="446.05" width="3.19" height="8.23" fill="#de6860"/><rect x="249.3" y="446.05" width="3.19" height="8.23" fill="#ce5672"/><rect x="252.24" y="446.05" width="3.19" height="8.23" fill="#b14482"/><rect x="255.18" y="446.05" width="3.19" height="8.23" fill="#b44681"/><rect x="258.13" y="446.05" width="3.19" height="8.23" fill="#d96266"/><rect x="261.07" y="446.05" width="3.19" height="8.23" fill="#e36d5b"/><rect x="264.01" y="446.05" width="3.19" height="8.23" fill="#c44f78"/><rect x="266.96" y="446.05" width="6.19" height="8.23" fill="#ae4284"/><rect x="178.6" y="454.03" width="6.19" height="8.23" fill="#c95275"/><rect x="184.54" y="454.03" width="3.19" height="8.23" fill="#b9497e"/><rect x="187.49" y="454.03" width="3.19" height="8.23" fill="#b5477f"/><rect x="190.43" y="454.03" width="3.19" height="8.23" fill="#bd4b7b"/><rect x="193.37" y="454.03" width="3.19" height="8.23" fill="#ca5375"/><rect x="196.32" y="454.03" width="3.19" height="8.23" fill="#d15a6e"/><rect x="199.26" y="454.03" width="3.19" height="8.23" fill="#d05870"/><rect x="202.2" y="454.03" width="3.19" height="8.23" fill="#cc5573"/><rect x="205.15" y="454.03" width="3.19" height="8.23" fill="#c55078"/><rect x="208.09" y="454.03" width="3.19" height="8.23" fill="#b54680"/><rect x="211.03" y="454.03" width="3.19" height="8.23" fill="#913389"/><rect x="213.98" y="454.03" width="3.19" height="8.23" fill="#842c8a"/><rect x="216.92" y="454.03" width="3.19" height="8.23" fill="#5b1980"/><rect x="219.86" y="454.03" width="3.19" height="8.23" fill="#5d1983"/><rect x="222.81" y="454.03" width="3.19" height="8.23" fill="#611986"/><rect x="225.75" y="454.03" width="3.19" height="8.23" fill="#681c87"/><rect x="228.69" y="454.03" width="3.19" height="8.23" fill="#6c1e88"/><rect x="231.64" y="454.03" width="3.19" height="8.23" fill="#9f3988"/><rect x="234.58" y="454.03" width="3.19" height="8.23" fill="#b04383"/><rect x="237.52" y="454.03" width="3.19" height="8.23" fill="#a84086"/><rect x="240.47" y="454.03" width="3.19" height="8.23" fill="#b24481"/><rect x="243.41" y="454.03" width="3.19" height="8.23" fill="#af4383"/><rect x="246.35" y="454.03" width="3.19" height="8.23" fill="#ad4284"/><rect x="249.3" y="454.03" width="3.19" height="8.23" fill="#aa4085"/><rect x="252.24" y="454.03" width="3.19" height="8.23" fill="#b14482"/><rect x="255.18" y="454.03" width="3.19" height="8.23" fill="#b34681"/><rect x="258.13" y="454.03" width="3.19" height="8.23" fill="#9f3b87"/><rect x="261.07" y="454.03" width="3.19" height="8.23" fill="#681c87"/><rect x="264.01" y="454.03" width="3.19" height="8.23" fill="#601986"/><rect x="266.96" y="454.03" width="6.19" height="8.23" fill="#681c87"/><rect x="178.6" y="462.01" width="6.19" height="8.23" fill="#ce5672"/><rect x="184.54" y="462.01" width="3.19" height="8.23" fill="#d55d6b"/><rect x="187.49" y="462.01" width="3.19" height="8.23" fill="#ce5573"/><rect x="190.43" y="462.01" width="3.19" height="8.23" fill="#b8487e"/><rect x="193.37" y="462.01" width="3.19" height="8.23" fill="#c24e79"/><rect x="196.32" y="462.01" width="3.19" height="8.23" fill="#db6365"/><rect x="199.26" y="462.01" width="3.19" height="8.23" fill="#e26b5d"/><rect x="202.2" y="462.01" width="3.19" height="8.23" fill="#e87355"/><rect x="205.15" y="462.01" width="3.19" height="8.23" fill="#e26b5d"/><rect x="208.09" y="462.01" width="3.19" height="8.23" fill="#c85276"/><rect x="211.03" y="462.01" width="3.19" height="8.23" fill="#c55078"/><rect x="213.98" y="462.01" width="3.19" height="8.23" fill="#ce5771"/><rect x="216.92" y="462.01" width="3.19" height="8.23" fill="#b7487f"/><rect x="219.86" y="462.01" width="3.19" height="8.23" fill="#b54780"/><rect x="222.81" y="462.01" width="3.19" height="8.23" fill="#b04383"/><rect x="225.75" y="462.01" width="3.19" height="8.23" fill="#a03b87"/><rect x="228.69" y="462.01" width="3.19" height="8.23" fill="#913389"/><rect x="231.64" y="462.01" width="3.19" height="8.23" fill="#933489"/><rect x="234.58" y="462.01" width="3.19" height="8.23" fill="#9c3888"/><rect x="237.52" y="462.01" width="3.19" height="8.23" fill="#a03b87"/><rect x="240.47" y="462.01" width="3.19" height="8.23" fill="#c95275"/><rect x="243.41" y="462.01" width="3.19" height="8.23" fill="#de6761"/><rect x="246.35" y="462.01" width="3.19" height="8.23" fill="#ef8443"/><rect x="249.3" y="462.01" width="3.19" height="8.23" fill="#ed8147"/><rect x="252.24" y="462.01" width="3.19" height="8.23" fill="#ed7f49"/><rect x="255.18" y="462.01" width="3.19" height="8.23" fill="#eb7b4b"/><rect x="258.13" y="462.01" width="3.19" height="8.23" fill="#d45c6c"/><rect x="261.07" y="462.01" width="3.19" height="8.23" fill="#c24e78"/><rect x="264.01" y="462.01" width="3.19" height="8.23" fill="#bd4b7b"/><rect x="266.96" y="462.01" width="6.19" height="8.23" fill="#c65177"/><rect x="178.6" y="469.99" width="6.19" height="8.23" fill="#c65177"/><rect x="184.54" y="469.99" width="3.19" height="8.23" fill="#c14e79"/><rect x="187.49" y="469.99" width="3.19" height="8.23" fill="#ba497d"/><rect x="190.43" y="469.99" width="3.19" height="8.23" fill="#c04d7a"/><rect x="193.37" y="469.99" width="3.19" height="8.23" fill="#b8487e"/><rect x="196.32" y="469.99" width="3.19" height="8.23" fill="#b14482"/><rect x="199.26" y="469.99" width="3.19" height="8.23" fill="#b6477f"/><rect x="202.2" y="469.99" width="3.19" height="8.23" fill="#ba4a7c"/><rect x="205.15" y="469.99" width="3.19" height="8.23" fill="#be4b7b"/><rect x="208.09" y="469.99" width="3.19" height="8.23" fill="#b44680"/><rect x="211.03" y="469.99" width="3.19" height="8.23" fill="#a33c87"/><rect x="213.98" y="469.99" width="3.19" height="8.23" fill="#a33c87"/><rect x="216.92" y="469.99" width="3.19" height="8.23" fill="#822a8a"/><rect x="219.86" y="469.99" width="3.19" height="8.23" fill="#742388"/><rect x="222.81" y="469.99" width="3.19" height="8.23" fill="#2d1b58"/><rect x="225.75" y="469.99" width="3.19" height="8.23" fill="#2d1b58"/><rect x="228.69" y="469.99" width="3.19" height="8.23" fill="#301b5a"/><rect x="231.64" y="469.99" width="3.19" height="8.23" fill="#752388"/><rect x="234.58" y="469.99" width="3.19" height="8.23" fill="#7a2689"/><rect x="237.52" y="469.99" width="3.19" height="8.23" fill="#973588"/><rect x="240.47" y="469.99" width="3.19" height="8.23" fill="#bb4a7c"/><rect x="243.41" y="469.99" width="3.19" height="8.23" fill="#b34681"/><rect x="246.35" y="469.99" width="3.19" height="8.23" fill="#c34f78"/><rect x="249.3" y="469.99" width="3.19" height="8.23" fill="#d45c6c"/><rect x="252.24" y="469.99" width="3.19" height="8.23" fill="#d1596f"/><rect x="255.18" y="469.99" width="3.19" height="8.23" fill="#cf5771"/><rect x="258.13" y="469.99" width="3.19" height="8.23" fill="#d1596f"/><rect x="261.07" y="469.99" width="3.19" height="8.23" fill="#ce5573"/><rect x="264.01" y="469.99" width="3.19" height="8.23" fill="#c75176"/><rect x="266.96" y="469.99" width="6.19" height="8.23" fill="#c24e78"/><rect x="178.6" y="477.97" width="6.19" height="8.23" fill="#c95275"/><rect x="184.54" y="477.97" width="3.19" height="8.23" fill="#be4d7a"/><rect x="187.49" y="477.97" width="3.19" height="8.23" fill="#c34f78"/><rect x="190.43" y="477.97" width="3.19" height="8.23" fill="#b9497e"/><rect x="193.37" y="477.97" width="3.19" height="8.23" fill="#b14482"/><rect x="196.32" y="477.97" width="3.19" height="8.23" fill="#cb5374"/><rect x="199.26" y="477.97" width="3.19" height="8.23" fill="#de6860"/><rect x="202.2" y="477.97" width="3.19" height="8.23" fill="#d55e6a"/><rect x="205.15" y="477.97" width="3.19" height="8.23" fill="#c65177"/><rect x="208.09" y="477.97" width="3.19" height="8.23" fill="#c55078"/><rect x="211.03" y="477.97" width="3.19" height="8.23" fill="#c04d7a"/><rect x="213.98" y="477.97" width="3.19" height="8.23" fill="#be4b7b"/><rect x="216.92" y="477.97" width="3.19" height="8.23" fill="#963588"/><rect x="219.86" y="477.97" width="3.19" height="8.23" fill="#832a8a"/><rect x="222.81" y="477.97" width="3.19" height="8.23" fill="#862c8b"/><rect x="225.75" y="477.97" width="3.19" height="8.23" fill="#792689"/><rect x="228.69" y="477.97" width="3.19" height="8.23" fill="#752488"/><rect x="231.64" y="477.97" width="3.19" height="8.23" fill="#712188"/><rect x="234.58" y="477.97" width="3.19" height="8.23" fill="#702188"/><rect x="237.52" y="477.97" width="3.19" height="8.23" fill="#792689"/><rect x="240.47" y="477.97" width="3.19" height="8.23" fill="#b8487e"/><rect x="243.41" y="477.97" width="3.19" height="8.23" fill="#d35c6c"/><rect x="246.35" y="477.97" width="3.19" height="8.23" fill="#d35c6c"/><rect x="249.3" y="477.97" width="3.19" height="8.23" fill="#cf5771"/><rect x="252.24" y="477.97" width="3.19" height="8.23" fill="#b9487e"/><rect x="255.18" y="477.97" width="3.19" height="8.23" fill="#a63d86"/><rect x="258.13" y="477.97" width="3.19" height="8.23" fill="#ba497d"/><rect x="261.07" y="477.97" width="3.19" height="8.23" fill="#c65177"/><rect x="264.01" y="477.97" width="3.19" height="8.23" fill="#c24e79"/><rect x="266.96" y="477.97" width="6.19" height="8.23" fill="#c65077"/><rect x="178.6" y="485.95" width="6.19" height="8.23" fill="#c85276"/><rect x="184.54" y="485.95" width="3.19" height="8.23" fill="#af4383"/><rect x="187.49" y="485.95" width="3.19" height="8.23" fill="#a53d86"/><rect x="190.43" y="485.95" width="3.19" height="8.23" fill="#b34681"/><rect x="193.37" y="485.95" width="3.19" height="8.23" fill="#bb4a7c"/><rect x="196.32" y="485.95" width="3.19" height="8.23" fill="#c24f78"/><rect x="199.26" y="485.95" width="3.19" height="8.23" fill="#d75f69"/><rect x="202.2" y="485.95" width="3.19" height="8.23" fill="#de6860"/><rect x="205.15" y="485.95" width="3.19" height="8.23" fill="#dc6662"/><rect x="208.09" y="485.95" width="3.19" height="8.23" fill="#ec7d4a"/><rect x="211.03" y="485.95" width="3.19" height="8.23" fill="#e36d5b"/><rect x="213.98" y="485.95" width="3.19" height="8.23" fill="#db6563"/><rect x="216.92" y="485.95" width="3.19" height="8.23" fill="#ba497d"/><rect x="219.86" y="485.95" width="3.19" height="8.23" fill="#af4383"/><rect x="222.81" y="485.95" width="3.19" height="8.23" fill="#b54780"/><rect x="225.75" y="485.95" width="3.19" height="8.23" fill="#b04383"/><rect x="228.69" y="485.95" width="3.19" height="8.23" fill="#7c2789"/><rect x="231.64" y="485.95" width="3.19" height="8.23" fill="#732388"/><rect x="234.58" y="485.95" width="3.19" height="8.23" fill="#782689"/><rect x="237.52" y="485.95" width="3.19" height="8.23" fill="#7e2989"/><rect x="240.47" y="485.95" width="3.19" height="8.23" fill="#ad4284"/><rect x="243.41" y="485.95" width="3.19" height="8.23" fill="#be4b7b"/><rect x="246.35" y="485.95" width="3.19" height="8.23" fill="#cb5374"/><rect x="249.3" y="485.95" width="3.19" height="8.23" fill="#bf4d7a"/><rect x="252.24" y="485.95" width="3.19" height="8.23" fill="#c04d79"/><rect x="255.18" y="485.95" width="3.19" height="8.23" fill="#c65177"/><rect x="258.13" y="485.95" width="3.19" height="8.23" fill="#d55e6a"/><rect x="261.07" y="485.95" width="3.19" height="8.23" fill="#f28a3c"/><rect x="264.01" y="485.95" width="3.19" height="8.23" fill="#f08840"/><rect x="266.96" y="485.95" width="6.19" height="8.23" fill="#eb7b4d"/><rect x="178.6" y="493.94" width="6.19" height="8.23" fill="#cc5374"/><rect x="184.54" y="493.94" width="3.19" height="8.23" fill="#b24481"/><rect x="187.49" y="493.94" width="3.19" height="8.23" fill="#9e3988"/><rect x="190.43" y="493.94" width="3.19" height="8.23" fill="#ac4185"/><rect x="193.37" y="493.94" width="3.19" height="8.23" fill="#c65077"/><rect x="196.32" y="493.94" width="3.19" height="8.23" fill="#ce5672"/><rect x="199.26" y="493.94" width="3.19" height="8.23" fill="#c95275"/><rect x="202.2" y="493.94" width="3.19" height="8.23" fill="#c75176"/><rect x="205.15" y="493.94" width="3.19" height="8.23" fill="#b8487e"/><rect x="208.09" y="493.94" width="3.19" height="8.23" fill="#993788"/><rect x="211.03" y="493.94" width="3.19" height="8.23" fill="#56197c"/><rect x="213.98" y="493.94" width="3.19" height="8.23" fill="#481b6f"/><rect x="216.92" y="493.94" width="3.19" height="8.23" fill="#2c1b56"/><rect x="219.86" y="493.94" width="3.19" height="8.23" fill="#080517"/><rect x="222.81" y="493.94" width="3.19" height="8.23" fill="#00000d"/><rect x="225.75" y="493.94" width="3.19" height="8.23" fill="#050511"/><rect x="228.69" y="493.94" width="3.19" height="8.23" fill="#0d081e"/><rect x="231.64" y="493.94" width="3.19" height="8.23" fill="#0a081c"/><rect x="234.58" y="493.94" width="3.19" height="8.23" fill="#080515"/><rect x="237.52" y="493.94" width="3.19" height="8.23" fill="#080515"/><rect x="240.47" y="493.94" width="3.19" height="8.23" fill="#271950"/><rect x="243.41" y="493.94" width="3.19" height="8.23" fill="#3e1b66"/><rect x="246.35" y="493.94" width="3.19" height="8.23" fill="#491970"/><rect x="249.3" y="493.94" width="3.19" height="8.23" fill="#441b6c"/><rect x="252.24" y="493.94" width="3.19" height="8.23" fill="#461b6d"/><rect x="255.18" y="493.94" width="3.19" height="8.23" fill="#4f1976"/><rect x="258.13" y="493.94" width="3.19" height="8.23" fill="#471b6e"/><rect x="261.07" y="493.94" width="3.19" height="8.23" fill="#3b1b62"/><rect x="264.01" y="493.94" width="3.19" height="8.23" fill="#411b69"/><rect x="266.96" y="493.94" width="6.19" height="8.23" fill="#461b6e"/><rect x="178.6" y="501.92" width="6.19" height="11.23" fill="#bd4b7b"/><rect x="184.54" y="501.92" width="3.19" height="11.23" fill="#b5477f"/><rect x="187.49" y="501.92" width="3.19" height="11.23" fill="#d65f69"/><rect x="190.43" y="501.92" width="3.19" height="11.23" fill="#e77257"/><rect x="193.37" y="501.92" width="3.19" height="11.23" fill="#cc5573"/><rect x="196.32" y="501.92" width="3.19" height="11.23" fill="#bb4a7c"/><rect x="199.26" y="501.92" width="3.19" height="11.23" fill="#c24e79"/><rect x="202.2" y="501.92" width="3.19" height="11.23" fill="#b5477f"/><rect x="205.15" y="501.92" width="3.19" height="11.23" fill="#a03b87"/><rect x="208.09" y="501.92" width="3.19" height="11.23" fill="#a73e86"/><rect x="211.03" y="501.92" width="3.19" height="11.23" fill="#c04d79"/><rect x="213.98" y="501.92" width="3.19" height="11.23" fill="#d05870"/><rect x="216.92" y="501.92" width="3.19" height="11.23" fill="#d25b6d"/><rect x="219.86" y="501.92" width="3.19" height="11.23" fill="#c55078"/><rect x="222.81" y="501.92" width="3.19" height="11.23" fill="#d25b6d"/><rect x="225.75" y="501.92" width="3.19" height="11.23" fill="#e16b5d"/><rect x="228.69" y="501.92" width="3.19" height="11.23" fill="#c65077"/><rect x="231.64" y="501.92" width="3.19" height="11.23" fill="#af4383"/><rect x="234.58" y="501.92" width="3.19" height="11.23" fill="#bb4a7c"/><rect x="237.52" y="501.92" width="3.19" height="11.23" fill="#c75176"/><rect x="240.47" y="501.92" width="3.19" height="11.23" fill="#ce5672"/><rect x="243.41" y="501.92" width="3.19" height="11.23" fill="#cb5374"/><rect x="246.35" y="501.92" width="3.19" height="11.23" fill="#d05870"/><rect x="249.3" y="501.92" width="3.19" height="11.23" fill="#eb794f"/><rect x="252.24" y="501.92" width="3.19" height="11.23" fill="#f08840"/><rect x="255.18" y="501.92" width="3.19" height="11.23" fill="#eb794e"/><rect x="258.13" y="501.92" width="3.19" height="11.23" fill="#de6761"/><rect x="261.07" y="501.92" width="3.19" height="11.23" fill="#df695f"/><rect x="264.01" y="501.92" width="3.19" height="11.23" fill="#e56f59"/><rect x="266.96" y="501.92" width="6.19" height="11.23" fill="#d86167"/></g></g>
<rect x="181.6" y="422.1" width="88.3" height="87.8" fill="none" stroke="#555" stroke-width="0.6" />
<clipPath id="hmc4"><rect x="181.6" y="525.2" width="88.3" height="88.3"/></clipPath>
<g clip-path="url(#hmc4)"><g filter="url(#hblur)" shape-rendering="crispEdges"><rect x="178.6" y="522.2" width="6.19" height="11.28" fill="#a73e86"/><rect x="184.54" y="522.2" width="3.19" height="11.28" fill="#a73e86"/><rect x="187.49" y="522.2" width="3.19" height="11.28" fill="#b8487e"/><rect x="190.43" y="522.2" width="3.19" height="11.28" fill="#ce5672"/><rect x="193.37" y="522.2" width="3.19" height="11.28" fill="#d45c6c"/><rect x="196.32" y="522.2" width="3.19" height="11.28" fill="#c85176"/><rect x="199.26" y="522.2" width="3.19" height="11.28" fill="#b54780"/><rect x="202.2" y="522.2" width="3.19" height="11.28" fill="#b8487e"/><rect x="205.15" y="522.2" width="3.19" height="11.28" fill="#ca5275"/><rect x="208.09" y="522.2" width="3.19" height="11.28" fill="#c24e78"/><rect x="211.03" y="522.2" width="3.19" height="11.28" fill="#913389"/><rect x="213.98" y="522.2" width="3.19" height="11.28" fill="#832c8a"/><rect x="216.92" y="522.2" width="3.19" height="11.28" fill="#882d8b"/><rect x="219.86" y="522.2" width="3.19" height="11.28" fill="#953588"/><rect x="222.81" y="522.2" width="3.19" height="11.28" fill="#8e318a"/><rect x="225.75" y="522.2" width="3.19" height="11.28" fill="#993788"/><rect x="228.69" y="522.2" width="3.19" height="11.28" fill="#a63e86"/><rect x="231.64" y="522.2" width="3.19" height="11.28" fill="#ac4185"/><rect x="234.58" y="522.2" width="3.19" height="11.28" fill="#ad4284"/><rect x="237.52" y="522.2" width="3.19" height="11.28" fill="#b14482"/><rect x="240.47" y="522.2" width="3.19" height="11.28" fill="#b8487e"/><rect x="243.41" y="522.2" width="3.19" height="11.28" fill="#c45078"/><rect x="246.35" y="522.2" width="3.19" height="11.28" fill="#c14e79"/><rect x="249.3" y="522.2" width="3.19" height="11.28" fill="#bc4a7c"/><rect x="252.24" y="522.2" width="3.19" height="11.28" fill="#ca5275"/><rect x="255.18" y="522.2" width="3.19" height="11.28" fill="#c55078"/><rect x="258.13" y="522.2" width="3.19" height="11.28" fill="#af4283"/><rect x="261.07" y="522.2" width="3.19" height="11.28" fill="#ac4185"/><rect x="264.01" y="522.2" width="3.19" height="11.28" fill="#b14482"/><rect x="266.96" y="522.2" width="6.19" height="11.28" fill="#b7487e"/><rect x="178.6" y="533.23" width="6.19" height="8.28" fill="#a63e86"/><rect x="184.54" y="533.23" width="3.19" height="8.28" fill="#b9497e"/><rect x="187.49" y="533.23" width="3.19" height="8.28" fill="#bf4d7a"/><rect x="190.43" y="533.23" width="3.19" height="8.28" fill="#b6477f"/><rect x="193.37" y="533.23" width="3.19" height="8.28" fill="#ae4284"/><rect x="196.32" y="533.23" width="3.19" height="8.28" fill="#ad4284"/><rect x="199.26" y="533.23" width="3.19" height="8.28" fill="#a63d86"/><rect x="202.2" y="533.23" width="3.19" height="8.28" fill="#a83e86"/><rect x="205.15" y="533.23" width="3.19" height="8.28" fill="#b44681"/><rect x="208.09" y="533.23" width="3.19" height="8.28" fill="#bc4a7c"/><rect x="211.03" y="533.23" width="3.19" height="8.28" fill="#cf5771"/><rect x="213.98" y="533.23" width="3.19" height="8.28" fill="#c65177"/><rect x="216.92" y="533.23" width="3.19" height="8.28" fill="#ac4185"/><rect x="219.86" y="533.23" width="3.19" height="8.28" fill="#b04383"/><rect x="222.81" y="533.23" width="3.19" height="8.28" fill="#b54680"/><rect x="225.75" y="533.23" width="3.19" height="8.28" fill="#bb4a7c"/><rect x="228.69" y="533.23" width="3.19" height="8.28" fill="#b54780"/><rect x="231.64" y="533.23" width="3.19" height="8.28" fill="#a43d87"/><rect x="234.58" y="533.23" width="3.19" height="8.28" fill="#af4283"/><rect x="237.52" y="533.23" width="3.19" height="8.28" fill="#c34f78"/><rect x="240.47" y="533.23" width="3.19" height="8.28" fill="#c65077"/><rect x="243.41" y="533.23" width="3.19" height="8.28" fill="#be4b7b"/><rect x="246.35" y="533.23" width="3.19" height="8.28" fill="#bc4a7c"/><rect x="249.3" y="533.23" width="3.19" height="8.28" fill="#b54780"/><rect x="252.24" y="533.23" width="3.19" height="8.28" fill="#be4b7b"/><rect x="255.18" y="533.23" width="3.19" height="8.28" fill="#de6860"/><rect x="258.13" y="533.23" width="3.19" height="8.28" fill="#f8a129"/><rect x="261.07" y="533.23" width="3.19" height="8.28" fill="#faa924"/><rect x="264.01" y="533.23" width="3.19" height="8.28" fill="#f28a3c"/><rect x="266.96" y="533.23" width="6.19" height="8.28" fill="#e36d5b"/><rect x="178.6" y="541.25" width="6.19" height="8.28" fill="#d75f69"/><rect x="184.54" y="541.25" width="3.19" height="8.28" fill="#cf5771"/><rect x="187.49" y="541.25" width="3.19" height="8.28" fill="#bf4d7a"/><rect x="190.43" y="541.25" width="3.19" height="8.28" fill="#c65177"/><rect x="193.37" y="541.25" width="3.19" height="8.28" fill="#d1596f"/><rect x="196.32" y="541.25" width="3.19" height="8.28" fill="#c75176"/><rect x="199.26" y="541.25" width="3.19" height="8.28" fill="#c24e78"/><rect x="202.2" y="541.25" width="3.19" height="8.28" fill="#c75176"/><rect x="205.15" y="541.25" width="3.19" height="8.28" fill="#ce5672"/><rect x="208.09" y="541.25" width="3.19" height="8.28" fill="#d35b6d"/><rect x="211.03" y="541.25" width="3.19" height="8.28" fill="#e67157"/><rect x="213.98" y="541.25" width="3.19" height="8.28" fill="#e87455"/><rect x="216.92" y="541.25" width="3.19" height="8.28" fill="#e67157"/><rect x="219.86" y="541.25" width="3.19" height="8.28" fill="#e67058"/><rect x="222.81" y="541.25" width="3.19" height="8.28" fill="#e67157"/><rect x="225.75" y="541.25" width="3.19" height="8.28" fill="#e16b5d"/><rect x="228.69" y="541.25" width="3.19" height="8.28" fill="#dd6662"/><rect x="231.64" y="541.25" width="3.19" height="8.28" fill="#e26b5d"/><rect x="234.58" y="541.25" width="3.19" height="8.28" fill="#e87355"/><rect x="237.52" y="541.25" width="3.19" height="8.28" fill="#e67058"/><rect x="240.47" y="541.25" width="3.19" height="8.28" fill="#e06a5e"/><rect x="243.41" y="541.25" width="3.19" height="8.28" fill="#e26b5d"/><rect x="246.35" y="541.25" width="3.19" height="8.28" fill="#e56e5a"/><rect x="249.3" y="541.25" width="3.19" height="8.28" fill="#e16b5d"/><rect x="252.24" y="541.25" width="3.19" height="8.28" fill="#e16b5d"/><rect x="255.18" y="541.25" width="3.19" height="8.28" fill="#e56f59"/><rect x="258.13" y="541.25" width="3.19" height="8.28" fill="#e36d5b"/><rect x="261.07" y="541.25" width="3.19" height="8.28" fill="#e36d5b"/><rect x="264.01" y="541.25" width="3.19" height="8.28" fill="#e67058"/><rect x="266.96" y="541.25" width="6.19" height="8.28" fill="#e56e5a"/><rect x="178.6" y="549.28" width="6.19" height="8.28" fill="#ca5374"/><rect x="184.54" y="549.28" width="3.19" height="8.28" fill="#d05870"/><rect x="187.49" y="549.28" width="3.19" height="8.28" fill="#bb4a7c"/><rect x="190.43" y="549.28" width="3.19" height="8.28" fill="#9e3988"/><rect x="193.37" y="549.28" width="3.19" height="8.28" fill="#9c3888"/><rect x="196.32" y="549.28" width="3.19" height="8.28" fill="#b04383"/><rect x="199.26" y="549.28" width="3.19" height="8.28" fill="#be4b7b"/><rect x="202.2" y="549.28" width="3.19" height="8.28" fill="#c04d79"/><rect x="205.15" y="549.28" width="3.19" height="8.28" fill="#ba497d"/><rect x="208.09" y="549.28" width="3.19" height="8.28" fill="#b34681"/><rect x="211.03" y="549.28" width="3.19" height="8.28" fill="#b14382"/><rect x="213.98" y="549.28" width="3.19" height="8.28" fill="#b6487f"/><rect x="216.92" y="549.28" width="3.19" height="8.28" fill="#be4b7b"/><rect x="219.86" y="549.28" width="3.19" height="8.28" fill="#be4d7a"/><rect x="222.81" y="549.28" width="3.19" height="8.28" fill="#ce5672"/><rect x="225.75" y="549.28" width="3.19" height="8.28" fill="#dc6662"/><rect x="228.69" y="549.28" width="3.19" height="8.28" fill="#cb5374"/><rect x="231.64" y="549.28" width="3.19" height="8.28" fill="#bb4a7c"/><rect x="234.58" y="549.28" width="3.19" height="8.28" fill="#d1596f"/><rect x="237.52" y="549.28" width="3.19" height="8.28" fill="#cd5573"/><rect x="240.47" y="549.28" width="3.19" height="8.28" fill="#be4b7b"/><rect x="243.41" y="549.28" width="3.19" height="8.28" fill="#c85276"/><rect x="246.35" y="549.28" width="3.19" height="8.28" fill="#c45078"/><rect x="249.3" y="549.28" width="3.19" height="8.28" fill="#b54780"/><rect x="252.24" y="549.28" width="3.19" height="8.28" fill="#ad4284"/><rect x="255.18" y="549.28" width="3.19" height="8.28" fill="#b04383"/><rect x="258.13" y="549.28" width="3.19" height="8.28" fill="#c34f78"/><rect x="261.07" y="549.28" width="3.19" height="8.28" fill="#ce5771"/><rect x="264.01" y="549.28" width="3.19" height="8.28" fill="#c85176"/><rect x="266.96" y="549.28" width="6.19" height="8.28" fill="#c95275"/><rect x="178.6" y="557.31" width="6.19" height="8.28" fill="#dd6662"/><rect x="184.54" y="557.31" width="3.19" height="8.28" fill="#c04d79"/><rect x="187.49" y="557.31" width="3.19" height="8.28" fill="#bb4a7c"/><rect x="190.43" y="557.31" width="3.19" height="8.28" fill="#b8487e"/><rect x="193.37" y="557.31" width="3.19" height="8.28" fill="#a94086"/><rect x="196.32" y="557.31" width="3.19" height="8.28" fill="#ac4185"/><rect x="199.26" y="557.31" width="3.19" height="8.28" fill="#be4b7b"/><rect x="202.2" y="557.31" width="3.19" height="8.28" fill="#c45078"/><rect x="205.15" y="557.31" width="3.19" height="8.28" fill="#be4b7b"/><rect x="208.09" y="557.31" width="3.19" height="8.28" fill="#c45078"/><rect x="211.03" y="557.31" width="3.19" height="8.28" fill="#ce5771"/><rect x="213.98" y="557.31" width="3.19" height="8.28" fill="#d1596f"/><rect x="216.92" y="557.31" width="3.19" height="8.28" fill="#d25a6e"/><rect x="219.86" y="557.31" width="3.19" height="8.28" fill="#d1596f"/><rect x="222.81" y="557.31" width="3.19" height="8.28" fill="#d65f69"/><rect x="225.75" y="557.31" width="3.19" height="8.28" fill="#de6860"/><rect x="228.69" y="557.31" width="3.19" height="8.28" fill="#d65e6a"/><rect x="231.64" y="557.31" width="3.19" height="8.28" fill="#cd5573"/><rect x="234.58" y="557.31" width="3.19" height="8.28" fill="#c65177"/><rect x="237.52" y="557.31" width="3.19" height="8.28" fill="#b8487e"/><rect x="240.47" y="557.31" width="3.19" height="8.28" fill="#bc4a7c"/><rect x="243.41" y="557.31" width="3.19" height="8.28" fill="#cf5771"/><rect x="246.35" y="557.31" width="3.19" height="8.28" fill="#d86167"/><rect x="249.3" y="557.31" width="3.19" height="8.28" fill="#d96167"/><rect x="252.24" y="557.31" width="3.19" height="8.28" fill="#c24f78"/><rect x="255.18" y="557.31" width="3.19" height="8.28" fill="#bb4a7c"/><rect x="258.13" y="557.31" width="3.19" height="8.28" fill="#d86068"/><rect x="261.07" y="557.31" width="3.19" height="8.28" fill="#d55e6a"/><rect x="264.01" y="557.31" width="3.19" height="8.28" fill="#c55078"/><rect x="266.96" y="557.31" width="6.19" height="8.28" fill="#d55e6a"/><rect x="178.6" y="565.34" width="6.19" height="8.28" fill="#b5477f"/><rect x="184.54" y="565.34" width="3.19" height="8.28" fill="#a53d86"/><rect x="187.49" y="565.34" width="3.19" height="8.28" fill="#ac4185"/><rect x="190.43" y="565.34" width="3.19" height="8.28" fill="#c34f78"/><rect x="193.37" y="565.34" width="3.19" height="8.28" fill="#cf5771"/><rect x="196.32" y="565.34" width="3.19" height="8.28" fill="#c04e79"/><rect x="199.26" y="565.34" width="3.19" height="8.28" fill="#ae4284"/><rect x="202.2" y="565.34" width="3.19" height="8.28" fill="#9f3988"/><rect x="205.15" y="565.34" width="3.19" height="8.28" fill="#782689"/><rect x="208.09" y="565.34" width="3.19" height="8.28" fill="#782689"/><rect x="211.03" y="565.34" width="3.19" height="8.28" fill="#812a8a"/><rect x="213.98" y="565.34" width="3.19" height="8.28" fill="#b54780"/><rect x="216.92" y="565.34" width="3.19" height="8.28" fill="#c24e78"/><rect x="219.86" y="565.34" width="3.19" height="8.28" fill="#b14482"/><rect x="222.81" y="565.34" width="3.19" height="8.28" fill="#ac4185"/><rect x="225.75" y="565.34" width="3.19" height="8.28" fill="#b6477f"/><rect x="228.69" y="565.34" width="3.19" height="8.28" fill="#b44680"/><rect x="231.64" y="565.34" width="3.19" height="8.28" fill="#a73e86"/><rect x="234.58" y="565.34" width="3.19" height="8.28" fill="#b34681"/><rect x="237.52" y="565.34" width="3.19" height="8.28" fill="#d55e6a"/><rect x="240.47" y="565.34" width="3.19" height="8.28" fill="#d45c6c"/><rect x="243.41" y="565.34" width="3.19" height="8.28" fill="#c14e79"/><rect x="246.35" y="565.34" width="3.19" height="8.28" fill="#d1596f"/><rect x="249.3" y="565.34" width="3.19" height="8.28" fill="#ca5374"/><rect x="252.24" y="565.34" width="3.19" height="8.28" fill="#a53d86"/><rect x="255.18" y="565.34" width="3.19" height="8.28" fill="#a63e86"/><rect x="258.13" y="565.34" width="3.19" height="8.28" fill="#b14482"/><rect x="261.07" y="565.34" width="3.19" height="8.28" fill="#9f3b88"/><rect x="264.01" y="565.34" width="3.19" height="8.28" fill="#661c87"/><rect x="266.96" y="565.34" width="6.19" height="8.28" fill="#611986"/><rect x="178.6" y="573.36" width="6.19" height="8.28" fill="#ce5672"/><rect x="184.54" y="573.36" width="3.19" height="8.28" fill="#e46e5a"/><rect x="187.49" y="573.36" width="3.19" height="8.28" fill="#e36d5b"/><rect x="190.43" y="573.36" width="3.19" height="8.28" fill="#c34f78"/><rect x="193.37" y="573.36" width="3.19" height="8.28" fill="#c45078"/><rect x="196.32" y="573.36" width="3.19" height="8.28" fill="#d86068"/><rect x="199.26" y="573.36" width="3.19" height="8.28" fill="#c34f78"/><rect x="202.2" y="573.36" width="3.19" height="8.28" fill="#b34681"/><rect x="205.15" y="573.36" width="3.19" height="8.28" fill="#c24e78"/><rect x="208.09" y="573.36" width="3.19" height="8.28" fill="#d05870"/><rect x="211.03" y="573.36" width="3.19" height="8.28" fill="#d86167"/><rect x="213.98" y="573.36" width="3.19" height="8.28" fill="#d86068"/><rect x="216.92" y="573.36" width="3.19" height="8.28" fill="#e56f59"/><rect x="219.86" y="573.36" width="3.19" height="8.28" fill="#e87355"/><rect x="222.81" y="573.36" width="3.19" height="8.28" fill="#eb7b4d"/><rect x="225.75" y="573.36" width="3.19" height="8.28" fill="#ed7e49"/><rect x="228.69" y="573.36" width="3.19" height="8.28" fill="#e87455"/><rect x="231.64" y="573.36" width="3.19" height="8.28" fill="#df695f"/><rect x="234.58" y="573.36" width="3.19" height="8.28" fill="#e36d5b"/><rect x="237.52" y="573.36" width="3.19" height="8.28" fill="#e97652"/><rect x="240.47" y="573.36" width="3.19" height="8.28" fill="#e46d5b"/><rect x="243.41" y="573.36" width="3.19" height="8.28" fill="#dc6563"/><rect x="246.35" y="573.36" width="3.19" height="8.28" fill="#e06a5e"/><rect x="249.3" y="573.36" width="3.19" height="8.28" fill="#e87455"/><rect x="252.24" y="573.36" width="3.19" height="8.28" fill="#e97751"/><rect x="255.18" y="573.36" width="3.19" height="8.28" fill="#e77157"/><rect x="258.13" y="573.36" width="3.19" height="8.28" fill="#e87652"/><rect x="261.07" y="573.36" width="3.19" height="8.28" fill="#e97751"/><rect x="264.01" y="573.36" width="3.19" height="8.28" fill="#e57058"/><rect x="266.96" y="573.36" width="6.19" height="8.28" fill="#e56f59"/><rect x="178.6" y="581.39" width="6.19" height="8.28" fill="#ba497d"/><rect x="184.54" y="581.39" width="3.19" height="8.28" fill="#b7487f"/><rect x="187.49" y="581.39" width="3.19" height="8.28" fill="#b14382"/><rect x="190.43" y="581.39" width="3.19" height="8.28" fill="#ad4284"/><rect x="193.37" y="581.39" width="3.19" height="8.28" fill="#ac4184"/><rect x="196.32" y="581.39" width="3.19" height="8.28" fill="#a73e86"/><rect x="199.26" y="581.39" width="3.19" height="8.28" fill="#a13c87"/><rect x="202.2" y="581.39" width="3.19" height="8.28" fill="#a03b87"/><rect x="205.15" y="581.39" width="3.19" height="8.28" fill="#a23c87"/><rect x="208.09" y="581.39" width="3.19" height="8.28" fill="#ad4284"/><rect x="211.03" y="581.39" width="3.19" height="8.28" fill="#b54780"/><rect x="213.98" y="581.39" width="3.19" height="8.28" fill="#b04383"/><rect x="216.92" y="581.39" width="3.19" height="8.28" fill="#b04382"/><rect x="219.86" y="581.39" width="3.19" height="8.28" fill="#b14382"/><rect x="222.81" y="581.39" width="3.19" height="8.28" fill="#ac4185"/><rect x="225.75" y="581.39" width="3.19" height="8.28" fill="#a53d86"/><rect x="228.69" y="581.39" width="3.19" height="8.28" fill="#9c3888"/><rect x="231.64" y="581.39" width="3.19" height="8.28" fill="#a13c87"/><rect x="234.58" y="581.39" width="3.19" height="8.28" fill="#a33c87"/><rect x="237.52" y="581.39" width="3.19" height="8.28" fill="#953588"/><rect x="240.47" y="581.39" width="3.19" height="8.28" fill="#993788"/><rect x="243.41" y="581.39" width="3.19" height="8.28" fill="#a73e86"/><rect x="246.35" y="581.39" width="3.19" height="8.28" fill="#a33d87"/><rect x="249.3" y="581.39" width="3.19" height="8.28" fill="#9c3988"/><rect x="252.24" y="581.39" width="3.19" height="8.28" fill="#9e3988"/><rect x="255.18" y="581.39" width="3.19" height="8.28" fill="#a33c87"/><rect x="258.13" y="581.39" width="3.19" height="8.28" fill="#a94085"/><rect x="261.07" y="581.39" width="3.19" height="8.28" fill="#a94085"/><rect x="264.01" y="581.39" width="3.19" height="8.28" fill="#a33c87"/><rect x="266.96" y="581.39" width="6.19" height="8.28" fill="#9e3988"/><rect x="178.6" y="589.42" width="6.19" height="8.28" fill="#ca5374"/><rect x="184.54" y="589.42" width="3.19" height="8.28" fill="#d55d6b"/><rect x="187.49" y="589.42" width="3.19" height="8.28" fill="#d35b6d"/><rect x="190.43" y="589.42" width="3.19" height="8.28" fill="#cd5573"/><rect x="193.37" y="589.42" width="3.19" height="8.28" fill="#bb4a7c"/><rect x="196.32" y="589.42" width="3.19" height="8.28" fill="#a94086"/><rect x="199.26" y="589.42" width="3.19" height="8.28" fill="#b34681"/><rect x="202.2" y="589.42" width="3.19" height="8.28" fill="#c75176"/><rect x="205.15" y="589.42" width="3.19" height="8.28" fill="#c24e78"/><rect x="208.09" y="589.42" width="3.19" height="8.28" fill="#aa4085"/><rect x="211.03" y="589.42" width="3.19" height="8.28" fill="#9d3988"/><rect x="213.98" y="589.42" width="3.19" height="8.28" fill="#9b3888"/><rect x="216.92" y="589.42" width="3.19" height="8.28" fill="#7b2789"/><rect x="219.86" y="589.42" width="3.19" height="8.28" fill="#7a2689"/><rect x="222.81" y="589.42" width="3.19" height="8.28" fill="#7c2789"/><rect x="225.75" y="589.42" width="3.19" height="8.28" fill="#802a8a"/><rect x="228.69" y="589.42" width="3.19" height="8.28" fill="#852c8b"/><rect x="231.64" y="589.42" width="3.19" height="8.28" fill="#882f8b"/><rect x="234.58" y="589.42" width="3.19" height="8.28" fill="#8c308a"/><rect x="237.52" y="589.42" width="3.19" height="8.28" fill="#bd4b7b"/><rect x="240.47" y="589.42" width="3.19" height="8.28" fill="#ca5275"/><rect x="243.41" y="589.42" width="3.19" height="8.28" fill="#c24f78"/><rect x="246.35" y="589.42" width="3.19" height="8.28" fill="#c24f78"/><rect x="249.3" y="589.42" width="3.19" height="8.28" fill="#c65177"/><rect x="252.24" y="589.42" width="3.19" height="8.28" fill="#c55078"/><rect x="255.18" y="589.42" width="3.19" height="8.28" fill="#d45c6c"/><rect x="258.13" y="589.42" width="3.19" height="8.28" fill="#de6860"/><rect x="261.07" y="589.42" width="3.19" height="8.28" fill="#e67058"/><rect x="264.01" y="589.42" width="3.19" height="8.28" fill="#e46e5a"/><rect x="266.96" y="589.42" width="6.19" height="8.28" fill="#eb7c4b"/><rect x="178.6" y="597.45" width="6.19" height="8.28" fill="#c75176"/><rect x="184.54" y="597.45" width="3.19" height="8.28" fill="#c24f78"/><rect x="187.49" y="597.45" width="3.19" height="8.28" fill="#c14e79"/><rect x="190.43" y="597.45" width="3.19" height="8.28" fill="#d55d6b"/><rect x="193.37" y="597.45" width="3.19" height="8.28" fill="#d55e6a"/><rect x="196.32" y="597.45" width="3.19" height="8.28" fill="#c34f78"/><rect x="199.26" y="597.45" width="3.19" height="8.28" fill="#bd4b7b"/><rect x="202.2" y="597.45" width="3.19" height="8.28" fill="#c04d79"/><rect x="205.15" y="597.45" width="3.19" height="8.28" fill="#be4d7a"/><rect x="208.09" y="597.45" width="3.19" height="8.28" fill="#b54780"/><rect x="211.03" y="597.45" width="3.19" height="8.28" fill="#c14e79"/><rect x="213.98" y="597.45" width="3.19" height="8.28" fill="#da6266"/><rect x="216.92" y="597.45" width="3.19" height="8.28" fill="#e97652"/><rect x="219.86" y="597.45" width="3.19" height="8.28" fill="#e87356"/><rect x="222.81" y="597.45" width="3.19" height="8.28" fill="#e36d5b"/><rect x="225.75" y="597.45" width="3.19" height="8.28" fill="#de6860"/><rect x="228.69" y="597.45" width="3.19" height="8.28" fill="#e46e5a"/><rect x="231.64" y="597.45" width="3.19" height="8.28" fill="#e67157"/><rect x="234.58" y="597.45" width="3.19" height="8.28" fill="#e56f59"/><rect x="237.52" y="597.45" width="3.19" height="8.28" fill="#e56f59"/><rect x="240.47" y="597.45" width="3.19" height="8.28" fill="#e56f59"/><rect x="243.41" y="597.45" width="3.19" height="8.28" fill="#e77256"/><rect x="246.35" y="597.45" width="3.19" height="8.28" fill="#e56e5a"/><rect x="249.3" y="597.45" width="3.19" height="8.28" fill="#e06a5e"/><rect x="252.24" y="597.45" width="3.19" height="8.28" fill="#e26c5c"/><rect x="255.18" y="597.45" width="3.19" height="8.28" fill="#e87356"/><rect x="258.13" y="597.45" width="3.19" height="8.28" fill="#e87652"/><rect x="261.07" y="597.45" width="3.19" height="8.28" fill="#e36d5b"/><rect x="264.01" y="597.45" width="3.19" height="8.28" fill="#e26c5c"/><rect x="266.96" y="597.45" width="6.19" height="8.28" fill="#e97850"/><rect x="178.6" y="605.47" width="6.19" height="11.28" fill="#b44680"/><rect x="184.54" y="605.47" width="3.19" height="11.28" fill="#cb5374"/><rect x="187.49" y="605.47" width="3.19" height="11.28" fill="#c55078"/><rect x="190.43" y="605.47" width="3.19" height="11.28" fill="#b34681"/><rect x="193.37" y="605.47" width="3.19" height="11.28" fill="#b7487e"/><rect x="196.32" y="605.47" width="3.19" height="11.28" fill="#ca5374"/><rect x="199.26" y="605.47" width="3.19" height="11.28" fill="#d05870"/><rect x="202.2" y="605.47" width="3.19" height="11.28" fill="#cc5573"/><rect x="205.15" y="605.47" width="3.19" height="11.28" fill="#d96266"/><rect x="208.09" y="605.47" width="3.19" height="11.28" fill="#df695f"/><rect x="211.03" y="605.47" width="3.19" height="11.28" fill="#c65077"/><rect x="213.98" y="605.47" width="3.19" height="11.28" fill="#b44680"/><rect x="216.92" y="605.47" width="3.19" height="11.28" fill="#c45078"/><rect x="219.86" y="605.47" width="3.19" height="11.28" fill="#ec7c4b"/><rect x="222.81" y="605.47" width="3.19" height="11.28" fill="#f69331"/><rect x="225.75" y="605.47" width="3.19" height="11.28" fill="#fbcb3d"/><rect x="228.69" y="605.47" width="3.19" height="11.28" fill="#f8e266"/><rect x="231.64" y="605.47" width="3.19" height="11.28" fill="#fcfbae"/><rect x="234.58" y="605.47" width="3.19" height="11.28" fill="#fbf8a6"/><rect x="237.52" y="605.47" width="3.19" height="11.28" fill="#fcfaad"/><rect x="240.47" y="605.47" width="3.19" height="11.28" fill="#fdffba"/><rect x="243.41" y="605.47" width="3.19" height="11.28" fill="#fdffba"/><rect x="246.35" y="605.47" width="3.19" height="11.28" fill="#fdffba"/><rect x="249.3" y="605.47" width="3.19" height="11.28" fill="#fdffba"/><rect x="252.24" y="605.47" width="3.19" height="11.28" fill="#fdffba"/><rect x="255.18" y="605.47" width="3.19" height="11.28" fill="#fdffba"/><rect x="258.13" y="605.47" width="3.19" height="11.28" fill="#faeb7f"/><rect x="261.07" y="605.47" width="3.19" height="11.28" fill="#f9da58"/><rect x="264.01" y="605.47" width="3.19" height="11.28" fill="#fad44d"/><rect x="266.96" y="605.47" width="6.19" height="11.28" fill="#fad34b"/></g></g>
<rect x="181.6" y="525.2" width="88.3" height="88.3" fill="none" stroke="#555" stroke-width="0.6" />
<line x1="211.5" y1="422.1" x2="211.5" y2="509.9" stroke="#faf6f6" stroke-width="1.3" stroke-dasharray="4.2 2.6" />
<line x1="240.5" y1="422.1" x2="240.5" y2="509.9" stroke="#faf6f6" stroke-width="1.3" stroke-dasharray="4.2 2.6" />
<line x1="211.5" y1="525.2" x2="211.5" y2="613.5" stroke="#faf6f6" stroke-width="1.3" stroke-dasharray="4.2 2.6" />
<line x1="240.5" y1="525.2" x2="240.5" y2="613.5" stroke="#faf6f6" stroke-width="1.3" stroke-dasharray="4.2 2.6" />
<g shape-rendering="crispEdges"><rect x="275.6" y="422.1" width="5.2" height="1.76" fill="#fcfc9c"/><rect x="275.6" y="423.56" width="5.2" height="1.76" fill="#faf58c"/><rect x="275.6" y="425.03" width="5.2" height="1.76" fill="#faee7d"/><rect x="275.6" y="426.49" width="5.2" height="1.76" fill="#f8e86d"/><rect x="275.6" y="427.95" width="5.2" height="1.76" fill="#f8e15e"/><rect x="275.6" y="429.42" width="5.2" height="1.76" fill="#f6da4e"/><rect x="275.6" y="430.88" width="5.2" height="1.76" fill="#f6d341"/><rect x="275.6" y="432.34" width="5.2" height="1.76" fill="#f8ca37"/><rect x="275.6" y="433.81" width="5.2" height="1.76" fill="#f8c22d"/><rect x="275.6" y="435.27" width="5.2" height="1.76" fill="#faba23"/><rect x="275.6" y="436.73" width="5.2" height="1.76" fill="#fab119"/><rect x="275.6" y="438.2" width="5.2" height="1.76" fill="#fca90f"/><rect x="275.6" y="439.66" width="5.2" height="1.76" fill="#fba10b"/><rect x="275.6" y="441.12" width="5.2" height="1.76" fill="#fa9a0e"/><rect x="275.6" y="442.59" width="5.2" height="1.76" fill="#f89210"/><rect x="275.6" y="444.05" width="5.2" height="1.76" fill="#f78b13"/><rect x="275.6" y="445.51" width="5.2" height="1.76" fill="#f58315"/><rect x="275.6" y="446.98" width="5.2" height="1.76" fill="#f47c18"/><rect x="275.6" y="448.44" width="5.2" height="1.76" fill="#f1751c"/><rect x="275.6" y="449.9" width="5.2" height="1.76" fill="#ee6e21"/><rect x="275.6" y="451.37" width="5.2" height="1.76" fill="#ea6827"/><rect x="275.6" y="452.83" width="5.2" height="1.76" fill="#e6612c"/><rect x="275.6" y="454.29" width="5.2" height="1.76" fill="#e25b32"/><rect x="275.6" y="455.76" width="5.2" height="1.76" fill="#df5437"/><rect x="275.6" y="457.22" width="5.2" height="1.76" fill="#da4f3c"/><rect x="275.6" y="458.68" width="5.2" height="1.76" fill="#d54a40"/><rect x="275.6" y="460.15" width="5.2" height="1.76" fill="#cf4645"/><rect x="275.6" y="461.61" width="5.2" height="1.76" fill="#ca4249"/><rect x="275.6" y="463.07" width="5.2" height="1.76" fill="#c43e4e"/><rect x="275.6" y="464.54" width="5.2" height="1.76" fill="#bf3952"/><rect x="275.6" y="466" width="5.2" height="1.76" fill="#b93656"/><rect x="275.6" y="467.46" width="5.2" height="1.76" fill="#b23359"/><rect x="275.6" y="468.93" width="5.2" height="1.76" fill="#ab305c"/><rect x="275.6" y="470.39" width="5.2" height="1.76" fill="#a42d5f"/><rect x="275.6" y="471.85" width="5.2" height="1.76" fill="#9d2a62"/><rect x="275.6" y="473.32" width="5.2" height="1.76" fill="#962765"/><rect x="275.6" y="474.78" width="5.2" height="1.76" fill="#902568"/><rect x="275.6" y="476.24" width="5.2" height="1.76" fill="#892269"/><rect x="275.6" y="477.71" width="5.2" height="1.76" fill="#82206a"/><rect x="275.6" y="479.17" width="5.2" height="1.76" fill="#7b1d6b"/><rect x="275.6" y="480.63" width="5.2" height="1.76" fill="#741b6c"/><rect x="275.6" y="482.1" width="5.2" height="1.76" fill="#6d186d"/><rect x="275.6" y="483.56" width="5.2" height="1.76" fill="#67166e"/><rect x="275.6" y="485.02" width="5.2" height="1.76" fill="#60146c"/><rect x="275.6" y="486.49" width="5.2" height="1.76" fill="#59126c"/><rect x="275.6" y="487.95" width="5.2" height="1.76" fill="#530f6a"/><rect x="275.6" y="489.41" width="5.2" height="1.76" fill="#4c0d6a"/><rect x="275.6" y="490.88" width="5.2" height="1.76" fill="#450b68"/><rect x="275.6" y="492.34" width="5.2" height="1.76" fill="#3e0a64"/><rect x="275.6" y="493.8" width="5.2" height="1.76" fill="#370a5c"/><rect x="275.6" y="495.27" width="5.2" height="1.76" fill="#300a54"/><rect x="275.6" y="496.73" width="5.2" height="1.76" fill="#280b4d"/><rect x="275.6" y="498.19" width="5.2" height="1.76" fill="#210b45"/><rect x="275.6" y="499.66" width="5.2" height="1.76" fill="#1a0b3d"/><rect x="275.6" y="501.12" width="5.2" height="1.76" fill="#140a35"/><rect x="275.6" y="502.58" width="5.2" height="1.76" fill="#10082c"/><rect x="275.6" y="504.05" width="5.2" height="1.76" fill="#0d0623"/><rect x="275.6" y="505.51" width="5.2" height="1.76" fill="#09051a"/><rect x="275.6" y="506.97" width="5.2" height="1.76" fill="#060311"/><rect x="275.6" y="508.44" width="5.2" height="1.76" fill="#020108"/></g>
<rect x="275.6" y="422.1" width="5.2" height="87.8" fill="none" stroke="#444" stroke-width="0.5" />
<line x1="280.8" y1="425.57" x2="282.3" y2="425.57" stroke="#333" stroke-width="0.6" />
<text x="282.6" y="428.31" font-size="9.3" text-anchor="start" fill="#222">4</text>
<line x1="280.8" y1="448.67" x2="282.3" y2="448.67" stroke="#333" stroke-width="0.6" />
<text x="282.6" y="451.42" font-size="9.3" text-anchor="start" fill="#222">2</text>
<line x1="280.8" y1="471.78" x2="282.3" y2="471.78" stroke="#333" stroke-width="0.6" />
<text x="282.6" y="474.52" font-size="9.3" text-anchor="start" fill="#222">0</text>
<line x1="280.8" y1="494.88" x2="282.3" y2="494.88" stroke="#333" stroke-width="0.6" />
<text x="282.6" y="497.63" font-size="9.3" text-anchor="start" fill="#222">-2</text>
<g shape-rendering="crispEdges"><rect x="275.6" y="525.2" width="5.2" height="1.77" fill="#fcfc9c"/><rect x="275.6" y="526.67" width="5.2" height="1.77" fill="#faf58c"/><rect x="275.6" y="528.14" width="5.2" height="1.77" fill="#faee7d"/><rect x="275.6" y="529.62" width="5.2" height="1.77" fill="#f8e86d"/><rect x="275.6" y="531.09" width="5.2" height="1.77" fill="#f8e15e"/><rect x="275.6" y="532.56" width="5.2" height="1.77" fill="#f6da4e"/><rect x="275.6" y="534.03" width="5.2" height="1.77" fill="#f6d341"/><rect x="275.6" y="535.5" width="5.2" height="1.77" fill="#f8ca37"/><rect x="275.6" y="536.97" width="5.2" height="1.77" fill="#f8c22d"/><rect x="275.6" y="538.45" width="5.2" height="1.77" fill="#faba23"/><rect x="275.6" y="539.92" width="5.2" height="1.77" fill="#fab119"/><rect x="275.6" y="541.39" width="5.2" height="1.77" fill="#fca90f"/><rect x="275.6" y="542.86" width="5.2" height="1.77" fill="#fba10b"/><rect x="275.6" y="544.33" width="5.2" height="1.77" fill="#fa9a0e"/><rect x="275.6" y="545.8" width="5.2" height="1.77" fill="#f89210"/><rect x="275.6" y="547.28" width="5.2" height="1.77" fill="#f78b13"/><rect x="275.6" y="548.75" width="5.2" height="1.77" fill="#f58315"/><rect x="275.6" y="550.22" width="5.2" height="1.77" fill="#f47c18"/><rect x="275.6" y="551.69" width="5.2" height="1.77" fill="#f1751c"/><rect x="275.6" y="553.16" width="5.2" height="1.77" fill="#ee6e21"/><rect x="275.6" y="554.63" width="5.2" height="1.77" fill="#ea6827"/><rect x="275.6" y="556.11" width="5.2" height="1.77" fill="#e6612c"/><rect x="275.6" y="557.58" width="5.2" height="1.77" fill="#e25b32"/><rect x="275.6" y="559.05" width="5.2" height="1.77" fill="#df5437"/><rect x="275.6" y="560.52" width="5.2" height="1.77" fill="#da4f3c"/><rect x="275.6" y="561.99" width="5.2" height="1.77" fill="#d54a40"/><rect x="275.6" y="563.46" width="5.2" height="1.77" fill="#cf4645"/><rect x="275.6" y="564.94" width="5.2" height="1.77" fill="#ca4249"/><rect x="275.6" y="566.41" width="5.2" height="1.77" fill="#c43e4e"/><rect x="275.6" y="567.88" width="5.2" height="1.77" fill="#bf3952"/><rect x="275.6" y="569.35" width="5.2" height="1.77" fill="#b93656"/><rect x="275.6" y="570.82" width="5.2" height="1.77" fill="#b23359"/><rect x="275.6" y="572.29" width="5.2" height="1.77" fill="#ab305c"/><rect x="275.6" y="573.77" width="5.2" height="1.77" fill="#a42d5f"/><rect x="275.6" y="575.24" width="5.2" height="1.77" fill="#9d2a62"/><rect x="275.6" y="576.71" width="5.2" height="1.77" fill="#962765"/><rect x="275.6" y="578.18" width="5.2" height="1.77" fill="#902568"/><rect x="275.6" y="579.65" width="5.2" height="1.77" fill="#892269"/><rect x="275.6" y="581.12" width="5.2" height="1.77" fill="#82206a"/><rect x="275.6" y="582.6" width="5.2" height="1.77" fill="#7b1d6b"/><rect x="275.6" y="584.07" width="5.2" height="1.77" fill="#741b6c"/><rect x="275.6" y="585.54" width="5.2" height="1.77" fill="#6d186d"/><rect x="275.6" y="587.01" width="5.2" height="1.77" fill="#67166e"/><rect x="275.6" y="588.48" width="5.2" height="1.77" fill="#60146c"/><rect x="275.6" y="589.95" width="5.2" height="1.77" fill="#59126c"/><rect x="275.6" y="591.43" width="5.2" height="1.77" fill="#530f6a"/><rect x="275.6" y="592.9" width="5.2" height="1.77" fill="#4c0d6a"/><rect x="275.6" y="594.37" width="5.2" height="1.77" fill="#450b68"/><rect x="275.6" y="595.84" width="5.2" height="1.77" fill="#3e0a64"/><rect x="275.6" y="597.31" width="5.2" height="1.77" fill="#370a5c"/><rect x="275.6" y="598.78" width="5.2" height="1.77" fill="#300a54"/><rect x="275.6" y="600.26" width="5.2" height="1.77" fill="#280b4d"/><rect x="275.6" y="601.73" width="5.2" height="1.77" fill="#210b45"/><rect x="275.6" y="603.2" width="5.2" height="1.77" fill="#1a0b3d"/><rect x="275.6" y="604.67" width="5.2" height="1.77" fill="#140a35"/><rect x="275.6" y="606.14" width="5.2" height="1.77" fill="#10082c"/><rect x="275.6" y="607.61" width="5.2" height="1.77" fill="#0d0623"/><rect x="275.6" y="609.09" width="5.2" height="1.77" fill="#09051a"/><rect x="275.6" y="610.56" width="5.2" height="1.77" fill="#060311"/><rect x="275.6" y="612.03" width="5.2" height="1.77" fill="#020108"/></g>
<rect x="275.6" y="525.2" width="5.2" height="88.3" fill="none" stroke="#444" stroke-width="0.5" />
<line x1="280.8" y1="528.69" x2="282.3" y2="528.69" stroke="#333" stroke-width="0.6" />
<text x="282.6" y="531.43" font-size="9.3" text-anchor="start" fill="#222">4</text>
<line x1="280.8" y1="551.92" x2="282.3" y2="551.92" stroke="#333" stroke-width="0.6" />
<text x="282.6" y="554.67" font-size="9.3" text-anchor="start" fill="#222">2</text>
<line x1="280.8" y1="575.16" x2="282.3" y2="575.16" stroke="#333" stroke-width="0.6" />
<text x="282.6" y="577.91" font-size="9.3" text-anchor="start" fill="#222">0</text>
<line x1="280.8" y1="598.4" x2="282.3" y2="598.4" stroke="#333" stroke-width="0.6" />
<text x="282.6" y="601.14" font-size="9.3" text-anchor="start" fill="#222">-2</text>
<line x1="179.6" y1="424.9" x2="181.6" y2="424.9" stroke="#333" stroke-width="0.6" />
<line x1="179.6" y1="506.4" x2="181.6" y2="506.4" stroke="#333" stroke-width="0.6" />
<text x="179" y="428.5" font-size="10.2" text-anchor="end" fill="#222">1</text>
<text x="179" y="510" font-size="10.2" text-anchor="end" fill="#222">11</text>
<text x="175.5" y="464.5" font-size="10.0" text-anchor="middle" fill="#222" transform="rotate(-90 175.5 464.5)">Mouse</text>
<line x1="179.6" y1="528" x2="181.6" y2="528" stroke="#333" stroke-width="0.6" />
<line x1="179.6" y1="610" x2="181.6" y2="610" stroke="#333" stroke-width="0.6" />
<text x="179" y="531.6" font-size="10.2" text-anchor="end" fill="#222">1</text>
<text x="179" y="613.6" font-size="10.2" text-anchor="end" fill="#222">11</text>
<text x="175.5" y="567.85" font-size="10.0" text-anchor="middle" fill="#222" transform="rotate(-90 175.5 567.85)">Mouse</text>
<line x1="181.6" y1="613.5" x2="181.6" y2="615.5" stroke="#333" stroke-width="0.6" />
<line x1="211.5" y1="613.5" x2="211.5" y2="615.5" stroke="#333" stroke-width="0.6" />
<line x1="240.5" y1="613.5" x2="240.5" y2="615.5" stroke="#333" stroke-width="0.6" />
<line x1="269.9" y1="613.5" x2="269.9" y2="615.5" stroke="#333" stroke-width="0.6" />
<text x="181.6" y="624.6" font-size="10.3" text-anchor="middle" fill="#222">-1</text>
<text x="211.5" y="624.6" font-size="10.3" text-anchor="middle" fill="#222">0</text>
<text x="240.5" y="624.6" font-size="10.3" text-anchor="middle" fill="#222">1</text>
<text x="269.9" y="624.6" font-size="10.3" text-anchor="middle" fill="#222">2</text>
<text x="225.6" y="639.9" font-size="11.0" text-anchor="middle" fill="#222">Time (s)</text>
<text x="292.6" y="293.6" font-size="17.5" text-anchor="start" fill="#111" font-weight="bold">h</text>
<line x1="328.2" y1="308.9" x2="328.2" y2="424.2" stroke="#444" stroke-width="0.8" />
<line x1="325.7" y1="328.4" x2="328.2" y2="328.4" stroke="#444" stroke-width="0.8" />
<text x="324.5" y="331.76" font-size="9.6" text-anchor="end" fill="#222">2</text>
<line x1="325.7" y1="366.8" x2="328.2" y2="366.8" stroke="#444" stroke-width="0.8" />
<text x="324.5" y="370.16" font-size="9.6" text-anchor="end" fill="#222">0</text>
<line x1="325.7" y1="405.2" x2="328.2" y2="405.2" stroke="#444" stroke-width="0.8" />
<text x="324.5" y="408.56" font-size="9.6" text-anchor="end" fill="#222">-2</text>
<line x1="326.7" y1="309.2" x2="328.2" y2="309.2" stroke="#444" stroke-width="0.6400000000000001" />
<line x1="326.7" y1="347.6" x2="328.2" y2="347.6" stroke="#444" stroke-width="0.6400000000000001" />
<line x1="326.7" y1="386" x2="328.2" y2="386" stroke="#444" stroke-width="0.6400000000000001" />
<line x1="326.7" y1="424.4" x2="328.2" y2="424.4" stroke="#444" stroke-width="0.6400000000000001" />
<line x1="328.2" y1="424.2" x2="420" y2="424.2" stroke="#444" stroke-width="0.8" />
<line x1="359" y1="424.2" x2="359" y2="426.7" stroke="#444" stroke-width="0.8" />
<text x="359" y="440.8" font-size="10.0" text-anchor="middle" fill="#222">R</text>
<line x1="402.4" y1="424.2" x2="402.4" y2="426.7" stroke="#444" stroke-width="0.8" />
<text x="402.4" y="440.8" font-size="10.0" text-anchor="middle" fill="#222">NR</text>
<text x="306.6" y="365.7" font-size="9.9" text-anchor="middle" fill="#222" transform="rotate(-90 306.6 365.7)">ΔF/F (z-score)</text>
<line x1="359" y1="297.9" x2="403.2" y2="297.9" stroke="#444" stroke-width="1.0" />
<text x="381" y="296" font-size="10.5" text-anchor="middle" fill="#222" font-weight="bold">**</text>
<line x1="359.2" y1="370.06" x2="359.2" y2="374.1" stroke="#b04cb8" stroke-width="0.9" />
<line x1="359.2" y1="385.04" x2="359.2" y2="409.04" stroke="#b04cb8" stroke-width="0.9" />
<line x1="351.4" y1="370.06" x2="367" y2="370.06" stroke="#b04cb8" stroke-width="0.9" />
<line x1="351.4" y1="409.04" x2="367" y2="409.04" stroke="#b04cb8" stroke-width="0.9" />
<rect x="344.4" y="374.1" width="29.6" height="10.94" fill="none" stroke="#b04cb8" stroke-width="0.9" />
<line x1="344.4" y1="379.28" x2="374" y2="379.28" stroke="#b04cb8" stroke-width="0.9" />
<circle cx="359.2" cy="370.06" r="1.75" fill="white" stroke="#222" stroke-width="0.8"/>
<circle cx="359.2" cy="372.56" r="1.75" fill="white" stroke="#222" stroke-width="0.8"/>
<circle cx="359.2" cy="375.44" r="1.75" fill="white" stroke="#222" stroke-width="0.8"/>
<circle cx="359.2" cy="377.36" r="1.75" fill="white" stroke="#222" stroke-width="0.8"/>
<circle cx="359.2" cy="379.28" r="1.75" fill="white" stroke="#222" stroke-width="0.8"/>
<circle cx="359.2" cy="384.08" r="1.75" fill="white" stroke="#222" stroke-width="0.8"/>
<circle cx="359.2" cy="385.04" r="1.75" fill="white" stroke="#222" stroke-width="0.8"/>
<circle cx="359.2" cy="391.76" r="1.75" fill="white" stroke="#222" stroke-width="0.8"/>
<circle cx="359.2" cy="409.04" r="1.75" fill="white" stroke="#222" stroke-width="0.8"/>
<line x1="402.9" y1="314" x2="402.9" y2="345.68" stroke="#3aa63a" stroke-width="0.9" />
<line x1="402.9" y1="362.96" x2="402.9" y2="364.88" stroke="#3aa63a" stroke-width="0.9" />
<line x1="395.1" y1="314" x2="410.7" y2="314" stroke="#3aa63a" stroke-width="0.9" />
<line x1="395.1" y1="364.88" x2="410.7" y2="364.88" stroke="#3aa63a" stroke-width="0.9" />
<rect x="388.4" y="345.68" width="29" height="17.28" fill="none" stroke="#3aa63a" stroke-width="0.9" />
<line x1="388.4" y1="359.5" x2="417.4" y2="359.5" stroke="#3aa63a" stroke-width="0.9" />
<circle cx="402.9" cy="314" r="1.75" fill="white" stroke="#222" stroke-width="0.8"/>
<circle cx="402.9" cy="344.72" r="1.75" fill="white" stroke="#222" stroke-width="0.8"/>
<circle cx="402.9" cy="345.68" r="1.75" fill="white" stroke="#222" stroke-width="0.8"/>
<circle cx="402.9" cy="351.44" r="1.75" fill="white" stroke="#222" stroke-width="0.8"/>
<circle cx="402.9" cy="353.36" r="1.75" fill="white" stroke="#222" stroke-width="0.8"/>
<circle cx="402.9" cy="359.5" r="1.75" fill="white" stroke="#222" stroke-width="0.8"/>
<circle cx="402.9" cy="361.04" r="1.75" fill="white" stroke="#222" stroke-width="0.8"/>
<circle cx="402.9" cy="362.96" r="1.75" fill="white" stroke="#222" stroke-width="0.8"/>
<circle cx="402.9" cy="364.88" r="1.75" fill="white" stroke="#222" stroke-width="0.8"/>
<text x="447.4" y="292.4" font-size="17.5" text-anchor="start" fill="#111" font-weight="bold">i</text>
<line x1="496.2" y1="293.6" x2="505.9" y2="293.6" stroke="#237a35" stroke-width="1.6" />
<line x1="496.2" y1="308.2" x2="505.9" y2="308.2" stroke="#3dc23d" stroke-width="1.6" />
<text x="511.7" y="297" font-size="11.4" text-anchor="start" fill="#222">Lose-shift</text>
<text x="511.7" y="312.1" font-size="11.4" text-anchor="start" fill="#222">Lose-stay</text>
<path d="M476.4,392.31 L477.19,391.98 L477.99,391.65 L478.78,391.32 L479.57,390.98 L480.37,390.65 L481.16,390.54 L481.95,390.74 L482.75,390.94 L483.54,391.14 L484.33,391.34 L485.13,391.54 L485.92,391.02 L486.71,390.37 L487.51,389.73 L488.3,389.08 L489.09,388.43 L489.89,387.78 L490.68,387.13 L491.47,386.5 L492.27,385.9 L493.06,385.3 L493.85,384.7 L494.65,384.1 L495.44,383.5 L496.23,382.9 L497.03,382.3 L497.82,383.25 L498.61,384.25 L499.41,385.25 L500.2,386.25 L500.99,387.25 L501.78,388.22 L502.58,389.15 L503.37,390.09 L504.16,391.02 L504.96,391.95 L505.75,392.88 L506.54,389.81 L507.34,385.82 L508.13,370.32 L508.92,364.89 L509.72,359.18 L510.51,354.22 L511.3,351.73 L512.1,349.23 L512.89,346.73 L513.68,344.94 L514.48,343.81 L515.27,342.67 L516.06,341.54 L516.86,340.41 L517.65,339.28 L518.44,338.27 L519.24,337.27 L520.03,336.27 L520.82,335.27 L521.62,334.27 L522.41,333.28 L523.2,332.28 L524,331.33 L524.79,330.43 L525.58,329.53 L526.38,328.63 L527.17,327.73 L527.96,326.83 L528.76,325.93 L529.55,325.12 L530.34,325.62 L531.14,326.12 L531.93,326.62 L532.72,327.12 L533.52,327.62 L534.31,328.12 L535.1,328.62 L535.9,329.14 L536.69,329.67 L537.48,330.2 L538.28,330.74 L539.07,331.27 L539.86,331.8 L540.66,332.27 L541.45,332.73 L542.24,333.2 L543.04,333.66 L543.83,334.13 L544.62,333.97 L545.42,333.11 L546.21,332.24 L547,331.37 L547.79,330.51 L548.59,329.64 L549.38,328.95 L550.17,328.29 L550.97,327.62 L551.76,326.96 L552.55,326.29 L553.35,326.24 L554.14,327.54 L554.93,328.84 L555.73,330.13 L556.52,331.43 L557.31,332.73 L558.11,334.03 L558.9,335.33 L559.69,336.23 L560.49,337.08 L561.28,337.93 L562.07,338.78 L562.87,339.63 L563.66,340.48 L564.45,341.33 L565.25,341.7 L566.04,341.45 L566.83,341.2 L567.63,340.95 L568.42,340.7 L569.21,340.45 L570.01,340.2 L570.8,339.95 L570.8,367.95 L570.01,368.2 L569.21,368.45 L568.42,368.7 L567.63,368.95 L566.83,369.2 L566.04,369.45 L565.25,369.7 L564.45,369.33 L563.66,368.48 L562.87,367.63 L562.07,366.78 L561.28,365.93 L560.49,365.08 L559.69,364.23 L558.9,363.33 L558.11,362.03 L557.31,360.73 L556.52,359.43 L555.73,358.13 L554.93,356.84 L554.14,355.54 L553.35,354.24 L552.55,354.29 L551.76,354.96 L550.97,355.62 L550.17,356.29 L549.38,356.95 L548.59,357.64 L547.79,358.51 L547,359.37 L546.21,360.24 L545.42,361.11 L544.62,361.97 L543.83,362.13 L543.04,361.66 L542.24,361.2 L541.45,360.73 L540.66,360.27 L539.86,359.8 L539.07,359.27 L538.28,358.74 L537.48,358.2 L536.69,357.67 L535.9,357.14 L535.1,356.62 L534.31,356.12 L533.52,355.62 L532.72,355.12 L531.93,354.62 L531.14,354.12 L530.34,353.62 L529.55,353.12 L528.76,353.93 L527.96,354.83 L527.17,355.73 L526.38,356.63 L525.58,357.53 L524.79,358.43 L524,359.33 L523.2,360.28 L522.41,361.28 L521.62,362.27 L520.82,363.27 L520.03,364.27 L519.24,365.27 L518.44,366.27 L517.65,367.28 L516.86,368.41 L516.06,369.54 L515.27,370.67 L514.48,371.81 L513.68,372.94 L512.89,374.73 L512.1,377.23 L511.3,379.73 L510.51,382.22 L509.72,387.18 L508.92,392.89 L508.13,398.32 L507.34,390.82 L506.54,394.81 L505.75,397.88 L504.96,396.95 L504.16,396.02 L503.37,395.09 L502.58,394.15 L501.78,393.22 L500.99,392.25 L500.2,391.25 L499.41,390.25 L498.61,389.25 L497.82,388.25 L497.03,387.3 L496.23,387.9 L495.44,388.5 L494.65,389.1 L493.85,389.7 L493.06,390.3 L492.27,390.9 L491.47,391.5 L490.68,392.13 L489.89,392.78 L489.09,393.43 L488.3,394.08 L487.51,394.73 L486.71,395.37 L485.92,396.02 L485.13,396.54 L484.33,396.34 L483.54,396.14 L482.75,395.94 L481.95,395.74 L481.16,395.54 L480.37,395.65 L479.57,395.98 L478.78,396.32 L477.99,396.65 L477.19,396.98 L476.4,397.31Z" fill="#9fd49a" fill-opacity="0.35" stroke="none"/>
<path d="M476.4,395.29 L477.19,395.09 L477.99,394.89 L478.78,394.69 L479.57,394.49 L480.37,394.29 L481.16,393.69 L481.95,392.56 L482.75,391.43 L483.54,390.3 L484.33,389.17 L485.13,388.03 L485.92,387.3 L486.71,386.63 L487.51,385.96 L488.3,385.3 L489.09,384.63 L489.89,384 L490.68,383.47 L491.47,382.93 L492.27,382.4 L493.06,381.87 L493.85,381.34 L494.65,381.86 L495.44,382.86 L496.23,383.85 L497.03,384.85 L497.82,385.85 L498.61,386.84 L499.41,387.7 L500.2,388.57 L500.99,389.43 L501.78,390.3 L502.58,391.17 L503.37,391.68 L504.16,391.88 L504.96,392.08 L505.75,392.28 L506.54,391.77 L507.34,391.11 L508.13,382.94 L508.92,382.28 L509.72,381.61 L510.51,381.02 L511.3,380.69 L512.1,380.36 L512.89,380.02 L513.68,379.69 L514.48,379.36 L515.27,378.59 L516.06,377.59 L516.86,376.59 L517.65,375.59 L518.44,374.59 L519.24,373.51 L520.03,371.52 L520.82,369.52 L521.62,367.52 L522.41,365.52 L523.2,363.52 L524,362.13 L524.79,361.33 L525.58,360.53 L526.38,359.73 L527.17,358.93 L527.96,358.13 L528.76,357.79 L529.55,357.49 L530.34,357.19 L531.14,356.81 L531.93,356.11 L532.72,355.41 L533.52,354.71 L534.31,355.42 L535.1,357.61 L535.9,359.81 L536.69,362.01 L537.48,363.84 L538.28,365.55 L539.07,366.89 L539.86,366.34 L540.66,365.78 L541.45,365.23 L542.24,364.67 L543.04,364.12 L543.83,363.56 L544.62,363.1 L545.42,362.75 L546.21,362.4 L547,362.06 L547.79,361.71 L548.59,361.36 L549.38,361.01 L550.17,360.65 L550.97,359.98 L551.76,359.31 L552.55,358.65 L553.35,357.98 L554.14,357.32 L554.93,356.65 L555.73,355.98 L556.52,355.32 L557.31,354.65 L558.11,353.99 L558.9,353.32 L559.69,352.95 L560.49,352.61 L561.28,352.28 L562.07,351.95 L562.87,351.61 L563.66,351.74 L564.45,352.93 L565.25,354.13 L566.04,355.33 L566.83,356.22 L567.63,356.89 L568.42,357.56 L569.21,358.22 L570.01,358.89 L570.8,359.55 L570.8,379.55 L570.01,378.89 L569.21,378.22 L568.42,377.56 L567.63,376.89 L566.83,376.22 L566.04,375.33 L565.25,374.13 L564.45,372.93 L563.66,371.74 L562.87,371.61 L562.07,371.95 L561.28,372.28 L560.49,372.61 L559.69,372.95 L558.9,373.32 L558.11,373.99 L557.31,374.65 L556.52,375.32 L555.73,375.98 L554.93,376.65 L554.14,377.32 L553.35,377.98 L552.55,378.65 L551.76,379.31 L550.97,379.98 L550.17,380.65 L549.38,381.01 L548.59,381.36 L547.79,381.71 L547,382.06 L546.21,382.4 L545.42,382.75 L544.62,383.1 L543.83,383.56 L543.04,384.12 L542.24,384.67 L541.45,385.23 L540.66,385.78 L539.86,386.34 L539.07,386.89 L538.28,385.55 L537.48,383.84 L536.69,382.01 L535.9,379.81 L535.1,377.61 L534.31,375.42 L533.52,374.71 L532.72,375.41 L531.93,376.11 L531.14,376.81 L530.34,377.19 L529.55,377.49 L528.76,377.79 L527.96,378.13 L527.17,378.93 L526.38,379.73 L525.58,380.53 L524.79,381.33 L524,382.13 L523.2,383.52 L522.41,385.52 L521.62,387.52 L520.82,389.52 L520.03,391.52 L519.24,393.51 L518.44,394.59 L517.65,395.59 L516.86,396.59 L516.06,397.59 L515.27,398.59 L514.48,399.36 L513.68,399.69 L512.89,400.02 L512.1,400.36 L511.3,400.69 L510.51,401.02 L509.72,401.61 L508.92,402.28 L508.13,402.94 L507.34,396.11 L506.54,396.77 L505.75,397.28 L504.96,397.08 L504.16,396.88 L503.37,396.68 L502.58,396.17 L501.78,395.3 L500.99,394.43 L500.2,393.57 L499.41,392.7 L498.61,391.84 L497.82,390.85 L497.03,389.85 L496.23,388.85 L495.44,387.86 L494.65,386.86 L493.85,386.34 L493.06,386.87 L492.27,387.4 L491.47,387.93 L490.68,388.47 L489.89,389 L489.09,389.63 L488.3,390.3 L487.51,390.96 L486.71,391.63 L485.92,392.3 L485.13,393.03 L484.33,394.17 L483.54,395.3 L482.75,396.43 L481.95,397.56 L481.16,398.69 L480.37,399.29 L479.57,399.49 L478.78,399.69 L477.99,399.89 L477.19,400.09 L476.4,400.29Z" fill="#62d85a" fill-opacity="0.33" stroke="none"/>
<line x1="505.9" y1="316.8" x2="505.9" y2="410.2" stroke="#444" stroke-width="0.9" stroke-dasharray="1.2 0.8" />
<path d="M476.4,397.79 C477.14,397.6 479.35,397.91 480.82,396.67 C482.3,395.43 483.77,392.03 485.25,390.36 C486.73,388.69 488.2,387.76 489.67,386.64 C491.15,385.53 492.62,383.24 494.1,383.67 C495.57,384.1 497.05,387.51 498.52,389.24 C500,390.98 501.72,393.14 502.95,394.07 C504.18,395 504.67,395.31 505.9,394.81 C507.13,394.32 508.85,392.03 510.32,391.1 C511.8,390.17 513.27,390.48 514.75,389.24 C516.23,388 517.7,386.46 519.17,383.67 C520.65,380.88 522.12,375.13 523.6,372.53 C525.08,369.92 526.8,369 528.02,368.07 C529.25,367.14 529.99,367.57 530.98,366.95 C531.96,366.33 532.94,363.42 533.92,364.35 C534.91,365.28 536.04,370.42 536.88,372.53 C537.71,374.63 537.71,376.86 538.94,376.98 C540.17,377.11 542.38,374.32 544.25,373.27 C546.12,372.22 548.43,371.72 550.15,370.67 C551.87,369.61 553.1,368.19 554.57,366.95 C556.05,365.71 557.52,364.17 559,363.24 C560.48,362.31 562.2,360.95 563.42,361.38 C564.65,361.81 565.15,364.48 566.38,365.84 C567.6,367.2 570.06,368.93 570.8,369.55" stroke="#3dc23d" stroke-width="1.3" fill="none" />
<path d="M476.4,394.81 C477.14,394.51 479.35,393.08 480.82,392.96 C482.3,392.83 483.53,394.69 485.25,394.07 C486.97,393.45 489.18,390.79 491.15,389.24 C493.12,387.69 495.33,384.6 497.05,384.78 C498.77,384.97 500,388.56 501.47,390.36 C502.95,392.15 504.77,396.67 505.9,395.56 C507.03,394.44 507.52,388.13 508.26,383.67 C509,379.21 509.49,372.83 510.32,368.81 C511.16,364.79 512.05,362.12 513.27,359.52 C514.5,356.92 515.98,355.5 517.7,353.21 C519.42,350.92 521.63,348.13 523.6,345.78 C525.57,343.42 527.53,339.59 529.5,339.09 C531.47,338.59 533.68,341.69 535.4,342.81 C537.12,343.92 538.35,344.85 539.82,345.78 C541.3,346.71 542.77,348.75 544.25,348.38 C545.73,348.01 547.2,344.97 548.67,343.55 C550.15,342.12 551.38,338.84 553.1,339.83 C554.82,340.82 557.03,346.83 559,349.49 C560.97,352.15 562.93,355.06 564.9,355.81 C566.87,356.55 569.82,354.26 570.8,353.95" stroke="#237a35" stroke-width="1.3" fill="none" />
<line x1="476.4" y1="316.8" x2="476.4" y2="410.2" stroke="#333" stroke-width="0.8" />
<line x1="473.9" y1="316.8" x2="476.4" y2="316.8" stroke="#333" stroke-width="0.8" />
<text x="472.7" y="320.37" font-size="10.2" text-anchor="end" fill="#222">2</text>
<line x1="473.9" y1="353.95" x2="476.4" y2="353.95" stroke="#333" stroke-width="0.8" />
<text x="472.7" y="357.52" font-size="10.2" text-anchor="end" fill="#222">1</text>
<line x1="473.9" y1="391.1" x2="476.4" y2="391.1" stroke="#333" stroke-width="0.8" />
<text x="472.7" y="394.67" font-size="10.2" text-anchor="end" fill="#222">0</text>
<line x1="474.9" y1="335.38" x2="476.4" y2="335.38" stroke="#333" stroke-width="0.6400000000000001" />
<line x1="474.9" y1="372.53" x2="476.4" y2="372.53" stroke="#333" stroke-width="0.6400000000000001" />
<line x1="474.9" y1="409.68" x2="476.4" y2="409.68" stroke="#333" stroke-width="0.6400000000000001" />
<line x1="476.4" y1="410.2" x2="570.8" y2="410.2" stroke="#333" stroke-width="0.8" />
<line x1="476.4" y1="410.2" x2="476.4" y2="412.7" stroke="#333" stroke-width="0.8" />
<text x="476.4" y="425.2" font-size="10.2" text-anchor="middle" fill="#222">-1</text>
<line x1="505.9" y1="410.2" x2="505.9" y2="412.7" stroke="#333" stroke-width="0.8" />
<text x="505.9" y="425.2" font-size="10.2" text-anchor="middle" fill="#222">0</text>
<line x1="535.4" y1="410.2" x2="535.4" y2="412.7" stroke="#333" stroke-width="0.8" />
<text x="535.4" y="425.2" font-size="10.2" text-anchor="middle" fill="#222">1</text>
<line x1="564.9" y1="410.2" x2="564.9" y2="412.7" stroke="#333" stroke-width="0.8" />
<text x="564.9" y="425.2" font-size="10.2" text-anchor="middle" fill="#222">2</text>
<line x1="491.15" y1="410.2" x2="491.15" y2="411.7" stroke="#333" stroke-width="0.6400000000000001" />
<line x1="520.65" y1="410.2" x2="520.65" y2="411.7" stroke="#333" stroke-width="0.6400000000000001" />
<line x1="550.15" y1="410.2" x2="550.15" y2="411.7" stroke="#333" stroke-width="0.6400000000000001" />
<text x="459.6" y="362.6" font-size="10.0" text-anchor="middle" fill="#222" transform="rotate(-90 459.6 362.6)">ΔF/F (z-score)</text>
<text x="524.6" y="441.5" font-size="9.9" text-anchor="middle" fill="#222">Time from NR (s)</text>
<text x="628.7" y="300.3" font-size="11.3" text-anchor="middle" fill="#222">Early (first 5 trials)</text>
<text x="628.9" y="385.3" font-size="11.3" text-anchor="middle" fill="#222">Late (last 5 trials)</text>
<path d="M607.2,348.2 C607.42,347.5 608.03,345.2 608.5,344 C608.97,342.8 609.42,341.5 610,341 C610.58,340.5 611.33,340.67 612,341 C612.67,341.33 613.33,342.33 614,343 C614.67,343.67 615.33,345 616,345 C616.67,345 617.33,343.83 618,343 C618.67,342.17 619.33,340.83 620,340 C620.67,339.17 621.33,339.5 622,338 C622.67,336.5 623.33,332.5 624,331 C624.67,329.5 625.33,329.17 626,329 C626.67,328.83 627.33,330.17 628,330 C628.67,329.83 629.33,328.33 630,328 C630.67,327.67 631.33,327.5 632,328 C632.67,328.5 633.33,331.17 634,331 C634.67,330.83 635.33,328.5 636,327 C636.67,325.5 637.33,323.17 638,322 C638.67,320.83 639.35,320 640,320 C640.65,320 641.4,320.33 641.9,322 C642.4,323.67 642.57,328 643,330 C643.43,332 644,333.83 644.5,334 C645,334.17 645.42,331.67 646,331 C646.58,330.33 647.33,330.33 648,330 C648.67,329.67 649.33,329.33 650,329 C650.67,328.67 651.33,328.33 652,328 C652.67,327.67 653.33,327.67 654,327 C654.67,326.33 655.33,324.83 656,324 C656.67,323.17 657.38,321.5 658,322 C658.62,322.5 659.42,326.17 659.7,327" stroke="#3dc23d" stroke-width="1.2" fill="none" />
<path d="M607.2,340.7 C607.42,340 608.03,337.62 608.5,336.5 C608.97,335.38 609.42,334.08 610,334 C610.58,333.92 611.33,335.08 612,336 C612.67,336.92 613.33,339.17 614,339.5 C614.67,339.83 615.25,337.75 616,338 C616.75,338.25 617.83,340.17 618.5,341 C619.17,341.83 619.42,343.17 620,343 C620.58,342.83 621.42,341.17 622,340 C622.58,338.83 623,338.83 623.5,336 C624,333.17 624.42,326.67 625,323 C625.58,319.33 626.25,316 627,314 C627.75,312 628.75,310.67 629.5,311 C630.25,311.33 630.83,314.33 631.5,316 C632.17,317.67 632.83,320.67 633.5,321 C634.17,321.33 634.83,319.67 635.5,318 C636.17,316.33 636.83,312.7 637.5,311 C638.17,309.3 638.83,308.13 639.5,307.8 C640.17,307.47 640.92,307.63 641.5,309 C642.08,310.37 642.5,313.17 643,316 C643.5,318.83 644,323.67 644.5,326 C645,328.33 645.42,330.17 646,330 C646.58,329.83 647.33,326.33 648,325 C648.67,323.67 649.33,323.17 650,322 C650.67,320.83 651.33,319 652,318 C652.67,317 653.33,315.33 654,316 C654.67,316.67 655.42,319.67 656,322 C656.58,324.33 656.88,327.7 657.5,330 C658.12,332.3 659.33,334.83 659.7,335.8" stroke="#237a35" stroke-width="1.2" fill="none" />
<path d="M604.7,433.7 C605.08,433.42 606.28,432.62 607,432 C607.72,431.38 608.33,430.83 609,430 C609.67,429.17 610.33,427.83 611,427 C611.67,426.17 612.33,424.83 613,425 C613.67,425.17 614.33,427.17 615,428 C615.67,428.83 616.33,430 617,430 C617.67,430 618.33,429 619,428 C619.67,427 620.33,425.17 621,424 C621.67,422.83 622.33,422 623,421 C623.67,420 624.33,418.83 625,418 C625.67,417.17 626.33,416.67 627,416 C627.67,415.33 628.33,414.67 629,414 C629.67,413.33 630.33,412.83 631,412 C631.67,411.17 632.35,409.73 633,409 C633.65,408.27 634.23,407.6 634.9,407.6 C635.57,407.6 636.32,408.43 637,409 C637.68,409.57 638.33,410.83 639,411 C639.67,411.17 640.33,410 641,410 C641.67,410 642.33,410.5 643,411 C643.67,411.5 644.33,412.83 645,413 C645.67,413.17 646.33,412.5 647,412 C647.67,411.5 648.33,410.33 649,410 C649.67,409.67 650.33,410 651,410 C651.67,410 652.33,410.17 653,410 C653.67,409.83 654.33,409.17 655,409 C655.67,408.83 656.3,409.1 657,409 C657.7,408.9 658.83,408.5 659.2,408.4" stroke="#3dc23d" stroke-width="1.2" fill="none" />
<path d="M604.7,432.4 C605.08,432.17 606.28,431.73 607,431 C607.72,430.27 608.33,429.33 609,428 C609.67,426.67 610.33,424.5 611,423 C611.67,421.5 612.33,419 613,419 C613.67,419 614.33,422.17 615,423 C615.67,423.83 616.33,424.5 617,424 C617.67,423.5 618.33,421.67 619,420 C619.67,418.33 620.33,415.67 621,414 C621.67,412.33 622.33,411.17 623,410 C623.67,408.83 624.33,408 625,407 C625.67,406 626.33,405.17 627,404 C627.67,402.83 628.33,401.17 629,400 C629.67,398.83 630.33,398 631,397 C631.67,396 632.35,394.58 633,394 C633.65,393.42 634.23,393.33 634.9,393.5 C635.57,393.67 636.32,394.42 637,395 C637.68,395.58 638.33,396.67 639,397 C639.67,397.33 640.33,397.33 641,397 C641.67,396.67 642.33,395.17 643,395 C643.67,394.83 644.33,395.83 645,396 C645.67,396.17 646.33,396.5 647,396 C647.67,395.5 648.42,393.53 649,393 C649.58,392.47 650,392.63 650.5,392.8 C651,392.97 651.42,393.47 652,394 C652.58,394.53 653.33,395.5 654,396 C654.67,396.5 655.13,396.5 656,397 C656.87,397.5 658.67,398.67 659.2,399" stroke="#237a35" stroke-width="1.2" fill="none" />
<line x1="601.5" y1="337" x2="601.5" y2="355.6" stroke="#333" stroke-width="0.7" />
<line x1="601.5" y1="355.6" x2="618.8" y2="355.6" stroke="#333" stroke-width="0.7" />
<text x="597.2" y="346.3" font-size="8.8" text-anchor="middle" fill="#222" transform="rotate(-90 597.2 346.3)">0.5 z</text>
<text x="610.2" y="366.2" font-size="8.8" text-anchor="middle" fill="#222">1 s</text>
<line x1="599.7" y1="432.4" x2="599.7" y2="438.6" stroke="#555" stroke-width="0.7" />
<line x1="599.7" y1="438.6" x2="617" y2="438.6" stroke="#555" stroke-width="0.7" />
<text x="310" y="474.5" font-size="17.5" text-anchor="start" fill="#111" font-weight="bold">j</text>
<path d="M357.2,549.2 C359.17,548.47 364.82,546.55 369,544.8 C373.18,543.05 377.57,540.98 382.3,538.7 C387.03,536.42 391.72,534.57 397.4,531.1 C403.08,527.63 410.07,522.8 416.4,517.9 C422.73,513 427.27,507.78 435.4,501.7 C443.53,495.62 460.23,484.78 465.2,481.4 L468.6,481.4 L468.6,548.2 " fill="none"/>
<path d="M357.2,549.2 L360.92,547.81 L364.65,546.42 L368.37,545.03 L372.1,543.38 L375.82,541.67 L379.54,539.96 L383.27,538.21 L386.99,536.34 L390.72,534.46 L394.44,532.59 L398.17,530.57 L401.89,527.98 L405.61,525.39 L409.34,522.81 L413.06,520.22 L416.79,517.57 L420.51,514.4 L424.23,511.22 L427.96,508.04 L431.68,504.87 L435.41,501.7 L439.13,499.16 L442.86,496.62 L446.58,494.08 L450.3,491.55 L454.03,489.01 L457.75,486.47 L461.48,483.94 L465.2,481.4 L468.6,481.4 L468.6,548.2 L464.76,548.47 L460.92,548.73 L457.08,549 L453.23,549.26 L449.39,549.53 L445.55,549.8 L441.71,550.06 L437.87,550.33 L434.03,550.68 L430.19,551.19 L426.34,551.69 L422.5,552.2 L418.66,552.7 L414.82,553.36 L410.98,554.23 L407.14,555.1 L403.3,555.97 L399.46,556.83 L395.61,558.02 L391.77,559.57 L387.93,561.13 L384.09,562.68 L380.25,564.57 L376.41,566.77 L372.57,568.96 L368.72,571.21 L364.88,574.18 L361.04,577.14 L357.2,580.1Z" fill="#f1f1f1" stroke="none"/>
<path d="M357.2,549.2 C359.17,548.47 364.82,546.55 369,544.8 C373.18,543.05 377.57,540.98 382.3,538.7 C387.03,536.42 391.72,534.57 397.4,531.1 C403.08,527.63 410.07,522.8 416.4,517.9 C422.73,513 427.27,507.78 435.4,501.7 C443.53,495.62 460.23,484.78 465.2,481.4" stroke="#333" stroke-width="0.65" fill="none" />
<path d="M357.2,580.1 C359.17,578.58 364.82,573.78 369,571 C373.18,568.22 377.57,565.68 382.3,563.4 C387.03,561.12 391.72,559.03 397.4,557.3 C403.08,555.57 410.07,554.13 416.4,553 C422.73,551.87 426.7,551.3 435.4,550.5 C444.1,549.7 463.07,548.58 468.6,548.2" stroke="#333" stroke-width="0.65" fill="none" />
<line x1="357.2" y1="564.4" x2="468.6" y2="513.7" stroke="#ff5a3c" stroke-width="0.9" />
<circle cx="360.8" cy="549.7" r="1.7" fill="none" stroke="#3048b0" stroke-width="0.95"/>
<circle cx="367.7" cy="544.4" r="1.7" fill="none" stroke="#3048b0" stroke-width="0.95"/>
<circle cx="381.9" cy="538.4" r="1.7" fill="none" stroke="#3048b0" stroke-width="0.95"/>
<circle cx="400.5" cy="512.7" r="1.7" fill="none" stroke="#3048b0" stroke-width="0.95"/>
<circle cx="399.2" cy="549.7" r="1.7" fill="none" stroke="#3048b0" stroke-width="0.95"/>
<circle cx="386.6" cy="561.1" r="1.7" fill="none" stroke="#3048b0" stroke-width="0.95"/>
<circle cx="367.5" cy="569.1" r="1.7" fill="none" stroke="#3048b0" stroke-width="0.95"/>
<circle cx="358" cy="570.6" r="1.7" fill="none" stroke="#3048b0" stroke-width="0.95"/>
<circle cx="357" cy="576.9" r="1.7" fill="none" stroke="#3048b0" stroke-width="0.95"/>
<circle cx="367.5" cy="582.2" r="1.7" fill="none" stroke="#3048b0" stroke-width="0.95"/>
<circle cx="468.4" cy="524.1" r="1.7" fill="none" stroke="#3048b0" stroke-width="0.95"/>
<line x1="347.9" y1="481.5" x2="347.9" y2="612.4" stroke="#333" stroke-width="0.8" />
<line x1="345.4" y1="496.16" x2="347.9" y2="496.16" stroke="#333" stroke-width="0.8" />
<text x="344.2" y="499.73" font-size="10.2" text-anchor="end" fill="#222">80</text>
<line x1="345.4" y1="525.22" x2="347.9" y2="525.22" stroke="#333" stroke-width="0.8" />
<text x="344.2" y="528.79" font-size="10.2" text-anchor="end" fill="#222">60</text>
<line x1="345.4" y1="554.28" x2="347.9" y2="554.28" stroke="#333" stroke-width="0.8" />
<text x="344.2" y="557.85" font-size="10.2" text-anchor="end" fill="#222">40</text>
<line x1="345.4" y1="583.34" x2="347.9" y2="583.34" stroke="#333" stroke-width="0.8" />
<text x="344.2" y="586.91" font-size="10.2" text-anchor="end" fill="#222">20</text>
<line x1="345.4" y1="612.4" x2="347.9" y2="612.4" stroke="#333" stroke-width="0.8" />
<text x="344.2" y="615.97" font-size="10.2" text-anchor="end" fill="#222">0</text>
<line x1="346.4" y1="481.63" x2="347.9" y2="481.63" stroke="#333" stroke-width="0.6400000000000001" />
<line x1="346.4" y1="510.69" x2="347.9" y2="510.69" stroke="#333" stroke-width="0.6400000000000001" />
<line x1="346.4" y1="539.75" x2="347.9" y2="539.75" stroke="#333" stroke-width="0.6400000000000001" />
<line x1="346.4" y1="568.81" x2="347.9" y2="568.81" stroke="#333" stroke-width="0.6400000000000001" />
<line x1="346.4" y1="597.87" x2="347.9" y2="597.87" stroke="#333" stroke-width="0.6400000000000001" />
<line x1="347.9" y1="612.4" x2="480.3" y2="612.4" stroke="#333" stroke-width="0.8" />
<line x1="351.7" y1="612.4" x2="351.7" y2="614.9" stroke="#333" stroke-width="0.8" />
<text x="351.7" y="626.9" font-size="10.2" text-anchor="middle" fill="#222">0</text>
<line x1="394.1" y1="612.4" x2="394.1" y2="614.9" stroke="#333" stroke-width="0.8" />
<text x="394.1" y="626.9" font-size="10.2" text-anchor="middle" fill="#222">1</text>
<line x1="436.5" y1="612.4" x2="436.5" y2="614.9" stroke="#333" stroke-width="0.8" />
<text x="436.5" y="626.9" font-size="10.2" text-anchor="middle" fill="#222">2</text>
<line x1="478.9" y1="612.4" x2="478.9" y2="614.9" stroke="#333" stroke-width="0.8" />
<text x="478.9" y="626.9" font-size="10.2" text-anchor="middle" fill="#222">3</text>
<line x1="372.9" y1="612.4" x2="372.9" y2="613.9" stroke="#333" stroke-width="0.6400000000000001" />
<line x1="415.3" y1="612.4" x2="415.3" y2="613.9" stroke="#333" stroke-width="0.6400000000000001" />
<line x1="457.7" y1="612.4" x2="457.7" y2="613.9" stroke="#333" stroke-width="0.6400000000000001" />
<text x="328.8" y="545.3" font-size="10.7" text-anchor="middle" fill="#222" transform="rotate(-90 328.8 545.3)">Lose-shift probability (%)</text>
<text x="413" y="642.8" font-size="10.5" text-anchor="middle" fill="#222">Mean ACh (z-score)</text>
<text x="476.4" y="591.6" font-size="9.8" text-anchor="end" fill="#222"><tspan font-style="italic">r</tspan> = 0.67</text>
<text x="478.5" y="603.4" font-size="9.9" text-anchor="end" fill="#222"><tspan font-style="italic">P</tspan> = 0.03</text>
<text x="504" y="474.3" font-size="17.5" text-anchor="start" fill="#111" font-weight="bold">k</text>
<path d="M551.6,544.69 L554.63,545.24 L557.67,545.77 L560.7,546.27 L563.73,546.75 L566.77,547.2 L569.8,547.62 L572.83,548.03 L575.87,548.4 L578.9,548.76 L581.93,549.08 L584.97,549.38 L588,549.66 L591.03,549.91 L594.07,550.14 L597.1,550.34 L600.13,550.52 L603.17,550.67 L606.2,550.8 L609.23,550.9 L612.27,550.98 L615.3,551.03 L618.33,551.05 L621.37,551.06 L624.4,551.03 L627.43,550.99 L630.47,550.91 L633.5,550.81 L636.53,550.69 L639.57,550.54 L642.6,550.37 L645.63,550.17 L648.67,549.95 L651.7,549.7 L654.73,549.43 L657.77,549.13 L660.8,548.81 L663.83,548.46 L666.87,548.09 L669.9,547.69 L669.9,570.71 L666.87,569.77 L663.83,568.85 L660.8,567.96 L657.77,567.09 L654.73,566.25 L651.7,565.44 L648.67,564.65 L645.63,563.88 L642.6,563.14 L639.57,562.42 L636.53,561.73 L633.5,561.06 L630.47,560.42 L627.43,559.8 L624.4,559.21 L621.37,558.65 L618.33,558.1 L615.3,557.59 L612.27,557.1 L609.23,556.63 L606.2,556.19 L603.17,555.77 L600.13,555.38 L597.1,555.01 L594.07,554.67 L591.03,554.35 L588,554.06 L584.97,553.8 L581.93,553.55 L578.9,553.34 L575.87,553.15 L572.83,552.98 L569.8,552.84 L566.77,552.72 L563.73,552.63 L560.7,552.56 L557.67,552.52 L554.63,552.5 L551.6,552.51Z" fill="#e6e6e6" fill-opacity="0.6" stroke="none"/>
<path d="M551.6,544.69 L554.63,545.24 L557.67,545.77 L560.7,546.27 L563.73,546.75 L566.77,547.2 L569.8,547.62 L572.83,548.03 L575.87,548.4 L578.9,548.76 L581.93,549.08 L584.97,549.38 L588,549.66 L591.03,549.91 L594.07,550.14 L597.1,550.34 L600.13,550.52 L603.17,550.67 L606.2,550.8 L609.23,550.9 L612.27,550.98 L615.3,551.03 L618.33,551.05 L621.37,551.06 L624.4,551.03 L627.43,550.99 L630.47,550.91 L633.5,550.81 L636.53,550.69 L639.57,550.54 L642.6,550.37 L645.63,550.17 L648.67,549.95 L651.7,549.7 L654.73,549.43 L657.77,549.13 L660.8,548.81 L663.83,548.46 L666.87,548.09 L669.9,547.69" stroke="#444" stroke-width="0.55" fill="none" />
<path d="M551.6,552.51 L554.63,552.5 L557.67,552.52 L560.7,552.56 L563.73,552.63 L566.77,552.72 L569.8,552.84 L572.83,552.98 L575.87,553.15 L578.9,553.34 L581.93,553.55 L584.97,553.8 L588,554.06 L591.03,554.35 L594.07,554.67 L597.1,555.01 L600.13,555.38 L603.17,555.77 L606.2,556.19 L609.23,556.63 L612.27,557.1 L615.3,557.59 L618.33,558.1 L621.37,558.65 L624.4,559.21 L627.43,559.8 L630.47,560.42 L633.5,561.06 L636.53,561.73 L639.57,562.42 L642.6,563.14 L645.63,563.88 L648.67,564.65 L651.7,565.44 L654.73,566.25 L657.77,567.09 L660.8,567.96 L663.83,568.85 L666.87,569.77 L669.9,570.71" stroke="#444" stroke-width="0.55" fill="none" />
<circle cx="579.3" cy="490.4" r="1.05" fill="none" stroke="#1c2c98" stroke-width="0.75"/>
<circle cx="568.4" cy="508.2" r="1.05" fill="none" stroke="#1c2c98" stroke-width="0.75"/>
<circle cx="580.1" cy="507.1" r="1.05" fill="none" stroke="#1c2c98" stroke-width="0.75"/>
<circle cx="578" cy="509.9" r="1.05" fill="none" stroke="#1c2c98" stroke-width="0.75"/>
<circle cx="577.1" cy="513" r="1.05" fill="none" stroke="#1c2c98" stroke-width="0.75"/>
<circle cx="579.3" cy="513.6" r="1.05" fill="none" stroke="#1c2c98" stroke-width="0.75"/>
<circle cx="585.8" cy="515.8" r="1.05" fill="none" stroke="#1c2c98" stroke-width="0.75"/>
<circle cx="588.4" cy="516.4" r="1.05" fill="none" stroke="#1c2c98" stroke-width="0.75"/>
<circle cx="592.7" cy="518" r="1.05" fill="none" stroke="#1c2c98" stroke-width="0.75"/>
<circle cx="579.3" cy="520.8" r="1.05" fill="none" stroke="#1c2c98" stroke-width="0.75"/>
<circle cx="581.9" cy="520.1" r="1.05" fill="none" stroke="#1c2c98" stroke-width="0.75"/>
<circle cx="572.8" cy="524.4" r="1.05" fill="none" stroke="#1c2c98" stroke-width="0.75"/>
<circle cx="574.3" cy="524.4" r="1.05" fill="none" stroke="#1c2c98" stroke-width="0.75"/>
<circle cx="589.4" cy="521.8" r="1.05" fill="none" stroke="#1c2c98" stroke-width="0.75"/>
<circle cx="558" cy="526.6" r="1.05" fill="none" stroke="#1c2c98" stroke-width="0.75"/>
<circle cx="577.5" cy="526.6" r="1.05" fill="none" stroke="#1c2c98" stroke-width="0.75"/>
<circle cx="582.9" cy="525.5" r="1.05" fill="none" stroke="#1c2c98" stroke-width="0.75"/>
<circle cx="576.4" cy="528.8" r="1.05" fill="none" stroke="#1c2c98" stroke-width="0.75"/>
<circle cx="587.3" cy="531" r="1.05" fill="none" stroke="#1c2c98" stroke-width="0.75"/>
<circle cx="586.2" cy="533.1" r="1.05" fill="none" stroke="#1c2c98" stroke-width="0.75"/>
<circle cx="607.9" cy="531" r="1.05" fill="none" stroke="#1c2c98" stroke-width="0.75"/>
<circle cx="569.9" cy="535.9" r="1.05" fill="none" stroke="#1c2c98" stroke-width="0.75"/>
<circle cx="571" cy="538.5" r="1.05" fill="none" stroke="#1c2c98" stroke-width="0.75"/>
<circle cx="576.4" cy="538" r="1.05" fill="none" stroke="#1c2c98" stroke-width="0.75"/>
<circle cx="579.7" cy="537.5" r="1.05" fill="none" stroke="#1c2c98" stroke-width="0.75"/>
<circle cx="580.8" cy="538.5" r="1.05" fill="none" stroke="#1c2c98" stroke-width="0.75"/>
<circle cx="593.8" cy="537.5" r="1.05" fill="none" stroke="#1c2c98" stroke-width="0.75"/>
<circle cx="588.4" cy="538.1" r="1.05" fill="none" stroke="#1c2c98" stroke-width="0.75"/>
<circle cx="558" cy="540.7" r="1.05" fill="none" stroke="#1c2c98" stroke-width="0.75"/>
<circle cx="599.9" cy="541.1" r="1.05" fill="none" stroke="#1c2c98" stroke-width="0.75"/>
<circle cx="577.5" cy="542.9" r="1.05" fill="none" stroke="#1c2c98" stroke-width="0.75"/>
<circle cx="580.8" cy="542.9" r="1.05" fill="none" stroke="#1c2c98" stroke-width="0.75"/>
<circle cx="583" cy="542.9" r="1.05" fill="none" stroke="#1c2c98" stroke-width="0.75"/>
<circle cx="564.1" cy="545" r="1.05" fill="none" stroke="#1c2c98" stroke-width="0.75"/>
<circle cx="573.2" cy="546" r="1.05" fill="none" stroke="#1c2c98" stroke-width="0.75"/>
<circle cx="577.5" cy="545" r="1.05" fill="none" stroke="#1c2c98" stroke-width="0.75"/>
<circle cx="581.9" cy="544.6" r="1.05" fill="none" stroke="#1c2c98" stroke-width="0.75"/>
<circle cx="591.6" cy="545" r="1.05" fill="none" stroke="#1c2c98" stroke-width="0.75"/>
<circle cx="551.9" cy="556.3" r="1.05" fill="none" stroke="#1c2c98" stroke-width="0.75"/>
<circle cx="554.8" cy="552.6" r="1.05" fill="none" stroke="#1c2c98" stroke-width="0.75"/>
<circle cx="562.3" cy="562" r="1.05" fill="none" stroke="#1c2c98" stroke-width="0.75"/>
<circle cx="568.4" cy="560.3" r="1.05" fill="none" stroke="#1c2c98" stroke-width="0.75"/>
<circle cx="577.1" cy="562.8" r="1.05" fill="none" stroke="#1c2c98" stroke-width="0.75"/>
<circle cx="579.7" cy="565" r="1.05" fill="none" stroke="#1c2c98" stroke-width="0.75"/>
<circle cx="584" cy="560.3" r="1.05" fill="none" stroke="#1c2c98" stroke-width="0.75"/>
<circle cx="587.3" cy="562.5" r="1.05" fill="none" stroke="#1c2c98" stroke-width="0.75"/>
<circle cx="587.3" cy="564.6" r="1.05" fill="none" stroke="#1c2c98" stroke-width="0.75"/>
<circle cx="611.1" cy="570.6" r="1.05" fill="none" stroke="#1c2c98" stroke-width="0.75"/>
<circle cx="582.9" cy="573.7" r="1.05" fill="none" stroke="#1c2c98" stroke-width="0.75"/>
<circle cx="592.7" cy="575.4" r="1.05" fill="none" stroke="#1c2c98" stroke-width="0.75"/>
<circle cx="579.7" cy="578" r="1.05" fill="none" stroke="#1c2c98" stroke-width="0.75"/>
<circle cx="584" cy="593.8" r="1.05" fill="none" stroke="#1c2c98" stroke-width="0.75"/>
<circle cx="587.9" cy="591.7" r="1.05" fill="none" stroke="#1c2c98" stroke-width="0.75"/>
<circle cx="595.3" cy="601.4" r="1.05" fill="none" stroke="#1c2c98" stroke-width="0.75"/>
<circle cx="613.1" cy="555.9" r="1.05" fill="none" stroke="#1c2c98" stroke-width="0.75"/>
<circle cx="624.8" cy="555.5" r="1.05" fill="none" stroke="#1c2c98" stroke-width="0.75"/>
<circle cx="661.7" cy="553.7" r="1.05" fill="none" stroke="#1c2c98" stroke-width="0.75"/>
<circle cx="669.2" cy="553.7" r="1.05" fill="none" stroke="#1c2c98" stroke-width="0.75"/>
<circle cx="625" cy="554.6" r="1.05" fill="none" stroke="#1c2c98" stroke-width="0.75"/>
<circle cx="607.7" cy="556.8" r="1.05" fill="none" stroke="#1c2c98" stroke-width="0.75"/>
<circle cx="566" cy="549" r="1.05" fill="none" stroke="#1c2c98" stroke-width="0.75"/>
<circle cx="570" cy="548" r="1.05" fill="none" stroke="#1c2c98" stroke-width="0.75"/>
<circle cx="574" cy="549.5" r="1.05" fill="none" stroke="#1c2c98" stroke-width="0.75"/>
<circle cx="583" cy="548" r="1.05" fill="none" stroke="#1c2c98" stroke-width="0.75"/>
<circle cx="587" cy="550" r="1.05" fill="none" stroke="#1c2c98" stroke-width="0.75"/>
<circle cx="592" cy="549" r="1.05" fill="none" stroke="#1c2c98" stroke-width="0.75"/>
<circle cx="596" cy="548.5" r="1.05" fill="none" stroke="#1c2c98" stroke-width="0.75"/>
<circle cx="600" cy="550" r="1.05" fill="none" stroke="#1c2c98" stroke-width="0.75"/>
<circle cx="603" cy="551" r="1.05" fill="none" stroke="#1c2c98" stroke-width="0.75"/>
<circle cx="560" cy="555" r="1.05" fill="none" stroke="#1c2c98" stroke-width="0.75"/>
<circle cx="563" cy="557" r="1.05" fill="none" stroke="#1c2c98" stroke-width="0.75"/>
<circle cx="565" cy="554.5" r="1.05" fill="none" stroke="#1c2c98" stroke-width="0.75"/>
<circle cx="561" cy="558.5" r="1.05" fill="none" stroke="#1c2c98" stroke-width="0.75"/>
<circle cx="590" cy="559" r="1.05" fill="none" stroke="#1c2c98" stroke-width="0.75"/>
<circle cx="596" cy="558" r="1.05" fill="none" stroke="#1c2c98" stroke-width="0.75"/>
<circle cx="600" cy="557.5" r="1.05" fill="none" stroke="#1c2c98" stroke-width="0.75"/>
<circle cx="605" cy="556" r="1.05" fill="none" stroke="#1c2c98" stroke-width="0.75"/>
<circle cx="609" cy="554" r="1.05" fill="none" stroke="#1c2c98" stroke-width="0.75"/>
<circle cx="615" cy="557.5" r="1.05" fill="none" stroke="#1c2c98" stroke-width="0.75"/>
<circle cx="572" cy="559" r="1.05" fill="none" stroke="#1c2c98" stroke-width="0.75"/>
<circle cx="574" cy="561.5" r="1.05" fill="none" stroke="#1c2c98" stroke-width="0.75"/>
<circle cx="586" cy="553" r="1.05" fill="none" stroke="#1c2c98" stroke-width="0.75"/>
<circle cx="592" cy="553" r="1.05" fill="none" stroke="#1c2c98" stroke-width="0.75"/>
<circle cx="594" cy="555" r="1.05" fill="none" stroke="#1c2c98" stroke-width="0.75"/>
<circle cx="598" cy="553" r="1.05" fill="none" stroke="#1c2c98" stroke-width="0.75"/>
<circle cx="603" cy="553.5" r="1.05" fill="none" stroke="#1c2c98" stroke-width="0.75"/>
<circle cx="581.23" cy="555.53" r="1.05" fill="none" stroke="#1c2c98" stroke-width="0.75"/>
<circle cx="577.32" cy="553.8" r="1.05" fill="none" stroke="#1c2c98" stroke-width="0.75"/>
<circle cx="591.7" cy="557.03" r="1.05" fill="none" stroke="#1c2c98" stroke-width="0.75"/>
<circle cx="577.88" cy="556.7" r="1.05" fill="none" stroke="#1c2c98" stroke-width="0.75"/>
<circle cx="581.83" cy="555.5" r="1.05" fill="none" stroke="#1c2c98" stroke-width="0.75"/>
<circle cx="586.35" cy="555.72" r="1.05" fill="none" stroke="#1c2c98" stroke-width="0.75"/>
<circle cx="577.86" cy="555.29" r="1.05" fill="none" stroke="#1c2c98" stroke-width="0.75"/>
<circle cx="582.96" cy="555.91" r="1.05" fill="none" stroke="#1c2c98" stroke-width="0.75"/>
<circle cx="583.54" cy="555.45" r="1.05" fill="none" stroke="#1c2c98" stroke-width="0.75"/>
<circle cx="580.82" cy="555.2" r="1.05" fill="none" stroke="#1c2c98" stroke-width="0.75"/>
<circle cx="585.47" cy="556.17" r="1.05" fill="none" stroke="#1c2c98" stroke-width="0.75"/>
<circle cx="582.15" cy="556.37" r="1.05" fill="none" stroke="#1c2c98" stroke-width="0.75"/>
<circle cx="573.43" cy="556.7" r="1.05" fill="none" stroke="#1c2c98" stroke-width="0.75"/>
<circle cx="593.37" cy="554.53" r="1.05" fill="none" stroke="#1c2c98" stroke-width="0.75"/>
<circle cx="568.76" cy="554.65" r="1.05" fill="none" stroke="#1c2c98" stroke-width="0.75"/>
<circle cx="585.47" cy="556.12" r="1.05" fill="none" stroke="#1c2c98" stroke-width="0.75"/>
<circle cx="587.01" cy="556.65" r="1.05" fill="none" stroke="#1c2c98" stroke-width="0.75"/>
<circle cx="581.37" cy="556.26" r="1.05" fill="none" stroke="#1c2c98" stroke-width="0.75"/>
<circle cx="578.9" cy="556.78" r="1.05" fill="none" stroke="#1c2c98" stroke-width="0.75"/>
<circle cx="572.66" cy="555.62" r="1.05" fill="none" stroke="#1c2c98" stroke-width="0.75"/>
<circle cx="581.58" cy="557.62" r="1.05" fill="none" stroke="#1c2c98" stroke-width="0.75"/>
<circle cx="575.03" cy="555.03" r="1.05" fill="none" stroke="#1c2c98" stroke-width="0.75"/>
<circle cx="576.34" cy="556.87" r="1.05" fill="none" stroke="#1c2c98" stroke-width="0.75"/>
<circle cx="578.47" cy="557.19" r="1.05" fill="none" stroke="#1c2c98" stroke-width="0.75"/>
<circle cx="567.83" cy="557.02" r="1.05" fill="none" stroke="#1c2c98" stroke-width="0.75"/>
<circle cx="586.73" cy="554.72" r="1.05" fill="none" stroke="#1c2c98" stroke-width="0.75"/>
<circle cx="581" cy="557.09" r="1.05" fill="none" stroke="#1c2c98" stroke-width="0.75"/>
<circle cx="580.57" cy="556.9" r="1.05" fill="none" stroke="#1c2c98" stroke-width="0.75"/>
<circle cx="595.44" cy="556.25" r="1.05" fill="none" stroke="#1c2c98" stroke-width="0.75"/>
<circle cx="578.18" cy="555.31" r="1.05" fill="none" stroke="#1c2c98" stroke-width="0.75"/>
<circle cx="584.21" cy="555.82" r="1.05" fill="none" stroke="#1c2c98" stroke-width="0.75"/>
<circle cx="578.84" cy="555.91" r="1.05" fill="none" stroke="#1c2c98" stroke-width="0.75"/>
<circle cx="584.22" cy="555.04" r="1.05" fill="none" stroke="#1c2c98" stroke-width="0.75"/>
<circle cx="570.06" cy="553.81" r="1.05" fill="none" stroke="#1c2c98" stroke-width="0.75"/>
<circle cx="587.79" cy="556.07" r="1.05" fill="none" stroke="#1c2c98" stroke-width="0.75"/>
<circle cx="589.82" cy="555.99" r="1.05" fill="none" stroke="#1c2c98" stroke-width="0.75"/>
<circle cx="575.18" cy="556.43" r="1.05" fill="none" stroke="#1c2c98" stroke-width="0.75"/>
<circle cx="579.5" cy="554.87" r="1.05" fill="none" stroke="#1c2c98" stroke-width="0.75"/>
<circle cx="574.25" cy="557.59" r="1.05" fill="none" stroke="#1c2c98" stroke-width="0.75"/>
<circle cx="582.3" cy="556.37" r="1.05" fill="none" stroke="#1c2c98" stroke-width="0.75"/>
<circle cx="578.2" cy="555.38" r="1.05" fill="none" stroke="#1c2c98" stroke-width="0.75"/>
<circle cx="585.8" cy="555.91" r="1.05" fill="none" stroke="#1c2c98" stroke-width="0.75"/>
<circle cx="575.07" cy="555.88" r="1.05" fill="none" stroke="#1c2c98" stroke-width="0.75"/>
<circle cx="574.11" cy="556.17" r="1.05" fill="none" stroke="#1c2c98" stroke-width="0.75"/>
<circle cx="587.34" cy="555.25" r="1.05" fill="none" stroke="#1c2c98" stroke-width="0.75"/>
<circle cx="589.29" cy="555.4" r="1.05" fill="none" stroke="#1c2c98" stroke-width="0.75"/>
<circle cx="581" cy="555.25" r="1.05" fill="none" stroke="#1c2c98" stroke-width="0.75"/>
<circle cx="578.56" cy="556.04" r="1.05" fill="none" stroke="#1c2c98" stroke-width="0.75"/>
<circle cx="577.17" cy="555.37" r="1.05" fill="none" stroke="#1c2c98" stroke-width="0.75"/>
<circle cx="575.59" cy="555.26" r="1.05" fill="none" stroke="#1c2c98" stroke-width="0.75"/>
<circle cx="569.79" cy="555.76" r="1.05" fill="none" stroke="#1c2c98" stroke-width="0.75"/>
<circle cx="582.61" cy="556.82" r="1.05" fill="none" stroke="#1c2c98" stroke-width="0.75"/>
<circle cx="584.21" cy="558.21" r="1.05" fill="none" stroke="#1c2c98" stroke-width="0.75"/>
<circle cx="582.07" cy="555.59" r="1.05" fill="none" stroke="#1c2c98" stroke-width="0.75"/>
<circle cx="592.17" cy="555.06" r="1.05" fill="none" stroke="#1c2c98" stroke-width="0.75"/>
<circle cx="586.3" cy="555.14" r="1.05" fill="none" stroke="#1c2c98" stroke-width="0.75"/>
<circle cx="582.3" cy="554.23" r="1.05" fill="none" stroke="#1c2c98" stroke-width="0.75"/>
<circle cx="585.85" cy="555.86" r="1.05" fill="none" stroke="#1c2c98" stroke-width="0.75"/>
<circle cx="573.71" cy="557.51" r="1.05" fill="none" stroke="#1c2c98" stroke-width="0.75"/>
<circle cx="584.97" cy="556.04" r="1.05" fill="none" stroke="#1c2c98" stroke-width="0.75"/>
<circle cx="575.15" cy="555.96" r="1.05" fill="none" stroke="#1c2c98" stroke-width="0.75"/>
<circle cx="578.93" cy="556.65" r="1.05" fill="none" stroke="#1c2c98" stroke-width="0.75"/>
<circle cx="585.19" cy="555.4" r="1.05" fill="none" stroke="#1c2c98" stroke-width="0.75"/>
<circle cx="576.43" cy="555.52" r="1.05" fill="none" stroke="#1c2c98" stroke-width="0.75"/>
<circle cx="571.23" cy="555.47" r="1.05" fill="none" stroke="#1c2c98" stroke-width="0.75"/>
<circle cx="579.4" cy="556.62" r="1.05" fill="none" stroke="#1c2c98" stroke-width="0.75"/>
<circle cx="588.58" cy="555.27" r="1.05" fill="none" stroke="#1c2c98" stroke-width="0.75"/>
<circle cx="583.58" cy="555.6" r="1.05" fill="none" stroke="#1c2c98" stroke-width="0.75"/>
<circle cx="593.49" cy="555.96" r="1.05" fill="none" stroke="#1c2c98" stroke-width="0.75"/>
<circle cx="583.26" cy="555.16" r="1.05" fill="none" stroke="#1c2c98" stroke-width="0.75"/>
<circle cx="574.73" cy="556.18" r="1.05" fill="none" stroke="#1c2c98" stroke-width="0.75"/>
<circle cx="577.5" cy="556.32" r="1.05" fill="none" stroke="#1c2c98" stroke-width="0.75"/>
<circle cx="569.85" cy="556.6" r="1.05" fill="none" stroke="#1c2c98" stroke-width="0.75"/>
<circle cx="574.15" cy="557.55" r="1.05" fill="none" stroke="#1c2c98" stroke-width="0.75"/>
<circle cx="578.12" cy="556.99" r="1.05" fill="none" stroke="#1c2c98" stroke-width="0.75"/>
<circle cx="570.93" cy="556.39" r="1.05" fill="none" stroke="#1c2c98" stroke-width="0.75"/>
<circle cx="574.23" cy="555.56" r="1.05" fill="none" stroke="#1c2c98" stroke-width="0.75"/>
<circle cx="580.16" cy="555.71" r="1.05" fill="none" stroke="#1c2c98" stroke-width="0.75"/>
<circle cx="581.72" cy="556.67" r="1.05" fill="none" stroke="#1c2c98" stroke-width="0.75"/>
<circle cx="584.24" cy="555.92" r="1.05" fill="none" stroke="#1c2c98" stroke-width="0.75"/>
<line x1="551.6" y1="548.6" x2="669.9" y2="559.2" stroke="#ff5a3c" stroke-width="0.9" />
<line x1="545.5" y1="480.3" x2="545.5" y2="613.8" stroke="#333" stroke-width="0.8" />
<line x1="543" y1="480.2" x2="545.5" y2="480.2" stroke="#333" stroke-width="0.8" />
<text x="541.8" y="484.05" font-size="11" text-anchor="end" fill="#222">40</text>
<line x1="543" y1="518.2" x2="545.5" y2="518.2" stroke="#333" stroke-width="0.8" />
<text x="541.8" y="522.05" font-size="11" text-anchor="end" fill="#222">20</text>
<line x1="543" y1="556.2" x2="545.5" y2="556.2" stroke="#333" stroke-width="0.8" />
<text x="541.8" y="560.05" font-size="11" text-anchor="end" fill="#222">0</text>
<line x1="543" y1="594.2" x2="545.5" y2="594.2" stroke="#333" stroke-width="0.8" />
<text x="541.8" y="598.05" font-size="11" text-anchor="end" fill="#222">-20</text>
<line x1="544" y1="499.2" x2="545.5" y2="499.2" stroke="#333" stroke-width="0.6400000000000001" />
<line x1="544" y1="537.2" x2="545.5" y2="537.2" stroke="#333" stroke-width="0.6400000000000001" />
<line x1="544" y1="575.2" x2="545.5" y2="575.2" stroke="#333" stroke-width="0.6400000000000001" />
<line x1="544" y1="613.2" x2="545.5" y2="613.2" stroke="#333" stroke-width="0.6400000000000001" />
<line x1="545.5" y1="613.8" x2="679" y2="613.8" stroke="#333" stroke-width="0.8" />
<line x1="579.8" y1="613.8" x2="579.8" y2="616.3" stroke="#333" stroke-width="0.8" />
<text x="579.8" y="629.6" font-size="11" text-anchor="middle" fill="#222">0</text>
<line x1="629.4" y1="613.8" x2="629.4" y2="616.3" stroke="#333" stroke-width="0.8" />
<text x="629.4" y="629.6" font-size="11" text-anchor="middle" fill="#222">10</text>
<line x1="679" y1="613.8" x2="679" y2="616.3" stroke="#333" stroke-width="0.8" />
<text x="679" y="629.6" font-size="11" text-anchor="middle" fill="#222">20</text>
<line x1="555" y1="613.8" x2="555" y2="615.3" stroke="#333" stroke-width="0.6400000000000001" />
<line x1="604.6" y1="613.8" x2="604.6" y2="615.3" stroke="#333" stroke-width="0.6400000000000001" />
<line x1="654.2" y1="613.8" x2="654.2" y2="615.3" stroke="#333" stroke-width="0.6400000000000001" />
<text x="520.8" y="545.5" font-size="10.7" text-anchor="middle" fill="#222" transform="rotate(-90 520.8 545.5)">Velocity (cm/s)</text>
<text x="611.9" y="643.3" font-size="10.85" text-anchor="middle" fill="#222">Mean ACh (z-score)</text>
<text x="631.6" y="589.2" font-size="9.9" fill="#222"><tspan font-style="italic">r</tspan> = -0.096</text>
<text x="631.6" y="602.5" font-size="9.9" fill="#222"><tspan font-style="italic">P</tspan> = 0.14</text>
</svg></body></html>
